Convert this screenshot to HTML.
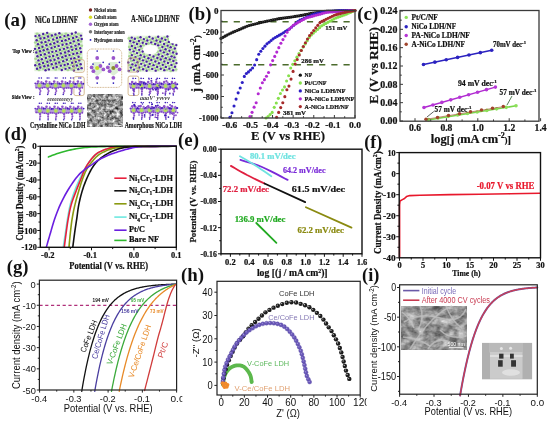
<!DOCTYPE html>
<html><head><meta charset="utf-8"><style>
html,body{margin:0;padding:0;background:#fff;}
svg{display:block;will-change:transform;}
</style></head><body>
<svg width="550" height="424" viewBox="0 0 550 424">
<defs>
<pattern id="crys" width="4.3" height="4.3" patternUnits="userSpaceOnUse" patternTransform="rotate(-20)">
  <rect width="4.3" height="4.3" fill="#d8eed0"/>
  <ellipse cx="2.15" cy="2.15" rx="1.9" ry="1.4" fill="#9ed286"/>
  <circle cx="0" cy="0" r="1.15" fill="#5024b8"/><circle cx="4.3" cy="0" r="1.15" fill="#5024b8"/>
  <circle cx="0" cy="4.3" r="1.15" fill="#5024b8"/><circle cx="4.3" cy="4.3" r="1.15" fill="#5024b8"/>
  <circle cx="2.15" cy="2.15" r="1.0" fill="#6a34c8"/>
</pattern>
<pattern id="crys2" width="4.3" height="4.3" patternUnits="userSpaceOnUse" patternTransform="rotate(35)">
  <rect width="4.3" height="4.3" fill="#e6f3e0"/>
  <ellipse cx="2.15" cy="2.15" rx="1.7" ry="1.2" fill="#a2d68c"/>
  <circle cx="0" cy="0" r="1.1" fill="#5024b8"/><circle cx="4.3" cy="0" r="1.1" fill="#5024b8"/>
  <circle cx="0" cy="4.3" r="1.1" fill="#5024b8"/><circle cx="4.3" cy="4.3" r="1.1" fill="#5024b8"/>
  <circle cx="2.15" cy="2.15" r="0.95" fill="#6a34c8"/>
</pattern>
<filter id="semf" x="0" y="0" width="1" height="1" color-interpolation-filters="sRGB">
  <feTurbulence type="fractalNoise" baseFrequency="0.3" numOctaves="3" seed="4" result="n"/>
  <feColorMatrix in="n" type="saturate" values="0" result="g"/>
  <feComponentTransfer in="g"><feFuncR type="linear" slope="1.7" intercept="-0.27"/><feFuncG type="linear" slope="1.7" intercept="-0.27"/><feFuncB type="linear" slope="1.7" intercept="-0.27"/><feFuncA type="linear" slope="0" intercept="1"/></feComponentTransfer>
</filter>
<filter id="semf2" x="0" y="0" width="1" height="1">
  <feTurbulence type="fractalNoise" baseFrequency="0.12" numOctaves="3" seed="9" result="n"/>
  <feColorMatrix in="n" type="saturate" values="0" result="g"/>
  <feComponentTransfer in="g"><feFuncR type="linear" slope="1.1" intercept="-0.02"/><feFuncG type="linear" slope="1.1" intercept="-0.02"/><feFuncB type="linear" slope="1.1" intercept="-0.02"/><feFuncA type="linear" slope="0" intercept="1"/></feComponentTransfer>
</filter>

<filter id="sem2f" x="0" y="0" width="1" height="1" color-interpolation-filters="sRGB">
  <feTurbulence type="fractalNoise" baseFrequency="0.12 0.16" numOctaves="3" seed="11" result="n"/>
  <feColorMatrix in="n" type="saturate" values="0" result="g"/>
  <feComponentTransfer in="g"><feFuncR type="linear" slope="1.0" intercept="0.08"/><feFuncG type="linear" slope="1.0" intercept="0.08"/><feFuncB type="linear" slope="1.0" intercept="0.08"/><feFuncA type="linear" slope="0" intercept="1"/></feComponentTransfer>
</filter>
</defs>
<rect width="550" height="424" fill="#fff"/>
<text x="4.20" y="25.90" font-family='"Liberation Serif", serif' font-weight="bold" font-size="19" fill="#111" textLength="22.00" lengthAdjust="spacingAndGlyphs">(a)</text>
<text x="34.90" y="23.10" font-family='"Liberation Serif", serif' font-weight="bold" font-size="10" fill="#111" stroke="#111" stroke-width="0.22" textLength="43.10" lengthAdjust="spacingAndGlyphs" >NiCo LDH/NF</text>
<text x="131.00" y="22.37" font-family='"Liberation Serif", serif' font-weight="bold" font-size="9.6" fill="#111" stroke="#111" stroke-width="0.22" textLength="48.50" lengthAdjust="spacingAndGlyphs" >A-NiCo LDH/NF</text>
<text x="12.40" y="52.68" font-family='"Liberation Serif", serif' font-weight="bold" font-size="6.6" fill="#111" stroke="#111" stroke-width="0.22" textLength="22.10" lengthAdjust="spacingAndGlyphs" >Top View :</text>
<text x="11.80" y="98.98" font-family='"Liberation Serif", serif' font-weight="bold" font-size="6.6" fill="#111" stroke="#111" stroke-width="0.22" textLength="22.70" lengthAdjust="spacingAndGlyphs" >Side View :</text>
<text x="30.00" y="127.84" font-family='"Liberation Serif", serif' font-weight="bold" font-size="8.6" fill="#111" stroke="#111" stroke-width="0.22" textLength="55.50" lengthAdjust="spacingAndGlyphs" >Crystalline NiCo LDH</text>
<text x="124.70" y="127.84" font-family='"Liberation Serif", serif' font-weight="bold" font-size="8.6" fill="#111" stroke="#111" stroke-width="0.22" textLength="57.40" lengthAdjust="spacingAndGlyphs" >Amorphous NiCo LDH</text>
<circle cx="90.5" cy="10" r="1.7" fill="#7a2222"/>
<text x="93.90" y="12.11" font-family='"Liberation Serif", serif' font-weight="bold" font-size="6.4" fill="#2a2a2a" stroke="#2a2a2a" stroke-width="0.22" textLength="22.60" lengthAdjust="spacingAndGlyphs" >Nickel atom</text>
<circle cx="90.5" cy="17.3" r="1.7" fill="#d8dc28"/>
<text x="93.90" y="19.41" font-family='"Liberation Serif", serif' font-weight="bold" font-size="6.4" fill="#2a2a2a" stroke="#2a2a2a" stroke-width="0.22" textLength="22.60" lengthAdjust="spacingAndGlyphs" >Cobalt atom</text>
<circle cx="90.5" cy="24.3" r="1.7" fill="#a466d4"/>
<text x="93.90" y="26.41" font-family='"Liberation Serif", serif' font-weight="bold" font-size="6.4" fill="#2a2a2a" stroke="#2a2a2a" stroke-width="0.22" textLength="24.60" lengthAdjust="spacingAndGlyphs" >Oxygen atom</text>
<circle cx="90.5" cy="31.7" r="1.7" fill="#767676"/>
<text x="93.90" y="33.81" font-family='"Liberation Serif", serif' font-weight="bold" font-size="6.4" fill="#2a2a2a" stroke="#2a2a2a" stroke-width="0.22" textLength="30.90" lengthAdjust="spacingAndGlyphs" >Interlayer anion</text>
<circle cx="90.5" cy="39.9" r="0.9" fill="#2a18b8"/>
<text x="93.90" y="42.01" font-family='"Liberation Serif", serif' font-weight="bold" font-size="6.4" fill="#2a2a2a" stroke="#2a2a2a" stroke-width="0.22" textLength="29.10" lengthAdjust="spacingAndGlyphs" >Hydrogen atom</text>
<rect x="34.4" y="32.4" width="48.30" height="38.80" fill="#dff0d8"/>
<ellipse cx="35.69" cy="58.78" rx="1.6" ry="1.3" fill="#acd898"/>
<ellipse cx="36.87" cy="62.61" rx="1.6" ry="1.3" fill="#acd898"/>
<ellipse cx="38.13" cy="66.09" rx="1.6" ry="1.3" fill="#acd898"/>
<ellipse cx="39.01" cy="69.99" rx="1.6" ry="1.3" fill="#acd898"/>
<ellipse cx="35.45" cy="42.44" rx="1.6" ry="1.3" fill="#acd898"/>
<ellipse cx="36.43" cy="46.04" rx="1.6" ry="1.3" fill="#acd898"/>
<ellipse cx="37.53" cy="50.27" rx="1.6" ry="1.3" fill="#acd898"/>
<ellipse cx="38.65" cy="53.59" rx="1.6" ry="1.3" fill="#acd898"/>
<ellipse cx="39.53" cy="57.37" rx="1.6" ry="1.3" fill="#acd898"/>
<ellipse cx="40.88" cy="61.68" rx="1.6" ry="1.3" fill="#acd898"/>
<ellipse cx="41.79" cy="65.43" rx="1.6" ry="1.3" fill="#acd898"/>
<ellipse cx="43.18" cy="68.81" rx="1.6" ry="1.3" fill="#acd898"/>
<ellipse cx="37.13" cy="33.71" rx="1.6" ry="1.3" fill="#acd898"/>
<ellipse cx="38.03" cy="37.43" rx="1.6" ry="1.3" fill="#acd898"/>
<ellipse cx="38.96" cy="41.40" rx="1.6" ry="1.3" fill="#acd898"/>
<ellipse cx="40.26" cy="45.41" rx="1.6" ry="1.3" fill="#acd898"/>
<ellipse cx="41.35" cy="48.75" rx="1.6" ry="1.3" fill="#acd898"/>
<ellipse cx="42.59" cy="52.79" rx="1.6" ry="1.3" fill="#acd898"/>
<ellipse cx="43.65" cy="56.59" rx="1.6" ry="1.3" fill="#acd898"/>
<ellipse cx="44.76" cy="60.64" rx="1.6" ry="1.3" fill="#acd898"/>
<ellipse cx="45.60" cy="63.94" rx="1.6" ry="1.3" fill="#acd898"/>
<ellipse cx="46.97" cy="67.68" rx="1.6" ry="1.3" fill="#acd898"/>
<ellipse cx="41.98" cy="36.74" rx="1.6" ry="1.3" fill="#acd898"/>
<ellipse cx="42.74" cy="40.00" rx="1.6" ry="1.3" fill="#acd898"/>
<ellipse cx="43.77" cy="43.99" rx="1.6" ry="1.3" fill="#acd898"/>
<ellipse cx="44.78" cy="48.07" rx="1.6" ry="1.3" fill="#acd898"/>
<ellipse cx="46.39" cy="51.58" rx="1.6" ry="1.3" fill="#acd898"/>
<ellipse cx="47.34" cy="55.51" rx="1.6" ry="1.3" fill="#acd898"/>
<ellipse cx="48.61" cy="59.25" rx="1.6" ry="1.3" fill="#acd898"/>
<ellipse cx="49.29" cy="62.93" rx="1.6" ry="1.3" fill="#acd898"/>
<ellipse cx="50.58" cy="66.56" rx="1.6" ry="1.3" fill="#acd898"/>
<ellipse cx="45.63" cy="35.09" rx="1.6" ry="1.3" fill="#acd898"/>
<ellipse cx="46.76" cy="39.06" rx="1.6" ry="1.3" fill="#acd898"/>
<ellipse cx="47.46" cy="42.69" rx="1.6" ry="1.3" fill="#acd898"/>
<ellipse cx="48.70" cy="46.72" rx="1.6" ry="1.3" fill="#acd898"/>
<ellipse cx="49.87" cy="50.44" rx="1.6" ry="1.3" fill="#acd898"/>
<ellipse cx="50.93" cy="54.28" rx="1.6" ry="1.3" fill="#acd898"/>
<ellipse cx="52.19" cy="58.29" rx="1.6" ry="1.3" fill="#acd898"/>
<ellipse cx="53.43" cy="61.79" rx="1.6" ry="1.3" fill="#acd898"/>
<ellipse cx="54.47" cy="65.51" rx="1.6" ry="1.3" fill="#acd898"/>
<ellipse cx="55.65" cy="69.51" rx="1.6" ry="1.3" fill="#acd898"/>
<ellipse cx="49.25" cy="34.34" rx="1.6" ry="1.3" fill="#acd898"/>
<ellipse cx="50.29" cy="37.82" rx="1.6" ry="1.3" fill="#acd898"/>
<ellipse cx="51.73" cy="42.05" rx="1.6" ry="1.3" fill="#acd898"/>
<ellipse cx="52.83" cy="45.74" rx="1.6" ry="1.3" fill="#acd898"/>
<ellipse cx="53.53" cy="49.33" rx="1.6" ry="1.3" fill="#acd898"/>
<ellipse cx="54.76" cy="53.20" rx="1.6" ry="1.3" fill="#acd898"/>
<ellipse cx="56.20" cy="56.84" rx="1.6" ry="1.3" fill="#acd898"/>
<ellipse cx="57.28" cy="61.14" rx="1.6" ry="1.3" fill="#acd898"/>
<ellipse cx="58.41" cy="64.48" rx="1.6" ry="1.3" fill="#acd898"/>
<ellipse cx="59.35" cy="68.46" rx="1.6" ry="1.3" fill="#acd898"/>
<ellipse cx="54.09" cy="36.69" rx="1.6" ry="1.3" fill="#acd898"/>
<ellipse cx="55.54" cy="40.48" rx="1.6" ry="1.3" fill="#acd898"/>
<ellipse cx="56.70" cy="44.79" rx="1.6" ry="1.3" fill="#acd898"/>
<ellipse cx="57.26" cy="48.50" rx="1.6" ry="1.3" fill="#acd898"/>
<ellipse cx="58.75" cy="52.16" rx="1.6" ry="1.3" fill="#acd898"/>
<ellipse cx="59.82" cy="55.85" rx="1.6" ry="1.3" fill="#acd898"/>
<ellipse cx="60.84" cy="59.92" rx="1.6" ry="1.3" fill="#acd898"/>
<ellipse cx="61.97" cy="63.74" rx="1.6" ry="1.3" fill="#acd898"/>
<ellipse cx="63.30" cy="67.53" rx="1.6" ry="1.3" fill="#acd898"/>
<ellipse cx="57.78" cy="35.71" rx="1.6" ry="1.3" fill="#acd898"/>
<ellipse cx="59.10" cy="39.63" rx="1.6" ry="1.3" fill="#acd898"/>
<ellipse cx="59.98" cy="43.23" rx="1.6" ry="1.3" fill="#acd898"/>
<ellipse cx="61.63" cy="47.46" rx="1.6" ry="1.3" fill="#acd898"/>
<ellipse cx="62.34" cy="50.94" rx="1.6" ry="1.3" fill="#acd898"/>
<ellipse cx="63.60" cy="54.77" rx="1.6" ry="1.3" fill="#acd898"/>
<ellipse cx="64.42" cy="58.68" rx="1.6" ry="1.3" fill="#acd898"/>
<ellipse cx="65.50" cy="62.26" rx="1.6" ry="1.3" fill="#acd898"/>
<ellipse cx="67.02" cy="66.18" rx="1.6" ry="1.3" fill="#acd898"/>
<ellipse cx="67.91" cy="69.97" rx="1.6" ry="1.3" fill="#acd898"/>
<ellipse cx="61.80" cy="34.87" rx="1.6" ry="1.3" fill="#acd898"/>
<ellipse cx="62.97" cy="38.67" rx="1.6" ry="1.3" fill="#acd898"/>
<ellipse cx="64.01" cy="42.58" rx="1.6" ry="1.3" fill="#acd898"/>
<ellipse cx="65.39" cy="46.32" rx="1.6" ry="1.3" fill="#acd898"/>
<ellipse cx="66.02" cy="50.14" rx="1.6" ry="1.3" fill="#acd898"/>
<ellipse cx="67.53" cy="53.85" rx="1.6" ry="1.3" fill="#acd898"/>
<ellipse cx="68.21" cy="57.60" rx="1.6" ry="1.3" fill="#acd898"/>
<ellipse cx="69.71" cy="61.08" rx="1.6" ry="1.3" fill="#acd898"/>
<ellipse cx="70.88" cy="64.96" rx="1.6" ry="1.3" fill="#acd898"/>
<ellipse cx="71.52" cy="69.16" rx="1.6" ry="1.3" fill="#acd898"/>
<ellipse cx="65.92" cy="33.70" rx="1.6" ry="1.3" fill="#acd898"/>
<ellipse cx="66.93" cy="37.17" rx="1.6" ry="1.3" fill="#acd898"/>
<ellipse cx="67.98" cy="41.01" rx="1.6" ry="1.3" fill="#acd898"/>
<ellipse cx="68.69" cy="44.94" rx="1.6" ry="1.3" fill="#acd898"/>
<ellipse cx="69.90" cy="48.66" rx="1.6" ry="1.3" fill="#acd898"/>
<ellipse cx="71.30" cy="52.59" rx="1.6" ry="1.3" fill="#acd898"/>
<ellipse cx="72.16" cy="56.40" rx="1.6" ry="1.3" fill="#acd898"/>
<ellipse cx="73.63" cy="60.20" rx="1.6" ry="1.3" fill="#acd898"/>
<ellipse cx="74.56" cy="64.20" rx="1.6" ry="1.3" fill="#acd898"/>
<ellipse cx="75.54" cy="67.94" rx="1.6" ry="1.3" fill="#acd898"/>
<ellipse cx="70.80" cy="36.36" rx="1.6" ry="1.3" fill="#acd898"/>
<ellipse cx="71.46" cy="40.01" rx="1.6" ry="1.3" fill="#acd898"/>
<ellipse cx="72.64" cy="43.79" rx="1.6" ry="1.3" fill="#acd898"/>
<ellipse cx="73.73" cy="47.87" rx="1.6" ry="1.3" fill="#acd898"/>
<ellipse cx="75.00" cy="51.41" rx="1.6" ry="1.3" fill="#acd898"/>
<ellipse cx="76.04" cy="55.28" rx="1.6" ry="1.3" fill="#acd898"/>
<ellipse cx="77.04" cy="59.31" rx="1.6" ry="1.3" fill="#acd898"/>
<ellipse cx="78.24" cy="63.01" rx="1.6" ry="1.3" fill="#acd898"/>
<ellipse cx="79.54" cy="66.78" rx="1.6" ry="1.3" fill="#acd898"/>
<ellipse cx="74.49" cy="35.53" rx="1.6" ry="1.3" fill="#acd898"/>
<ellipse cx="75.29" cy="39.18" rx="1.6" ry="1.3" fill="#acd898"/>
<ellipse cx="76.76" cy="42.70" rx="1.6" ry="1.3" fill="#acd898"/>
<ellipse cx="77.46" cy="46.77" rx="1.6" ry="1.3" fill="#acd898"/>
<ellipse cx="78.60" cy="50.67" rx="1.6" ry="1.3" fill="#acd898"/>
<ellipse cx="79.99" cy="54.00" rx="1.6" ry="1.3" fill="#acd898"/>
<ellipse cx="80.83" cy="57.96" rx="1.6" ry="1.3" fill="#acd898"/>
<ellipse cx="78.42" cy="34.08" rx="1.6" ry="1.3" fill="#acd898"/>
<ellipse cx="79.11" cy="38.05" rx="1.6" ry="1.3" fill="#acd898"/>
<ellipse cx="80.60" cy="41.51" rx="1.6" ry="1.3" fill="#acd898"/>
<ellipse cx="81.61" cy="45.70" rx="1.6" ry="1.3" fill="#acd898"/>
<circle cx="35.26" cy="65.24" r="1.2" fill="#4c22a0"/>
<circle cx="37.05" cy="68.78" r="1.2" fill="#4c22a0"/>
<circle cx="35.02" cy="48.87" r="1.2" fill="#4c22a0"/>
<circle cx="36.28" cy="52.56" r="1.2" fill="#4c22a0"/>
<circle cx="37.46" cy="56.28" r="1.2" fill="#4c22a0"/>
<circle cx="38.45" cy="60.39" r="1.2" fill="#4c22a0"/>
<circle cx="39.36" cy="64.20" r="1.2" fill="#4c22a0"/>
<circle cx="40.25" cy="67.50" r="1.2" fill="#4c22a0"/>
<circle cx="35.51" cy="36.12" r="1.2" fill="#4c22a0"/>
<circle cx="36.66" cy="40.28" r="1.2" fill="#4c22a0"/>
<circle cx="37.95" cy="44.14" r="1.2" fill="#4c22a0"/>
<circle cx="39.05" cy="47.93" r="1.2" fill="#4c22a0"/>
<circle cx="40.05" cy="51.20" r="1.2" fill="#4c22a0"/>
<circle cx="40.85" cy="54.89" r="1.2" fill="#4c22a0"/>
<circle cx="41.81" cy="59.21" r="1.2" fill="#4c22a0"/>
<circle cx="43.06" cy="62.99" r="1.2" fill="#4c22a0"/>
<circle cx="44.38" cy="66.28" r="1.2" fill="#4c22a0"/>
<circle cx="45.55" cy="70.28" r="1.2" fill="#4c22a0"/>
<circle cx="39.30" cy="35.45" r="1.2" fill="#4c22a0"/>
<circle cx="40.47" cy="38.57" r="1.2" fill="#4c22a0"/>
<circle cx="41.58" cy="42.46" r="1.2" fill="#4c22a0"/>
<circle cx="42.47" cy="46.82" r="1.2" fill="#4c22a0"/>
<circle cx="43.67" cy="50.31" r="1.2" fill="#4c22a0"/>
<circle cx="44.84" cy="54.18" r="1.2" fill="#4c22a0"/>
<circle cx="45.85" cy="58.05" r="1.2" fill="#4c22a0"/>
<circle cx="47.33" cy="61.71" r="1.2" fill="#4c22a0"/>
<circle cx="48.04" cy="65.56" r="1.2" fill="#4c22a0"/>
<circle cx="48.86" cy="69.38" r="1.2" fill="#4c22a0"/>
<circle cx="43.19" cy="33.98" r="1.2" fill="#4c22a0"/>
<circle cx="44.34" cy="37.97" r="1.2" fill="#4c22a0"/>
<circle cx="45.42" cy="41.92" r="1.2" fill="#4c22a0"/>
<circle cx="46.46" cy="45.27" r="1.2" fill="#4c22a0"/>
<circle cx="47.41" cy="49.27" r="1.2" fill="#4c22a0"/>
<circle cx="48.79" cy="52.67" r="1.2" fill="#4c22a0"/>
<circle cx="49.57" cy="56.61" r="1.2" fill="#4c22a0"/>
<circle cx="50.58" cy="60.55" r="1.2" fill="#4c22a0"/>
<circle cx="51.78" cy="64.28" r="1.2" fill="#4c22a0"/>
<circle cx="53.25" cy="67.97" r="1.2" fill="#4c22a0"/>
<circle cx="47.17" cy="32.87" r="1.2" fill="#4c22a0"/>
<circle cx="48.02" cy="36.48" r="1.2" fill="#4c22a0"/>
<circle cx="48.88" cy="40.35" r="1.2" fill="#4c22a0"/>
<circle cx="50.41" cy="44.19" r="1.2" fill="#4c22a0"/>
<circle cx="51.51" cy="47.94" r="1.2" fill="#4c22a0"/>
<circle cx="52.34" cy="51.84" r="1.2" fill="#4c22a0"/>
<circle cx="53.15" cy="56.01" r="1.2" fill="#4c22a0"/>
<circle cx="54.55" cy="59.82" r="1.2" fill="#4c22a0"/>
<circle cx="55.87" cy="63.54" r="1.2" fill="#4c22a0"/>
<circle cx="56.65" cy="66.99" r="1.2" fill="#4c22a0"/>
<circle cx="51.86" cy="35.45" r="1.2" fill="#4c22a0"/>
<circle cx="53.18" cy="39.54" r="1.2" fill="#4c22a0"/>
<circle cx="54.28" cy="43.25" r="1.2" fill="#4c22a0"/>
<circle cx="54.87" cy="46.86" r="1.2" fill="#4c22a0"/>
<circle cx="56.14" cy="51.11" r="1.2" fill="#4c22a0"/>
<circle cx="57.13" cy="54.85" r="1.2" fill="#4c22a0"/>
<circle cx="58.30" cy="58.19" r="1.2" fill="#4c22a0"/>
<circle cx="59.27" cy="62.40" r="1.2" fill="#4c22a0"/>
<circle cx="60.83" cy="65.66" r="1.2" fill="#4c22a0"/>
<circle cx="61.79" cy="70.05" r="1.2" fill="#4c22a0"/>
<circle cx="55.44" cy="34.52" r="1.2" fill="#4c22a0"/>
<circle cx="56.89" cy="37.95" r="1.2" fill="#4c22a0"/>
<circle cx="57.54" cy="41.80" r="1.2" fill="#4c22a0"/>
<circle cx="58.61" cy="45.90" r="1.2" fill="#4c22a0"/>
<circle cx="59.90" cy="49.80" r="1.2" fill="#4c22a0"/>
<circle cx="60.88" cy="53.38" r="1.2" fill="#4c22a0"/>
<circle cx="62.35" cy="57.22" r="1.2" fill="#4c22a0"/>
<circle cx="63.21" cy="61.17" r="1.2" fill="#4c22a0"/>
<circle cx="64.61" cy="64.99" r="1.2" fill="#4c22a0"/>
<circle cx="65.50" cy="68.84" r="1.2" fill="#4c22a0"/>
<circle cx="59.37" cy="33.22" r="1.2" fill="#4c22a0"/>
<circle cx="60.20" cy="37.15" r="1.2" fill="#4c22a0"/>
<circle cx="61.91" cy="40.91" r="1.2" fill="#4c22a0"/>
<circle cx="62.53" cy="44.77" r="1.2" fill="#4c22a0"/>
<circle cx="63.91" cy="48.87" r="1.2" fill="#4c22a0"/>
<circle cx="65.06" cy="52.44" r="1.2" fill="#4c22a0"/>
<circle cx="65.65" cy="55.95" r="1.2" fill="#4c22a0"/>
<circle cx="66.81" cy="59.72" r="1.2" fill="#4c22a0"/>
<circle cx="67.87" cy="64.04" r="1.2" fill="#4c22a0"/>
<circle cx="69.42" cy="67.84" r="1.2" fill="#4c22a0"/>
<circle cx="64.49" cy="36.11" r="1.2" fill="#4c22a0"/>
<circle cx="65.57" cy="40.20" r="1.2" fill="#4c22a0"/>
<circle cx="66.54" cy="43.93" r="1.2" fill="#4c22a0"/>
<circle cx="67.42" cy="47.58" r="1.2" fill="#4c22a0"/>
<circle cx="68.61" cy="51.23" r="1.2" fill="#4c22a0"/>
<circle cx="69.51" cy="55.10" r="1.2" fill="#4c22a0"/>
<circle cx="71.07" cy="58.66" r="1.2" fill="#4c22a0"/>
<circle cx="72.12" cy="62.71" r="1.2" fill="#4c22a0"/>
<circle cx="73.38" cy="66.25" r="1.2" fill="#4c22a0"/>
<circle cx="73.92" cy="70.47" r="1.2" fill="#4c22a0"/>
<circle cx="68.06" cy="35.15" r="1.2" fill="#4c22a0"/>
<circle cx="68.99" cy="38.86" r="1.2" fill="#4c22a0"/>
<circle cx="70.43" cy="42.92" r="1.2" fill="#4c22a0"/>
<circle cx="71.34" cy="46.65" r="1.2" fill="#4c22a0"/>
<circle cx="72.30" cy="49.87" r="1.2" fill="#4c22a0"/>
<circle cx="73.37" cy="53.90" r="1.2" fill="#4c22a0"/>
<circle cx="74.45" cy="58.14" r="1.2" fill="#4c22a0"/>
<circle cx="75.78" cy="61.83" r="1.2" fill="#4c22a0"/>
<circle cx="76.89" cy="65.55" r="1.2" fill="#4c22a0"/>
<circle cx="78.25" cy="69.13" r="1.2" fill="#4c22a0"/>
<circle cx="71.88" cy="33.71" r="1.2" fill="#4c22a0"/>
<circle cx="73.12" cy="38.02" r="1.2" fill="#4c22a0"/>
<circle cx="73.88" cy="41.33" r="1.2" fill="#4c22a0"/>
<circle cx="75.45" cy="45.58" r="1.2" fill="#4c22a0"/>
<circle cx="76.17" cy="49.05" r="1.2" fill="#4c22a0"/>
<circle cx="77.11" cy="53.13" r="1.2" fill="#4c22a0"/>
<circle cx="78.56" cy="56.82" r="1.2" fill="#4c22a0"/>
<circle cx="79.25" cy="60.38" r="1.2" fill="#4c22a0"/>
<circle cx="80.66" cy="64.29" r="1.2" fill="#4c22a0"/>
<circle cx="81.60" cy="68.16" r="1.2" fill="#4c22a0"/>
<circle cx="75.73" cy="32.53" r="1.2" fill="#4c22a0"/>
<circle cx="76.53" cy="36.87" r="1.2" fill="#4c22a0"/>
<circle cx="78.21" cy="40.31" r="1.2" fill="#4c22a0"/>
<circle cx="78.86" cy="44.32" r="1.2" fill="#4c22a0"/>
<circle cx="80.21" cy="48.21" r="1.2" fill="#4c22a0"/>
<circle cx="81.04" cy="51.98" r="1.2" fill="#4c22a0"/>
<circle cx="80.92" cy="35.62" r="1.2" fill="#4c22a0"/>
<circle cx="81.73" cy="39.03" r="1.2" fill="#4c22a0"/>
<rect x="128" y="35.6" width="49.20" height="36.50" fill="#e8f4e2"/>
<ellipse cx="129.02" cy="38.40" rx="1.6" ry="1.3" fill="#acd898"/>
<ellipse cx="132.73" cy="40.22" rx="1.6" ry="1.3" fill="#acd898"/>
<ellipse cx="130.57" cy="43.53" rx="1.6" ry="1.3" fill="#acd898"/>
<ellipse cx="129.39" cy="46.92" rx="1.6" ry="1.3" fill="#acd898"/>
<ellipse cx="137.83" cy="37.90" rx="1.6" ry="1.3" fill="#acd898"/>
<ellipse cx="136.18" cy="41.69" rx="1.6" ry="1.3" fill="#acd898"/>
<ellipse cx="134.32" cy="45.50" rx="1.6" ry="1.3" fill="#acd898"/>
<ellipse cx="132.93" cy="48.63" rx="1.6" ry="1.3" fill="#acd898"/>
<ellipse cx="130.75" cy="52.67" rx="1.6" ry="1.3" fill="#acd898"/>
<ellipse cx="129.64" cy="56.27" rx="1.6" ry="1.3" fill="#acd898"/>
<ellipse cx="141.32" cy="40.03" rx="1.6" ry="1.3" fill="#acd898"/>
<ellipse cx="139.57" cy="43.61" rx="1.6" ry="1.3" fill="#acd898"/>
<ellipse cx="138.29" cy="46.83" rx="1.6" ry="1.3" fill="#acd898"/>
<ellipse cx="136.14" cy="50.29" rx="1.6" ry="1.3" fill="#acd898"/>
<ellipse cx="134.35" cy="54.26" rx="1.6" ry="1.3" fill="#acd898"/>
<ellipse cx="133.14" cy="57.74" rx="1.6" ry="1.3" fill="#acd898"/>
<ellipse cx="131.37" cy="61.08" rx="1.6" ry="1.3" fill="#acd898"/>
<ellipse cx="129.70" cy="65.16" rx="1.6" ry="1.3" fill="#acd898"/>
<ellipse cx="146.67" cy="37.90" rx="1.6" ry="1.3" fill="#acd898"/>
<ellipse cx="144.76" cy="41.18" rx="1.6" ry="1.3" fill="#acd898"/>
<ellipse cx="143.17" cy="45.20" rx="1.6" ry="1.3" fill="#acd898"/>
<ellipse cx="141.56" cy="48.56" rx="1.6" ry="1.3" fill="#acd898"/>
<ellipse cx="139.71" cy="52.40" rx="1.6" ry="1.3" fill="#acd898"/>
<ellipse cx="137.97" cy="56.12" rx="1.6" ry="1.3" fill="#acd898"/>
<ellipse cx="136.62" cy="59.70" rx="1.6" ry="1.3" fill="#acd898"/>
<ellipse cx="134.88" cy="62.94" rx="1.6" ry="1.3" fill="#acd898"/>
<ellipse cx="132.90" cy="66.44" rx="1.6" ry="1.3" fill="#acd898"/>
<ellipse cx="131.25" cy="69.98" rx="1.6" ry="1.3" fill="#acd898"/>
<ellipse cx="150.41" cy="39.75" rx="1.6" ry="1.3" fill="#acd898"/>
<ellipse cx="148.38" cy="43.40" rx="1.6" ry="1.3" fill="#acd898"/>
<ellipse cx="143.69" cy="54.22" rx="1.6" ry="1.3" fill="#acd898"/>
<ellipse cx="141.61" cy="57.51" rx="1.6" ry="1.3" fill="#acd898"/>
<ellipse cx="140.03" cy="61.12" rx="1.6" ry="1.3" fill="#acd898"/>
<ellipse cx="138.74" cy="64.72" rx="1.6" ry="1.3" fill="#acd898"/>
<ellipse cx="136.74" cy="68.22" rx="1.6" ry="1.3" fill="#acd898"/>
<ellipse cx="155.93" cy="37.73" rx="1.6" ry="1.3" fill="#acd898"/>
<ellipse cx="153.95" cy="41.15" rx="1.6" ry="1.3" fill="#acd898"/>
<ellipse cx="152.42" cy="45.07" rx="1.6" ry="1.3" fill="#acd898"/>
<ellipse cx="147.31" cy="55.77" rx="1.6" ry="1.3" fill="#acd898"/>
<ellipse cx="145.55" cy="59.41" rx="1.6" ry="1.3" fill="#acd898"/>
<ellipse cx="143.62" cy="62.84" rx="1.6" ry="1.3" fill="#acd898"/>
<ellipse cx="141.93" cy="66.72" rx="1.6" ry="1.3" fill="#acd898"/>
<ellipse cx="140.06" cy="70.08" rx="1.6" ry="1.3" fill="#acd898"/>
<ellipse cx="159.34" cy="39.53" rx="1.6" ry="1.3" fill="#acd898"/>
<ellipse cx="157.69" cy="43.15" rx="1.6" ry="1.3" fill="#acd898"/>
<ellipse cx="151.04" cy="57.62" rx="1.6" ry="1.3" fill="#acd898"/>
<ellipse cx="148.85" cy="61.15" rx="1.6" ry="1.3" fill="#acd898"/>
<ellipse cx="147.46" cy="64.68" rx="1.6" ry="1.3" fill="#acd898"/>
<ellipse cx="145.82" cy="68.20" rx="1.6" ry="1.3" fill="#acd898"/>
<ellipse cx="164.63" cy="37.58" rx="1.6" ry="1.3" fill="#acd898"/>
<ellipse cx="162.57" cy="40.85" rx="1.6" ry="1.3" fill="#acd898"/>
<ellipse cx="160.98" cy="44.76" rx="1.6" ry="1.3" fill="#acd898"/>
<ellipse cx="159.43" cy="48.09" rx="1.6" ry="1.3" fill="#acd898"/>
<ellipse cx="157.64" cy="51.66" rx="1.6" ry="1.3" fill="#acd898"/>
<ellipse cx="155.87" cy="55.17" rx="1.6" ry="1.3" fill="#acd898"/>
<ellipse cx="154.33" cy="58.98" rx="1.6" ry="1.3" fill="#acd898"/>
<ellipse cx="152.49" cy="62.89" rx="1.6" ry="1.3" fill="#acd898"/>
<ellipse cx="150.82" cy="66.20" rx="1.6" ry="1.3" fill="#acd898"/>
<ellipse cx="149.17" cy="69.57" rx="1.6" ry="1.3" fill="#acd898"/>
<ellipse cx="168.20" cy="39.42" rx="1.6" ry="1.3" fill="#acd898"/>
<ellipse cx="166.64" cy="42.84" rx="1.6" ry="1.3" fill="#acd898"/>
<ellipse cx="164.81" cy="46.39" rx="1.6" ry="1.3" fill="#acd898"/>
<ellipse cx="163.12" cy="49.86" rx="1.6" ry="1.3" fill="#acd898"/>
<ellipse cx="161.11" cy="53.59" rx="1.6" ry="1.3" fill="#acd898"/>
<ellipse cx="159.73" cy="57.38" rx="1.6" ry="1.3" fill="#acd898"/>
<ellipse cx="157.79" cy="60.62" rx="1.6" ry="1.3" fill="#acd898"/>
<ellipse cx="156.53" cy="64.60" rx="1.6" ry="1.3" fill="#acd898"/>
<ellipse cx="154.84" cy="67.95" rx="1.6" ry="1.3" fill="#acd898"/>
<ellipse cx="169.92" cy="44.44" rx="1.6" ry="1.3" fill="#acd898"/>
<ellipse cx="168.32" cy="47.93" rx="1.6" ry="1.3" fill="#acd898"/>
<ellipse cx="166.36" cy="51.67" rx="1.6" ry="1.3" fill="#acd898"/>
<ellipse cx="165.12" cy="55.10" rx="1.6" ry="1.3" fill="#acd898"/>
<ellipse cx="163.54" cy="58.73" rx="1.6" ry="1.3" fill="#acd898"/>
<ellipse cx="161.64" cy="62.51" rx="1.6" ry="1.3" fill="#acd898"/>
<ellipse cx="160.01" cy="65.93" rx="1.6" ry="1.3" fill="#acd898"/>
<ellipse cx="158.03" cy="69.67" rx="1.6" ry="1.3" fill="#acd898"/>
<ellipse cx="173.37" cy="46.00" rx="1.6" ry="1.3" fill="#acd898"/>
<ellipse cx="172.18" cy="49.78" rx="1.6" ry="1.3" fill="#acd898"/>
<ellipse cx="170.21" cy="53.40" rx="1.6" ry="1.3" fill="#acd898"/>
<ellipse cx="168.54" cy="57.20" rx="1.6" ry="1.3" fill="#acd898"/>
<ellipse cx="167.06" cy="60.37" rx="1.6" ry="1.3" fill="#acd898"/>
<ellipse cx="164.89" cy="64.35" rx="1.6" ry="1.3" fill="#acd898"/>
<ellipse cx="163.32" cy="67.92" rx="1.6" ry="1.3" fill="#acd898"/>
<ellipse cx="175.34" cy="51.50" rx="1.6" ry="1.3" fill="#acd898"/>
<ellipse cx="173.69" cy="55.24" rx="1.6" ry="1.3" fill="#acd898"/>
<ellipse cx="171.87" cy="58.78" rx="1.6" ry="1.3" fill="#acd898"/>
<ellipse cx="170.57" cy="61.98" rx="1.6" ry="1.3" fill="#acd898"/>
<ellipse cx="168.84" cy="66.12" rx="1.6" ry="1.3" fill="#acd898"/>
<ellipse cx="166.93" cy="69.70" rx="1.6" ry="1.3" fill="#acd898"/>
<ellipse cx="175.51" cy="60.28" rx="1.6" ry="1.3" fill="#acd898"/>
<ellipse cx="174.10" cy="64.10" rx="1.6" ry="1.3" fill="#acd898"/>
<ellipse cx="172.31" cy="67.44" rx="1.6" ry="1.3" fill="#acd898"/>
<ellipse cx="170.91" cy="71.07" rx="1.6" ry="1.3" fill="#acd898"/>
<ellipse cx="175.95" cy="69.50" rx="1.6" ry="1.3" fill="#acd898"/>
<circle cx="131.77" cy="37.60" r="1.2" fill="#4c22a0"/>
<circle cx="130.21" cy="41.00" r="1.2" fill="#4c22a0"/>
<circle cx="134.86" cy="38.80" r="1.2" fill="#4c22a0"/>
<circle cx="133.69" cy="42.36" r="1.2" fill="#4c22a0"/>
<circle cx="131.88" cy="45.94" r="1.2" fill="#4c22a0"/>
<circle cx="129.90" cy="49.60" r="1.2" fill="#4c22a0"/>
<circle cx="140.53" cy="37.22" r="1.2" fill="#4c22a0"/>
<circle cx="138.93" cy="41.03" r="1.2" fill="#4c22a0"/>
<circle cx="137.00" cy="44.07" r="1.2" fill="#4c22a0"/>
<circle cx="135.26" cy="47.97" r="1.2" fill="#4c22a0"/>
<circle cx="133.59" cy="51.37" r="1.2" fill="#4c22a0"/>
<circle cx="131.87" cy="55.09" r="1.2" fill="#4c22a0"/>
<circle cx="130.63" cy="58.37" r="1.2" fill="#4c22a0"/>
<circle cx="128.26" cy="62.50" r="1.2" fill="#4c22a0"/>
<circle cx="143.88" cy="39.12" r="1.2" fill="#4c22a0"/>
<circle cx="142.70" cy="42.71" r="1.2" fill="#4c22a0"/>
<circle cx="140.72" cy="46.19" r="1.2" fill="#4c22a0"/>
<circle cx="139.21" cy="49.85" r="1.2" fill="#4c22a0"/>
<circle cx="137.01" cy="53.09" r="1.2" fill="#4c22a0"/>
<circle cx="135.49" cy="57.10" r="1.2" fill="#4c22a0"/>
<circle cx="133.77" cy="60.17" r="1.2" fill="#4c22a0"/>
<circle cx="132.33" cy="64.35" r="1.2" fill="#4c22a0"/>
<circle cx="130.84" cy="67.62" r="1.2" fill="#4c22a0"/>
<circle cx="128.73" cy="71.02" r="1.2" fill="#4c22a0"/>
<circle cx="149.37" cy="36.85" r="1.2" fill="#4c22a0"/>
<circle cx="147.37" cy="40.50" r="1.2" fill="#4c22a0"/>
<circle cx="146.24" cy="43.84" r="1.2" fill="#4c22a0"/>
<circle cx="142.69" cy="51.50" r="1.2" fill="#4c22a0"/>
<circle cx="140.65" cy="55.14" r="1.2" fill="#4c22a0"/>
<circle cx="139.55" cy="58.75" r="1.2" fill="#4c22a0"/>
<circle cx="137.49" cy="62.26" r="1.2" fill="#4c22a0"/>
<circle cx="135.73" cy="65.45" r="1.2" fill="#4c22a0"/>
<circle cx="134.01" cy="69.64" r="1.2" fill="#4c22a0"/>
<circle cx="152.71" cy="38.44" r="1.2" fill="#4c22a0"/>
<circle cx="151.20" cy="42.40" r="1.2" fill="#4c22a0"/>
<circle cx="144.40" cy="56.74" r="1.2" fill="#4c22a0"/>
<circle cx="142.99" cy="60.33" r="1.2" fill="#4c22a0"/>
<circle cx="141.20" cy="63.86" r="1.2" fill="#4c22a0"/>
<circle cx="139.23" cy="67.52" r="1.2" fill="#4c22a0"/>
<circle cx="137.67" cy="71.22" r="1.2" fill="#4c22a0"/>
<circle cx="158.19" cy="36.80" r="1.2" fill="#4c22a0"/>
<circle cx="156.50" cy="40.54" r="1.2" fill="#4c22a0"/>
<circle cx="155.16" cy="44.03" r="1.2" fill="#4c22a0"/>
<circle cx="149.81" cy="54.72" r="1.2" fill="#4c22a0"/>
<circle cx="148.41" cy="58.28" r="1.2" fill="#4c22a0"/>
<circle cx="146.56" cy="61.67" r="1.2" fill="#4c22a0"/>
<circle cx="144.82" cy="65.44" r="1.2" fill="#4c22a0"/>
<circle cx="143.09" cy="69.29" r="1.2" fill="#4c22a0"/>
<circle cx="161.86" cy="38.51" r="1.2" fill="#4c22a0"/>
<circle cx="160.29" cy="41.68" r="1.2" fill="#4c22a0"/>
<circle cx="158.19" cy="45.34" r="1.2" fill="#4c22a0"/>
<circle cx="153.48" cy="56.46" r="1.2" fill="#4c22a0"/>
<circle cx="151.35" cy="59.93" r="1.2" fill="#4c22a0"/>
<circle cx="149.73" cy="63.83" r="1.2" fill="#4c22a0"/>
<circle cx="148.38" cy="66.92" r="1.2" fill="#4c22a0"/>
<circle cx="146.63" cy="70.69" r="1.2" fill="#4c22a0"/>
<circle cx="167.42" cy="36.44" r="1.2" fill="#4c22a0"/>
<circle cx="165.41" cy="39.85" r="1.2" fill="#4c22a0"/>
<circle cx="164.12" cy="44.03" r="1.2" fill="#4c22a0"/>
<circle cx="162.38" cy="46.95" r="1.2" fill="#4c22a0"/>
<circle cx="160.48" cy="50.65" r="1.2" fill="#4c22a0"/>
<circle cx="158.61" cy="54.45" r="1.2" fill="#4c22a0"/>
<circle cx="157.33" cy="58.02" r="1.2" fill="#4c22a0"/>
<circle cx="155.37" cy="61.53" r="1.2" fill="#4c22a0"/>
<circle cx="153.54" cy="65.17" r="1.2" fill="#4c22a0"/>
<circle cx="152.24" cy="68.89" r="1.2" fill="#4c22a0"/>
<circle cx="168.84" cy="41.89" r="1.2" fill="#4c22a0"/>
<circle cx="167.60" cy="45.63" r="1.2" fill="#4c22a0"/>
<circle cx="165.54" cy="49.30" r="1.2" fill="#4c22a0"/>
<circle cx="163.84" cy="52.36" r="1.2" fill="#4c22a0"/>
<circle cx="162.38" cy="56.18" r="1.2" fill="#4c22a0"/>
<circle cx="160.77" cy="59.53" r="1.2" fill="#4c22a0"/>
<circle cx="158.92" cy="63.29" r="1.2" fill="#4c22a0"/>
<circle cx="157.18" cy="66.90" r="1.2" fill="#4c22a0"/>
<circle cx="155.67" cy="70.66" r="1.2" fill="#4c22a0"/>
<circle cx="172.67" cy="43.79" r="1.2" fill="#4c22a0"/>
<circle cx="170.66" cy="47.29" r="1.2" fill="#4c22a0"/>
<circle cx="169.45" cy="50.79" r="1.2" fill="#4c22a0"/>
<circle cx="167.52" cy="54.22" r="1.2" fill="#4c22a0"/>
<circle cx="165.76" cy="58.13" r="1.2" fill="#4c22a0"/>
<circle cx="164.34" cy="61.45" r="1.2" fill="#4c22a0"/>
<circle cx="162.79" cy="64.85" r="1.2" fill="#4c22a0"/>
<circle cx="160.78" cy="68.73" r="1.2" fill="#4c22a0"/>
<circle cx="176.30" cy="45.08" r="1.2" fill="#4c22a0"/>
<circle cx="174.82" cy="48.50" r="1.2" fill="#4c22a0"/>
<circle cx="173.10" cy="52.51" r="1.2" fill="#4c22a0"/>
<circle cx="171.54" cy="56.35" r="1.2" fill="#4c22a0"/>
<circle cx="169.74" cy="59.40" r="1.2" fill="#4c22a0"/>
<circle cx="167.95" cy="62.94" r="1.2" fill="#4c22a0"/>
<circle cx="165.85" cy="66.88" r="1.2" fill="#4c22a0"/>
<circle cx="164.34" cy="70.16" r="1.2" fill="#4c22a0"/>
<circle cx="176.59" cy="53.78" r="1.2" fill="#4c22a0"/>
<circle cx="174.50" cy="57.39" r="1.2" fill="#4c22a0"/>
<circle cx="173.36" cy="61.04" r="1.2" fill="#4c22a0"/>
<circle cx="171.47" cy="64.89" r="1.2" fill="#4c22a0"/>
<circle cx="169.39" cy="68.64" r="1.2" fill="#4c22a0"/>
<circle cx="176.46" cy="63.09" r="1.2" fill="#4c22a0"/>
<circle cx="175.04" cy="66.68" r="1.2" fill="#4c22a0"/>
<circle cx="173.13" cy="70.24" r="1.2" fill="#4c22a0"/>
<ellipse cx="150.5" cy="49.6" rx="7.3" ry="4.6" fill="#fff"/>
<ellipse cx="174" cy="39" rx="5" ry="4.5" fill="#fff"/>
<rect x="73.8" y="59.6" width="10.50" height="12.70" rx="2" fill="none" stroke="#c9a878" stroke-width="0.8"/>
<rect x="128" y="58" width="10.10" height="14.10" rx="2" fill="none" stroke="#c9a878" stroke-width="0.8"/>
<rect x="73.9" y="76.7" width="10.30" height="18.90" rx="2" fill="none" stroke="#c9a878" stroke-width="0.8"/>
<rect x="128.1" y="76.1" width="10.70" height="19.40" rx="2" fill="none" stroke="#c9a878" stroke-width="0.8"/>
<rect x="34.80" y="83.20" width="48.70" height="4.8" rx="2" fill="#b49ad8"/>
<circle cx="35.30" cy="83.34" r="0.95" fill="#6a34c4"/>
<circle cx="36.30" cy="87.64" r="0.95" fill="#8248c8"/>
<circle cx="37.30" cy="83.47" r="0.95" fill="#6a34c4"/>
<circle cx="38.30" cy="87.70" r="0.95" fill="#8248c8"/>
<circle cx="39.30" cy="83.73" r="0.95" fill="#6a34c4"/>
<circle cx="40.30" cy="87.17" r="0.95" fill="#8248c8"/>
<circle cx="41.30" cy="83.11" r="0.95" fill="#6a34c4"/>
<circle cx="42.30" cy="87.94" r="0.95" fill="#8248c8"/>
<circle cx="43.30" cy="83.36" r="0.95" fill="#6a34c4"/>
<circle cx="44.30" cy="87.33" r="0.95" fill="#8248c8"/>
<circle cx="45.30" cy="84.10" r="0.95" fill="#6a34c4"/>
<circle cx="46.30" cy="87.57" r="0.95" fill="#8248c8"/>
<circle cx="47.30" cy="83.94" r="0.95" fill="#6a34c4"/>
<circle cx="48.30" cy="87.58" r="0.95" fill="#8248c8"/>
<circle cx="49.30" cy="83.74" r="0.95" fill="#6a34c4"/>
<circle cx="50.30" cy="87.25" r="0.95" fill="#8248c8"/>
<circle cx="51.30" cy="83.73" r="0.95" fill="#6a34c4"/>
<circle cx="52.30" cy="87.97" r="0.95" fill="#8248c8"/>
<circle cx="53.30" cy="83.62" r="0.95" fill="#6a34c4"/>
<circle cx="54.30" cy="87.84" r="0.95" fill="#8248c8"/>
<circle cx="55.30" cy="83.77" r="0.95" fill="#6a34c4"/>
<circle cx="56.30" cy="87.16" r="0.95" fill="#8248c8"/>
<circle cx="57.30" cy="83.86" r="0.95" fill="#6a34c4"/>
<circle cx="58.30" cy="87.69" r="0.95" fill="#8248c8"/>
<circle cx="59.30" cy="83.40" r="0.95" fill="#6a34c4"/>
<circle cx="60.30" cy="87.13" r="0.95" fill="#8248c8"/>
<circle cx="61.30" cy="83.97" r="0.95" fill="#6a34c4"/>
<circle cx="62.30" cy="87.57" r="0.95" fill="#8248c8"/>
<circle cx="63.30" cy="83.82" r="0.95" fill="#6a34c4"/>
<circle cx="64.30" cy="87.98" r="0.95" fill="#8248c8"/>
<circle cx="65.30" cy="83.81" r="0.95" fill="#6a34c4"/>
<circle cx="66.30" cy="88.02" r="0.95" fill="#8248c8"/>
<circle cx="67.30" cy="83.49" r="0.95" fill="#6a34c4"/>
<circle cx="68.30" cy="87.90" r="0.95" fill="#8248c8"/>
<circle cx="69.30" cy="83.54" r="0.95" fill="#6a34c4"/>
<circle cx="70.30" cy="88.04" r="0.95" fill="#8248c8"/>
<circle cx="71.30" cy="83.98" r="0.95" fill="#6a34c4"/>
<circle cx="72.30" cy="87.20" r="0.95" fill="#8248c8"/>
<circle cx="73.30" cy="83.24" r="0.95" fill="#6a34c4"/>
<circle cx="74.30" cy="87.32" r="0.95" fill="#8248c8"/>
<circle cx="75.30" cy="84.07" r="0.95" fill="#6a34c4"/>
<circle cx="76.30" cy="87.54" r="0.95" fill="#8248c8"/>
<circle cx="77.30" cy="83.73" r="0.95" fill="#6a34c4"/>
<circle cx="78.30" cy="87.40" r="0.95" fill="#8248c8"/>
<circle cx="79.30" cy="83.61" r="0.95" fill="#6a34c4"/>
<circle cx="80.30" cy="87.49" r="0.95" fill="#8248c8"/>
<circle cx="81.30" cy="83.45" r="0.95" fill="#6a34c4"/>
<circle cx="82.30" cy="87.69" r="0.95" fill="#8248c8"/>
<circle cx="39.07" cy="78.00" r="0.8" fill="#3a1cb8"/>
<circle cx="41.42" cy="78.00" r="0.7" fill="#3a1cb8"/>
<circle cx="38.10" cy="81.60" r="1.3" fill="#8c52c8"/>
<circle cx="41.50" cy="82.20" r="1.1" fill="#9a60d0"/>
<ellipse cx="39.50" cy="85.60" rx="2.1" ry="2.3" fill="#a8d67a"/>
<circle cx="39.30" cy="85.80" r="1.0" fill="#c8e040"/>
<circle cx="43.50" cy="83.55" r="0.95" fill="#3a1cb8"/>
<circle cx="39.80" cy="88.80" r="1.2" fill="#8c52c8"/>
<circle cx="40.44" cy="91.00" r="1.05" fill="#8a50c6"/>
<circle cx="39.99" cy="92.90" r="0.9" fill="#7a44c0"/>
<circle cx="39.89" cy="94.50" r="0.8" fill="#3a1cb8"/>
<circle cx="47.24" cy="78.00" r="0.8" fill="#3a1cb8"/>
<circle cx="48.93" cy="78.00" r="0.7" fill="#3a1cb8"/>
<circle cx="46.20" cy="81.60" r="1.3" fill="#8c52c8"/>
<circle cx="49.60" cy="82.20" r="1.1" fill="#9a60d0"/>
<ellipse cx="47.60" cy="85.60" rx="2.1" ry="2.3" fill="#a8d67a"/>
<circle cx="47.40" cy="85.80" r="1.0" fill="#c8e040"/>
<circle cx="51.60" cy="83.69" r="0.95" fill="#3a1cb8"/>
<circle cx="47.90" cy="88.80" r="1.2" fill="#8c52c8"/>
<circle cx="48.57" cy="91.00" r="1.05" fill="#8a50c6"/>
<circle cx="48.12" cy="92.90" r="0.9" fill="#7a44c0"/>
<circle cx="47.66" cy="94.50" r="0.8" fill="#3a1cb8"/>
<circle cx="55.27" cy="78.00" r="0.8" fill="#3a1cb8"/>
<circle cx="56.97" cy="78.00" r="0.7" fill="#3a1cb8"/>
<circle cx="54.20" cy="81.60" r="1.3" fill="#8c52c8"/>
<circle cx="57.60" cy="82.20" r="1.1" fill="#9a60d0"/>
<ellipse cx="55.60" cy="85.60" rx="2.1" ry="2.3" fill="#a8d67a"/>
<circle cx="55.40" cy="85.80" r="1.0" fill="#c8e040"/>
<circle cx="59.60" cy="83.67" r="0.95" fill="#3a1cb8"/>
<circle cx="55.90" cy="88.80" r="1.2" fill="#8c52c8"/>
<circle cx="56.26" cy="91.00" r="1.05" fill="#8a50c6"/>
<circle cx="55.63" cy="92.90" r="0.9" fill="#7a44c0"/>
<circle cx="55.25" cy="94.50" r="0.8" fill="#3a1cb8"/>
<circle cx="63.28" cy="78.00" r="0.8" fill="#3a1cb8"/>
<circle cx="65.49" cy="78.00" r="0.7" fill="#3a1cb8"/>
<circle cx="62.10" cy="81.60" r="1.3" fill="#8c52c8"/>
<circle cx="65.50" cy="82.20" r="1.1" fill="#9a60d0"/>
<ellipse cx="63.50" cy="85.60" rx="2.1" ry="2.3" fill="#a8d67a"/>
<circle cx="63.30" cy="85.80" r="1.0" fill="#c8e040"/>
<circle cx="67.50" cy="83.07" r="0.95" fill="#3a1cb8"/>
<circle cx="63.80" cy="88.80" r="1.2" fill="#8c52c8"/>
<circle cx="64.34" cy="91.00" r="1.05" fill="#8a50c6"/>
<circle cx="63.63" cy="92.90" r="0.9" fill="#7a44c0"/>
<circle cx="63.22" cy="94.50" r="0.8" fill="#3a1cb8"/>
<circle cx="70.74" cy="78.00" r="0.8" fill="#3a1cb8"/>
<circle cx="73.22" cy="78.00" r="0.7" fill="#3a1cb8"/>
<circle cx="70.00" cy="81.60" r="1.3" fill="#8c52c8"/>
<circle cx="73.40" cy="82.20" r="1.1" fill="#9a60d0"/>
<ellipse cx="71.40" cy="85.60" rx="2.1" ry="2.3" fill="#a8d67a"/>
<circle cx="71.20" cy="85.80" r="1.0" fill="#c8e040"/>
<circle cx="75.40" cy="83.70" r="0.95" fill="#3a1cb8"/>
<circle cx="71.70" cy="88.80" r="1.2" fill="#8c52c8"/>
<circle cx="71.64" cy="91.00" r="1.05" fill="#8a50c6"/>
<circle cx="71.69" cy="92.90" r="0.9" fill="#7a44c0"/>
<circle cx="71.04" cy="94.50" r="0.8" fill="#3a1cb8"/>
<circle cx="78.97" cy="78.00" r="0.8" fill="#3a1cb8"/>
<circle cx="80.76" cy="78.00" r="0.7" fill="#3a1cb8"/>
<circle cx="77.90" cy="81.60" r="1.3" fill="#8c52c8"/>
<circle cx="81.30" cy="82.20" r="1.1" fill="#9a60d0"/>
<ellipse cx="79.30" cy="85.60" rx="2.1" ry="2.3" fill="#a8d67a"/>
<circle cx="79.10" cy="85.80" r="1.0" fill="#c8e040"/>
<circle cx="83.30" cy="83.70" r="0.95" fill="#3a1cb8"/>
<circle cx="79.60" cy="88.80" r="1.2" fill="#8c52c8"/>
<circle cx="80.28" cy="91.00" r="1.05" fill="#8a50c6"/>
<circle cx="79.50" cy="92.90" r="0.9" fill="#7a44c0"/>
<circle cx="79.70" cy="94.50" r="0.8" fill="#3a1cb8"/>
<rect x="34.80" y="108.40" width="48.70" height="4.8" rx="2" fill="#b49ad8"/>
<circle cx="35.30" cy="108.61" r="0.95" fill="#6a34c4"/>
<circle cx="36.30" cy="112.38" r="0.95" fill="#8248c8"/>
<circle cx="37.30" cy="108.90" r="0.95" fill="#6a34c4"/>
<circle cx="38.30" cy="112.33" r="0.95" fill="#8248c8"/>
<circle cx="39.30" cy="108.50" r="0.95" fill="#6a34c4"/>
<circle cx="40.30" cy="112.71" r="0.95" fill="#8248c8"/>
<circle cx="41.30" cy="108.91" r="0.95" fill="#6a34c4"/>
<circle cx="42.30" cy="112.46" r="0.95" fill="#8248c8"/>
<circle cx="43.30" cy="108.34" r="0.95" fill="#6a34c4"/>
<circle cx="44.30" cy="113.17" r="0.95" fill="#8248c8"/>
<circle cx="45.30" cy="108.61" r="0.95" fill="#6a34c4"/>
<circle cx="46.30" cy="113.26" r="0.95" fill="#8248c8"/>
<circle cx="47.30" cy="109.20" r="0.95" fill="#6a34c4"/>
<circle cx="48.30" cy="112.68" r="0.95" fill="#8248c8"/>
<circle cx="49.30" cy="108.76" r="0.95" fill="#6a34c4"/>
<circle cx="50.30" cy="112.82" r="0.95" fill="#8248c8"/>
<circle cx="51.30" cy="108.94" r="0.95" fill="#6a34c4"/>
<circle cx="52.30" cy="112.90" r="0.95" fill="#8248c8"/>
<circle cx="53.30" cy="108.86" r="0.95" fill="#6a34c4"/>
<circle cx="54.30" cy="112.92" r="0.95" fill="#8248c8"/>
<circle cx="55.30" cy="109.24" r="0.95" fill="#6a34c4"/>
<circle cx="56.30" cy="112.81" r="0.95" fill="#8248c8"/>
<circle cx="57.30" cy="108.73" r="0.95" fill="#6a34c4"/>
<circle cx="58.30" cy="113.02" r="0.95" fill="#8248c8"/>
<circle cx="59.30" cy="108.54" r="0.95" fill="#6a34c4"/>
<circle cx="60.30" cy="112.60" r="0.95" fill="#8248c8"/>
<circle cx="61.30" cy="109.28" r="0.95" fill="#6a34c4"/>
<circle cx="62.30" cy="112.82" r="0.95" fill="#8248c8"/>
<circle cx="63.30" cy="108.85" r="0.95" fill="#6a34c4"/>
<circle cx="64.30" cy="112.31" r="0.95" fill="#8248c8"/>
<circle cx="65.30" cy="108.72" r="0.95" fill="#6a34c4"/>
<circle cx="66.30" cy="112.88" r="0.95" fill="#8248c8"/>
<circle cx="67.30" cy="108.32" r="0.95" fill="#6a34c4"/>
<circle cx="68.30" cy="112.92" r="0.95" fill="#8248c8"/>
<circle cx="69.30" cy="108.93" r="0.95" fill="#6a34c4"/>
<circle cx="70.30" cy="112.36" r="0.95" fill="#8248c8"/>
<circle cx="71.30" cy="108.93" r="0.95" fill="#6a34c4"/>
<circle cx="72.30" cy="112.77" r="0.95" fill="#8248c8"/>
<circle cx="73.30" cy="108.98" r="0.95" fill="#6a34c4"/>
<circle cx="74.30" cy="112.65" r="0.95" fill="#8248c8"/>
<circle cx="75.30" cy="109.01" r="0.95" fill="#6a34c4"/>
<circle cx="76.30" cy="113.04" r="0.95" fill="#8248c8"/>
<circle cx="77.30" cy="108.32" r="0.95" fill="#6a34c4"/>
<circle cx="78.30" cy="112.36" r="0.95" fill="#8248c8"/>
<circle cx="79.30" cy="108.98" r="0.95" fill="#6a34c4"/>
<circle cx="80.30" cy="113.26" r="0.95" fill="#8248c8"/>
<circle cx="81.30" cy="108.55" r="0.95" fill="#6a34c4"/>
<circle cx="82.30" cy="112.76" r="0.95" fill="#8248c8"/>
<circle cx="39.37" cy="103.20" r="0.8" fill="#3a1cb8"/>
<circle cx="41.26" cy="103.20" r="0.7" fill="#3a1cb8"/>
<circle cx="38.40" cy="106.80" r="1.3" fill="#8c52c8"/>
<circle cx="41.80" cy="107.40" r="1.1" fill="#9a60d0"/>
<ellipse cx="39.80" cy="110.80" rx="2.1" ry="2.3" fill="#a8d67a"/>
<circle cx="39.60" cy="111.00" r="1.0" fill="#c8e040"/>
<circle cx="43.80" cy="108.49" r="0.95" fill="#3a1cb8"/>
<circle cx="40.10" cy="114.00" r="1.2" fill="#8c52c8"/>
<circle cx="40.25" cy="116.20" r="1.05" fill="#8a50c6"/>
<circle cx="39.90" cy="118.10" r="0.9" fill="#7a44c0"/>
<circle cx="39.88" cy="119.70" r="0.8" fill="#3a1cb8"/>
<circle cx="47.24" cy="103.20" r="0.8" fill="#3a1cb8"/>
<circle cx="49.40" cy="103.20" r="0.7" fill="#3a1cb8"/>
<circle cx="46.50" cy="106.80" r="1.3" fill="#8c52c8"/>
<circle cx="49.90" cy="107.40" r="1.1" fill="#9a60d0"/>
<ellipse cx="47.90" cy="110.80" rx="2.1" ry="2.3" fill="#a8d67a"/>
<circle cx="47.70" cy="111.00" r="1.0" fill="#c8e040"/>
<circle cx="51.90" cy="108.82" r="0.95" fill="#3a1cb8"/>
<circle cx="48.20" cy="114.00" r="1.2" fill="#8c52c8"/>
<circle cx="48.12" cy="116.20" r="1.05" fill="#8a50c6"/>
<circle cx="48.16" cy="118.10" r="0.9" fill="#7a44c0"/>
<circle cx="48.09" cy="119.70" r="0.8" fill="#3a1cb8"/>
<circle cx="55.25" cy="103.20" r="0.8" fill="#3a1cb8"/>
<circle cx="57.28" cy="103.20" r="0.7" fill="#3a1cb8"/>
<circle cx="54.50" cy="106.80" r="1.3" fill="#8c52c8"/>
<circle cx="57.90" cy="107.40" r="1.1" fill="#9a60d0"/>
<ellipse cx="55.90" cy="110.80" rx="2.1" ry="2.3" fill="#a8d67a"/>
<circle cx="55.70" cy="111.00" r="1.0" fill="#c8e040"/>
<circle cx="59.90" cy="108.84" r="0.95" fill="#3a1cb8"/>
<circle cx="56.20" cy="114.00" r="1.2" fill="#8c52c8"/>
<circle cx="56.29" cy="116.20" r="1.05" fill="#8a50c6"/>
<circle cx="55.85" cy="118.10" r="0.9" fill="#7a44c0"/>
<circle cx="55.85" cy="119.70" r="0.8" fill="#3a1cb8"/>
<circle cx="63.46" cy="103.20" r="0.8" fill="#3a1cb8"/>
<circle cx="65.08" cy="103.20" r="0.7" fill="#3a1cb8"/>
<circle cx="62.40" cy="106.80" r="1.3" fill="#8c52c8"/>
<circle cx="65.80" cy="107.40" r="1.1" fill="#9a60d0"/>
<ellipse cx="63.80" cy="110.80" rx="2.1" ry="2.3" fill="#a8d67a"/>
<circle cx="63.60" cy="111.00" r="1.0" fill="#c8e040"/>
<circle cx="67.80" cy="108.46" r="0.95" fill="#3a1cb8"/>
<circle cx="64.10" cy="114.00" r="1.2" fill="#8c52c8"/>
<circle cx="64.27" cy="116.20" r="1.05" fill="#8a50c6"/>
<circle cx="64.27" cy="118.10" r="0.9" fill="#7a44c0"/>
<circle cx="63.75" cy="119.70" r="0.8" fill="#3a1cb8"/>
<circle cx="71.48" cy="103.20" r="0.8" fill="#3a1cb8"/>
<circle cx="73.04" cy="103.20" r="0.7" fill="#3a1cb8"/>
<circle cx="70.30" cy="106.80" r="1.3" fill="#8c52c8"/>
<circle cx="73.70" cy="107.40" r="1.1" fill="#9a60d0"/>
<ellipse cx="71.70" cy="110.80" rx="2.1" ry="2.3" fill="#a8d67a"/>
<circle cx="71.50" cy="111.00" r="1.0" fill="#c8e040"/>
<circle cx="75.70" cy="108.47" r="0.95" fill="#3a1cb8"/>
<circle cx="72.00" cy="114.00" r="1.2" fill="#8c52c8"/>
<circle cx="72.42" cy="116.20" r="1.05" fill="#8a50c6"/>
<circle cx="72.21" cy="118.10" r="0.9" fill="#7a44c0"/>
<circle cx="71.66" cy="119.70" r="0.8" fill="#3a1cb8"/>
<circle cx="78.88" cy="103.20" r="0.8" fill="#3a1cb8"/>
<circle cx="80.90" cy="103.20" r="0.7" fill="#3a1cb8"/>
<circle cx="78.20" cy="106.80" r="1.3" fill="#8c52c8"/>
<circle cx="81.60" cy="107.40" r="1.1" fill="#9a60d0"/>
<ellipse cx="79.60" cy="110.80" rx="2.1" ry="2.3" fill="#a8d67a"/>
<circle cx="79.40" cy="111.00" r="1.0" fill="#c8e040"/>
<circle cx="83.60" cy="108.62" r="0.95" fill="#3a1cb8"/>
<circle cx="79.90" cy="114.00" r="1.2" fill="#8c52c8"/>
<circle cx="79.95" cy="116.20" r="1.05" fill="#8a50c6"/>
<circle cx="80.05" cy="118.10" r="0.9" fill="#7a44c0"/>
<circle cx="79.87" cy="119.70" r="0.8" fill="#3a1cb8"/>
<rect x="129.30" y="83.60" width="47.60" height="4.8" rx="2" fill="#b49ad8"/>
<circle cx="129.80" cy="83.68" r="0.95" fill="#6a34c4"/>
<circle cx="130.80" cy="87.78" r="0.95" fill="#8248c8"/>
<circle cx="131.80" cy="84.31" r="0.95" fill="#6a34c4"/>
<circle cx="132.80" cy="88.14" r="0.95" fill="#8248c8"/>
<circle cx="133.80" cy="84.31" r="0.95" fill="#6a34c4"/>
<circle cx="134.80" cy="87.85" r="0.95" fill="#8248c8"/>
<circle cx="135.80" cy="83.63" r="0.95" fill="#6a34c4"/>
<circle cx="136.80" cy="87.79" r="0.95" fill="#8248c8"/>
<circle cx="137.80" cy="84.29" r="0.95" fill="#6a34c4"/>
<circle cx="138.80" cy="87.77" r="0.95" fill="#8248c8"/>
<circle cx="139.80" cy="83.85" r="0.95" fill="#6a34c4"/>
<circle cx="140.80" cy="87.92" r="0.95" fill="#8248c8"/>
<circle cx="141.80" cy="83.92" r="0.95" fill="#6a34c4"/>
<circle cx="142.80" cy="87.91" r="0.95" fill="#8248c8"/>
<circle cx="143.80" cy="84.42" r="0.95" fill="#6a34c4"/>
<circle cx="144.80" cy="87.66" r="0.95" fill="#8248c8"/>
<circle cx="145.80" cy="83.50" r="0.95" fill="#6a34c4"/>
<circle cx="146.80" cy="88.44" r="0.95" fill="#8248c8"/>
<circle cx="147.80" cy="84.38" r="0.95" fill="#6a34c4"/>
<circle cx="148.80" cy="88.49" r="0.95" fill="#8248c8"/>
<circle cx="149.80" cy="83.93" r="0.95" fill="#6a34c4"/>
<circle cx="150.80" cy="88.45" r="0.95" fill="#8248c8"/>
<circle cx="151.80" cy="84.43" r="0.95" fill="#6a34c4"/>
<circle cx="152.80" cy="87.72" r="0.95" fill="#8248c8"/>
<circle cx="153.80" cy="84.25" r="0.95" fill="#6a34c4"/>
<circle cx="154.80" cy="88.34" r="0.95" fill="#8248c8"/>
<circle cx="155.80" cy="84.16" r="0.95" fill="#6a34c4"/>
<circle cx="156.80" cy="88.02" r="0.95" fill="#8248c8"/>
<circle cx="157.80" cy="83.79" r="0.95" fill="#6a34c4"/>
<circle cx="158.80" cy="87.84" r="0.95" fill="#8248c8"/>
<circle cx="159.80" cy="83.73" r="0.95" fill="#6a34c4"/>
<circle cx="160.80" cy="87.57" r="0.95" fill="#8248c8"/>
<circle cx="161.80" cy="84.09" r="0.95" fill="#6a34c4"/>
<circle cx="162.80" cy="87.79" r="0.95" fill="#8248c8"/>
<circle cx="163.80" cy="84.31" r="0.95" fill="#6a34c4"/>
<circle cx="164.80" cy="87.55" r="0.95" fill="#8248c8"/>
<circle cx="165.80" cy="84.40" r="0.95" fill="#6a34c4"/>
<circle cx="166.80" cy="88.19" r="0.95" fill="#8248c8"/>
<circle cx="167.80" cy="84.42" r="0.95" fill="#6a34c4"/>
<circle cx="168.80" cy="88.40" r="0.95" fill="#8248c8"/>
<circle cx="169.80" cy="84.40" r="0.95" fill="#6a34c4"/>
<circle cx="170.80" cy="88.08" r="0.95" fill="#8248c8"/>
<circle cx="171.80" cy="83.51" r="0.95" fill="#6a34c4"/>
<circle cx="172.80" cy="88.25" r="0.95" fill="#8248c8"/>
<circle cx="173.80" cy="83.67" r="0.95" fill="#6a34c4"/>
<circle cx="174.80" cy="87.80" r="0.95" fill="#8248c8"/>
<circle cx="175.80" cy="84.16" r="0.95" fill="#6a34c4"/>
<circle cx="176.80" cy="88.02" r="0.95" fill="#8248c8"/>
<circle cx="133.03" cy="78.40" r="0.8" fill="#3a1cb8"/>
<circle cx="135.55" cy="78.40" r="0.7" fill="#3a1cb8"/>
<circle cx="132.20" cy="82.00" r="1.3" fill="#8c52c8"/>
<circle cx="135.60" cy="82.60" r="1.1" fill="#9a60d0"/>
<ellipse cx="133.60" cy="86.00" rx="2.1" ry="2.3" fill="#a8d67a"/>
<circle cx="133.40" cy="86.20" r="1.0" fill="#c8e040"/>
<circle cx="137.60" cy="83.89" r="0.95" fill="#3a1cb8"/>
<circle cx="133.90" cy="89.20" r="1.2" fill="#8c52c8"/>
<circle cx="134.07" cy="91.40" r="1.05" fill="#8a50c6"/>
<circle cx="133.60" cy="93.30" r="0.9" fill="#7a44c0"/>
<circle cx="133.89" cy="94.90" r="0.8" fill="#3a1cb8"/>
<circle cx="141.08" cy="78.40" r="0.8" fill="#3a1cb8"/>
<circle cx="143.43" cy="78.40" r="0.7" fill="#3a1cb8"/>
<circle cx="140.20" cy="82.00" r="1.3" fill="#8c52c8"/>
<circle cx="143.60" cy="82.60" r="1.1" fill="#9a60d0"/>
<ellipse cx="141.60" cy="86.00" rx="2.1" ry="2.3" fill="#a8d67a"/>
<circle cx="141.40" cy="86.20" r="1.0" fill="#c8e040"/>
<circle cx="145.60" cy="83.68" r="0.95" fill="#3a1cb8"/>
<circle cx="141.90" cy="89.20" r="1.2" fill="#8c52c8"/>
<circle cx="141.96" cy="91.40" r="1.05" fill="#8a50c6"/>
<circle cx="141.83" cy="93.30" r="0.9" fill="#7a44c0"/>
<circle cx="141.85" cy="94.90" r="0.8" fill="#3a1cb8"/>
<circle cx="148.84" cy="78.40" r="0.8" fill="#3a1cb8"/>
<circle cx="151.43" cy="78.40" r="0.7" fill="#3a1cb8"/>
<circle cx="148.20" cy="82.00" r="1.3" fill="#8c52c8"/>
<circle cx="151.60" cy="82.60" r="1.1" fill="#9a60d0"/>
<ellipse cx="149.60" cy="86.00" rx="2.1" ry="2.3" fill="#a8d67a"/>
<circle cx="149.40" cy="86.20" r="1.0" fill="#c8e040"/>
<circle cx="153.60" cy="84.14" r="0.95" fill="#3a1cb8"/>
<circle cx="149.90" cy="89.20" r="1.2" fill="#8c52c8"/>
<circle cx="150.44" cy="91.40" r="1.05" fill="#8a50c6"/>
<circle cx="150.06" cy="93.30" r="0.9" fill="#7a44c0"/>
<circle cx="149.21" cy="94.90" r="0.8" fill="#3a1cb8"/>
<circle cx="157.20" cy="78.40" r="0.8" fill="#3a1cb8"/>
<circle cx="159.49" cy="78.40" r="0.7" fill="#3a1cb8"/>
<circle cx="156.20" cy="82.00" r="1.3" fill="#8c52c8"/>
<circle cx="159.60" cy="82.60" r="1.1" fill="#9a60d0"/>
<ellipse cx="157.60" cy="86.00" rx="2.1" ry="2.3" fill="#a8d67a"/>
<circle cx="157.40" cy="86.20" r="1.0" fill="#c8e040"/>
<circle cx="161.60" cy="83.44" r="0.95" fill="#3a1cb8"/>
<circle cx="157.90" cy="89.20" r="1.2" fill="#8c52c8"/>
<circle cx="158.02" cy="91.40" r="1.05" fill="#8a50c6"/>
<circle cx="157.61" cy="93.30" r="0.9" fill="#7a44c0"/>
<circle cx="157.62" cy="94.90" r="0.8" fill="#3a1cb8"/>
<circle cx="165.04" cy="78.40" r="0.8" fill="#3a1cb8"/>
<circle cx="167.18" cy="78.40" r="0.7" fill="#3a1cb8"/>
<circle cx="164.20" cy="82.00" r="1.3" fill="#8c52c8"/>
<circle cx="167.60" cy="82.60" r="1.1" fill="#9a60d0"/>
<ellipse cx="165.60" cy="86.00" rx="2.1" ry="2.3" fill="#a8d67a"/>
<circle cx="165.40" cy="86.20" r="1.0" fill="#c8e040"/>
<circle cx="169.60" cy="84.02" r="0.95" fill="#3a1cb8"/>
<circle cx="165.90" cy="89.20" r="1.2" fill="#8c52c8"/>
<circle cx="165.80" cy="91.40" r="1.05" fill="#8a50c6"/>
<circle cx="165.44" cy="93.30" r="0.9" fill="#7a44c0"/>
<circle cx="165.30" cy="94.90" r="0.8" fill="#3a1cb8"/>
<circle cx="172.50" cy="78.40" r="0.8" fill="#3a1cb8"/>
<circle cx="174.55" cy="78.40" r="0.7" fill="#3a1cb8"/>
<circle cx="171.90" cy="82.00" r="1.3" fill="#8c52c8"/>
<circle cx="175.30" cy="82.60" r="1.1" fill="#9a60d0"/>
<ellipse cx="173.30" cy="86.00" rx="2.1" ry="2.3" fill="#a8d67a"/>
<circle cx="173.10" cy="86.20" r="1.0" fill="#c8e040"/>
<circle cx="177.30" cy="84.18" r="0.95" fill="#3a1cb8"/>
<circle cx="173.60" cy="89.20" r="1.2" fill="#8c52c8"/>
<circle cx="174.18" cy="91.40" r="1.05" fill="#8a50c6"/>
<circle cx="173.17" cy="93.30" r="0.9" fill="#7a44c0"/>
<circle cx="173.30" cy="94.90" r="0.8" fill="#3a1cb8"/>
<circle cx="144.15" cy="83.72" r="0.9" fill="#8c52c8"/>
<circle cx="160.24" cy="87.80" r="0.9" fill="#8c52c8"/>
<circle cx="138.09" cy="83.93" r="0.7" fill="#3a1cb8"/>
<circle cx="155.80" cy="89.74" r="0.9" fill="#3a1cb8"/>
<circle cx="156.34" cy="79.64" r="0.9" fill="#6a3cc0"/>
<circle cx="160.40" cy="87.12" r="1.1" fill="#3a1cb8"/>
<circle cx="159.07" cy="85.47" r="0.9" fill="#6a3cc0"/>
<circle cx="152.91" cy="89.54" r="0.9" fill="#6a3cc0"/>
<circle cx="149.13" cy="79.27" r="0.7" fill="#6a3cc0"/>
<circle cx="141.93" cy="87.85" r="0.9" fill="#3a1cb8"/>
<circle cx="149.50" cy="92.20" r="0.9" fill="#8c52c8"/>
<circle cx="175.88" cy="87.39" r="0.9" fill="#3a1cb8"/>
<circle cx="151.36" cy="80.85" r="1.1" fill="#6a3cc0"/>
<circle cx="170.10" cy="86.95" r="0.9" fill="#6a3cc0"/>
<circle cx="134.08" cy="83.78" r="1.1" fill="#3a1cb8"/>
<circle cx="168.24" cy="89.75" r="0.9" fill="#3a1cb8"/>
<circle cx="140.27" cy="84.83" r="1.1" fill="#3a1cb8"/>
<circle cx="156.23" cy="88.89" r="0.9" fill="#3a1cb8"/>
<circle cx="168.63" cy="84.12" r="0.7" fill="#3a1cb8"/>
<circle cx="169.82" cy="89.10" r="1.1" fill="#8c52c8"/>
<circle cx="156.94" cy="90.98" r="0.7" fill="#6a3cc0"/>
<circle cx="153.65" cy="89.73" r="0.7" fill="#6a3cc0"/>
<circle cx="165.20" cy="93.02" r="0.7" fill="#6a3cc0"/>
<circle cx="144.56" cy="87.46" r="0.7" fill="#3a1cb8"/>
<circle cx="177.32" cy="88.69" r="0.9" fill="#6a3cc0"/>
<circle cx="162.83" cy="93.14" r="0.9" fill="#8c52c8"/>
<circle cx="157.93" cy="93.08" r="1.1" fill="#8c52c8"/>
<circle cx="175.76" cy="84.63" r="0.7" fill="#8c52c8"/>
<circle cx="169.80" cy="93.51" r="0.9" fill="#6a3cc0"/>
<circle cx="156.42" cy="87.70" r="1.1" fill="#6a3cc0"/>
<circle cx="152.31" cy="88.64" r="0.7" fill="#3a1cb8"/>
<circle cx="133.46" cy="90.22" r="1.1" fill="#6a3cc0"/>
<circle cx="175.00" cy="87.80" r="0.7" fill="#3a1cb8"/>
<circle cx="141.79" cy="81.99" r="1.1" fill="#6a3cc0"/>
<circle cx="144.10" cy="82.48" r="1.1" fill="#6a3cc0"/>
<circle cx="175.14" cy="83.44" r="1.1" fill="#8c52c8"/>
<circle cx="157.73" cy="87.77" r="0.9" fill="#3a1cb8"/>
<circle cx="143.73" cy="83.02" r="0.9" fill="#3a1cb8"/>
<circle cx="137.17" cy="84.41" r="0.9" fill="#8c52c8"/>
<circle cx="166.43" cy="81.15" r="1.1" fill="#8c52c8"/>
<rect x="130.00" y="107.80" width="46.90" height="4.8" rx="2" fill="#b49ad8"/>
<circle cx="130.50" cy="108.40" r="0.95" fill="#6a34c4"/>
<circle cx="131.50" cy="111.91" r="0.95" fill="#8248c8"/>
<circle cx="132.50" cy="108.28" r="0.95" fill="#6a34c4"/>
<circle cx="133.50" cy="112.60" r="0.95" fill="#8248c8"/>
<circle cx="134.50" cy="108.35" r="0.95" fill="#6a34c4"/>
<circle cx="135.50" cy="111.73" r="0.95" fill="#8248c8"/>
<circle cx="136.50" cy="108.69" r="0.95" fill="#6a34c4"/>
<circle cx="137.50" cy="111.77" r="0.95" fill="#8248c8"/>
<circle cx="138.50" cy="108.65" r="0.95" fill="#6a34c4"/>
<circle cx="139.50" cy="112.48" r="0.95" fill="#8248c8"/>
<circle cx="140.50" cy="108.58" r="0.95" fill="#6a34c4"/>
<circle cx="141.50" cy="111.75" r="0.95" fill="#8248c8"/>
<circle cx="142.50" cy="108.61" r="0.95" fill="#6a34c4"/>
<circle cx="143.50" cy="112.59" r="0.95" fill="#8248c8"/>
<circle cx="144.50" cy="108.35" r="0.95" fill="#6a34c4"/>
<circle cx="145.50" cy="112.48" r="0.95" fill="#8248c8"/>
<circle cx="146.50" cy="107.77" r="0.95" fill="#6a34c4"/>
<circle cx="147.50" cy="111.92" r="0.95" fill="#8248c8"/>
<circle cx="148.50" cy="107.95" r="0.95" fill="#6a34c4"/>
<circle cx="149.50" cy="112.59" r="0.95" fill="#8248c8"/>
<circle cx="150.50" cy="108.48" r="0.95" fill="#6a34c4"/>
<circle cx="151.50" cy="111.84" r="0.95" fill="#8248c8"/>
<circle cx="152.50" cy="108.32" r="0.95" fill="#6a34c4"/>
<circle cx="153.50" cy="112.38" r="0.95" fill="#8248c8"/>
<circle cx="154.50" cy="107.74" r="0.95" fill="#6a34c4"/>
<circle cx="155.50" cy="112.63" r="0.95" fill="#8248c8"/>
<circle cx="156.50" cy="107.87" r="0.95" fill="#6a34c4"/>
<circle cx="157.50" cy="111.75" r="0.95" fill="#8248c8"/>
<circle cx="158.50" cy="107.88" r="0.95" fill="#6a34c4"/>
<circle cx="159.50" cy="111.79" r="0.95" fill="#8248c8"/>
<circle cx="160.50" cy="108.50" r="0.95" fill="#6a34c4"/>
<circle cx="161.50" cy="111.82" r="0.95" fill="#8248c8"/>
<circle cx="162.50" cy="107.96" r="0.95" fill="#6a34c4"/>
<circle cx="163.50" cy="112.61" r="0.95" fill="#8248c8"/>
<circle cx="164.50" cy="107.74" r="0.95" fill="#6a34c4"/>
<circle cx="165.50" cy="112.15" r="0.95" fill="#8248c8"/>
<circle cx="166.50" cy="108.43" r="0.95" fill="#6a34c4"/>
<circle cx="167.50" cy="112.04" r="0.95" fill="#8248c8"/>
<circle cx="168.50" cy="107.73" r="0.95" fill="#6a34c4"/>
<circle cx="169.50" cy="112.03" r="0.95" fill="#8248c8"/>
<circle cx="170.50" cy="108.08" r="0.95" fill="#6a34c4"/>
<circle cx="171.50" cy="111.78" r="0.95" fill="#8248c8"/>
<circle cx="172.50" cy="108.34" r="0.95" fill="#6a34c4"/>
<circle cx="173.50" cy="112.44" r="0.95" fill="#8248c8"/>
<circle cx="174.50" cy="108.19" r="0.95" fill="#6a34c4"/>
<circle cx="175.50" cy="111.83" r="0.95" fill="#8248c8"/>
<circle cx="176.50" cy="108.02" r="0.95" fill="#6a34c4"/>
<circle cx="177.50" cy="112.58" r="0.95" fill="#8248c8"/>
<circle cx="132.76" cy="102.60" r="0.8" fill="#3a1cb8"/>
<circle cx="135.15" cy="102.60" r="0.7" fill="#3a1cb8"/>
<circle cx="132.20" cy="106.20" r="1.3" fill="#8c52c8"/>
<circle cx="135.60" cy="106.80" r="1.1" fill="#9a60d0"/>
<ellipse cx="133.60" cy="110.20" rx="2.1" ry="2.3" fill="#a8d67a"/>
<circle cx="133.40" cy="110.40" r="1.0" fill="#c8e040"/>
<circle cx="137.60" cy="107.95" r="0.95" fill="#3a1cb8"/>
<circle cx="133.90" cy="113.40" r="1.2" fill="#8c52c8"/>
<circle cx="134.22" cy="115.60" r="1.05" fill="#8a50c6"/>
<circle cx="133.60" cy="117.50" r="0.9" fill="#7a44c0"/>
<circle cx="133.62" cy="119.10" r="0.8" fill="#3a1cb8"/>
<circle cx="141.26" cy="102.60" r="0.8" fill="#3a1cb8"/>
<circle cx="143.34" cy="102.60" r="0.7" fill="#3a1cb8"/>
<circle cx="140.20" cy="106.20" r="1.3" fill="#8c52c8"/>
<circle cx="143.60" cy="106.80" r="1.1" fill="#9a60d0"/>
<ellipse cx="141.60" cy="110.20" rx="2.1" ry="2.3" fill="#a8d67a"/>
<circle cx="141.40" cy="110.40" r="1.0" fill="#c8e040"/>
<circle cx="145.60" cy="107.89" r="0.95" fill="#3a1cb8"/>
<circle cx="141.90" cy="113.40" r="1.2" fill="#8c52c8"/>
<circle cx="142.16" cy="115.60" r="1.05" fill="#8a50c6"/>
<circle cx="141.93" cy="117.50" r="0.9" fill="#7a44c0"/>
<circle cx="141.74" cy="119.10" r="0.8" fill="#3a1cb8"/>
<circle cx="149.46" cy="102.60" r="0.8" fill="#3a1cb8"/>
<circle cx="151.45" cy="102.60" r="0.7" fill="#3a1cb8"/>
<circle cx="148.20" cy="106.20" r="1.3" fill="#8c52c8"/>
<circle cx="151.60" cy="106.80" r="1.1" fill="#9a60d0"/>
<ellipse cx="149.60" cy="110.20" rx="2.1" ry="2.3" fill="#a8d67a"/>
<circle cx="149.40" cy="110.40" r="1.0" fill="#c8e040"/>
<circle cx="153.60" cy="107.69" r="0.95" fill="#3a1cb8"/>
<circle cx="149.90" cy="113.40" r="1.2" fill="#8c52c8"/>
<circle cx="150.56" cy="115.60" r="1.05" fill="#8a50c6"/>
<circle cx="149.67" cy="117.50" r="0.9" fill="#7a44c0"/>
<circle cx="149.65" cy="119.10" r="0.8" fill="#3a1cb8"/>
<circle cx="157.12" cy="102.60" r="0.8" fill="#3a1cb8"/>
<circle cx="159.33" cy="102.60" r="0.7" fill="#3a1cb8"/>
<circle cx="156.20" cy="106.20" r="1.3" fill="#8c52c8"/>
<circle cx="159.60" cy="106.80" r="1.1" fill="#9a60d0"/>
<ellipse cx="157.60" cy="110.20" rx="2.1" ry="2.3" fill="#a8d67a"/>
<circle cx="157.40" cy="110.40" r="1.0" fill="#c8e040"/>
<circle cx="161.60" cy="108.01" r="0.95" fill="#3a1cb8"/>
<circle cx="157.90" cy="113.40" r="1.2" fill="#8c52c8"/>
<circle cx="157.85" cy="115.60" r="1.05" fill="#8a50c6"/>
<circle cx="157.64" cy="117.50" r="0.9" fill="#7a44c0"/>
<circle cx="157.78" cy="119.10" r="0.8" fill="#3a1cb8"/>
<circle cx="165.29" cy="102.60" r="0.8" fill="#3a1cb8"/>
<circle cx="167.32" cy="102.60" r="0.7" fill="#3a1cb8"/>
<circle cx="164.20" cy="106.20" r="1.3" fill="#8c52c8"/>
<circle cx="167.60" cy="106.80" r="1.1" fill="#9a60d0"/>
<ellipse cx="165.60" cy="110.20" rx="2.1" ry="2.3" fill="#a8d67a"/>
<circle cx="165.40" cy="110.40" r="1.0" fill="#c8e040"/>
<circle cx="169.60" cy="108.18" r="0.95" fill="#3a1cb8"/>
<circle cx="165.90" cy="113.40" r="1.2" fill="#8c52c8"/>
<circle cx="165.92" cy="115.60" r="1.05" fill="#8a50c6"/>
<circle cx="165.70" cy="117.50" r="0.9" fill="#7a44c0"/>
<circle cx="165.94" cy="119.10" r="0.8" fill="#3a1cb8"/>
<circle cx="172.76" cy="102.60" r="0.8" fill="#3a1cb8"/>
<circle cx="174.59" cy="102.60" r="0.7" fill="#3a1cb8"/>
<circle cx="171.90" cy="106.20" r="1.3" fill="#8c52c8"/>
<circle cx="175.30" cy="106.80" r="1.1" fill="#9a60d0"/>
<ellipse cx="173.30" cy="110.20" rx="2.1" ry="2.3" fill="#a8d67a"/>
<circle cx="173.10" cy="110.40" r="1.0" fill="#c8e040"/>
<circle cx="177.30" cy="108.05" r="0.95" fill="#3a1cb8"/>
<circle cx="173.60" cy="113.40" r="1.2" fill="#8c52c8"/>
<circle cx="174.24" cy="115.60" r="1.05" fill="#8a50c6"/>
<circle cx="173.62" cy="117.50" r="0.9" fill="#7a44c0"/>
<circle cx="173.42" cy="119.10" r="0.8" fill="#3a1cb8"/>
<circle cx="149.62" cy="107.71" r="0.7" fill="#8c52c8"/>
<circle cx="152.61" cy="114.93" r="1.1" fill="#3a1cb8"/>
<circle cx="134.65" cy="105.92" r="1.1" fill="#6a3cc0"/>
<circle cx="157.08" cy="109.08" r="0.7" fill="#8c52c8"/>
<circle cx="142.47" cy="104.00" r="0.7" fill="#3a1cb8"/>
<circle cx="152.43" cy="107.27" r="1.1" fill="#6a3cc0"/>
<circle cx="146.46" cy="108.19" r="0.9" fill="#8c52c8"/>
<circle cx="155.44" cy="114.78" r="0.9" fill="#8c52c8"/>
<circle cx="170.07" cy="104.88" r="0.9" fill="#6a3cc0"/>
<circle cx="134.27" cy="104.89" r="1.1" fill="#3a1cb8"/>
<circle cx="138.35" cy="106.04" r="0.9" fill="#6a3cc0"/>
<circle cx="165.10" cy="115.44" r="1.1" fill="#3a1cb8"/>
<circle cx="157.85" cy="105.40" r="0.9" fill="#3a1cb8"/>
<circle cx="155.59" cy="105.75" r="0.7" fill="#3a1cb8"/>
<circle cx="171.10" cy="108.74" r="0.9" fill="#3a1cb8"/>
<circle cx="169.85" cy="109.87" r="0.9" fill="#8c52c8"/>
<circle cx="144.63" cy="116.79" r="0.9" fill="#6a3cc0"/>
<circle cx="153.35" cy="111.14" r="1.1" fill="#8c52c8"/>
<circle cx="172.40" cy="113.21" r="0.7" fill="#6a3cc0"/>
<circle cx="138.62" cy="112.71" r="0.7" fill="#6a3cc0"/>
<circle cx="140.70" cy="105.80" r="1.1" fill="#8c52c8"/>
<circle cx="139.03" cy="114.93" r="0.7" fill="#3a1cb8"/>
<circle cx="168.43" cy="117.09" r="0.9" fill="#3a1cb8"/>
<circle cx="156.61" cy="117.59" r="0.7" fill="#3a1cb8"/>
<circle cx="151.88" cy="104.53" r="0.7" fill="#3a1cb8"/>
<circle cx="146.74" cy="106.70" r="0.7" fill="#8c52c8"/>
<circle cx="155.31" cy="117.15" r="0.9" fill="#8c52c8"/>
<circle cx="171.20" cy="113.62" r="0.7" fill="#3a1cb8"/>
<circle cx="170.61" cy="112.22" r="0.7" fill="#6a3cc0"/>
<circle cx="133.33" cy="118.11" r="0.7" fill="#3a1cb8"/>
<circle cx="170.76" cy="109.76" r="0.7" fill="#8c52c8"/>
<circle cx="144.63" cy="115.00" r="0.9" fill="#3a1cb8"/>
<circle cx="169.99" cy="113.79" r="0.9" fill="#8c52c8"/>
<circle cx="152.17" cy="104.22" r="0.9" fill="#3a1cb8"/>
<circle cx="160.60" cy="107.77" r="0.9" fill="#8c52c8"/>
<circle cx="165.77" cy="109.22" r="0.7" fill="#8c52c8"/>
<circle cx="172.58" cy="114.00" r="0.9" fill="#8c52c8"/>
<circle cx="150.95" cy="108.62" r="0.9" fill="#3a1cb8"/>
<circle cx="175.95" cy="115.26" r="0.9" fill="#8c52c8"/>
<circle cx="136.37" cy="110.10" r="0.7" fill="#3a1cb8"/>
<text x="47.2" y="100.8" font-family='"Liberation Serif", serif' font-style="italic" font-weight="bold" font-size="5.6" fill="#3a3a3a" textLength="25.8" lengthAdjust="spacingAndGlyphs">eeeeeeeeeyy</text>
<text x="140" y="100.2" font-family='"Liberation Serif", serif' font-style="italic" font-weight="bold" font-size="5.6" fill="#3a3a3a" textLength="30" lengthAdjust="spacingAndGlyphs">aaaV' yvvvv</text>
<rect x="87.3" y="49" width="34.4" height="38.4" rx="4.5" fill="#fff" stroke="#c9a878" stroke-width="0.8" stroke-dasharray="1,0.6"/>
<path d="M93.2,62 L101.2,62 L102.2,72 L97.2,76 L92.2,72 Z" fill="#dcefd6"/>
<circle cx="97.2" cy="68" r="2.1" fill="#c4dc2c"/>
<circle cx="91.60" cy="67.40" r="1.9" fill="#9a56cc"/>
<circle cx="93.40" cy="71.20" r="1.9" fill="#9a56cc"/>
<circle cx="103.40" cy="69.40" r="1.9" fill="#9a56cc"/>
<circle cx="100.40" cy="66.00" r="1.9" fill="#9a56cc"/>
<circle cx="97.20" cy="77.80" r="1.9" fill="#9a56cc"/>
<circle cx="97.20" cy="58.00" r="1.9" fill="#9a56cc"/>
<circle cx="97.20" cy="83.10" r="0.85" fill="#2a18b8"/>
<circle cx="97.20" cy="51.00" r="0.85" fill="#2a18b8"/>
<circle cx="93.00" cy="64.10" r="0.85" fill="#2a18b8"/>
<circle cx="103.20" cy="62.30" r="0.85" fill="#2a18b8"/>
<path d="M109.4,62 L117.4,62 L118.4,72 L113.4,76 L108.4,72 Z" fill="#dcefd6"/>
<circle cx="113.4" cy="68" r="2.1" fill="#8a8a30"/>
<circle cx="107.80" cy="67.40" r="1.9" fill="#9a56cc"/>
<circle cx="109.60" cy="71.20" r="1.9" fill="#9a56cc"/>
<circle cx="119.60" cy="69.40" r="1.9" fill="#9a56cc"/>
<circle cx="116.60" cy="66.00" r="1.9" fill="#9a56cc"/>
<circle cx="113.40" cy="77.80" r="1.9" fill="#9a56cc"/>
<circle cx="113.40" cy="58.00" r="1.9" fill="#9a56cc"/>
<circle cx="113.40" cy="83.10" r="0.85" fill="#2a18b8"/>
<circle cx="113.40" cy="51.00" r="0.85" fill="#2a18b8"/>
<circle cx="109.20" cy="64.10" r="0.85" fill="#2a18b8"/>
<circle cx="119.40" cy="62.30" r="0.85" fill="#2a18b8"/>
<rect x="87" y="94" width="36" height="33" fill="#888" filter="url(#semf)"/>
<line x1="115.00" y1="125.50" x2="121.50" y2="125.50" stroke="#fff" stroke-width="0.8" />
<line x1="221.50" y1="21.85" x2="355.00" y2="21.85" stroke="#4b6b2c" stroke-width="1.5" stroke-dasharray="6.2,6"/>
<line x1="221.50" y1="64.85" x2="355.00" y2="64.85" stroke="#4b6b2c" stroke-width="1.5" stroke-dasharray="6.2,6"/>
<circle cx="221.00" cy="38.40" r="1.6" fill="#151515"/>
<circle cx="223.00" cy="37.30" r="1.6" fill="#151515"/>
<circle cx="225.00" cy="36.20" r="1.6" fill="#151515"/>
<circle cx="227.00" cy="35.10" r="1.6" fill="#151515"/>
<circle cx="229.00" cy="34.00" r="1.6" fill="#151515"/>
<circle cx="231.00" cy="33.03" r="1.6" fill="#151515"/>
<circle cx="233.00" cy="32.19" r="1.6" fill="#151515"/>
<circle cx="235.00" cy="31.34" r="1.6" fill="#151515"/>
<circle cx="237.00" cy="30.49" r="1.6" fill="#151515"/>
<circle cx="239.00" cy="29.64" r="1.6" fill="#151515"/>
<circle cx="241.00" cy="28.79" r="1.6" fill="#151515"/>
<circle cx="243.00" cy="27.95" r="1.6" fill="#151515"/>
<circle cx="245.00" cy="27.10" r="1.6" fill="#151515"/>
<circle cx="247.00" cy="26.25" r="1.6" fill="#151515"/>
<circle cx="249.00" cy="25.52" r="1.6" fill="#151515"/>
<circle cx="251.00" cy="25.01" r="1.6" fill="#151515"/>
<circle cx="253.00" cy="24.50" r="1.6" fill="#151515"/>
<circle cx="255.00" cy="23.99" r="1.6" fill="#151515"/>
<circle cx="257.00" cy="23.48" r="1.6" fill="#151515"/>
<circle cx="259.00" cy="22.97" r="1.6" fill="#151515"/>
<circle cx="261.00" cy="22.46" r="1.6" fill="#151515"/>
<circle cx="263.00" cy="21.98" r="1.6" fill="#151515"/>
<circle cx="265.00" cy="21.56" r="1.6" fill="#151515"/>
<circle cx="267.00" cy="21.15" r="1.6" fill="#151515"/>
<circle cx="269.00" cy="20.74" r="1.6" fill="#151515"/>
<circle cx="271.00" cy="20.33" r="1.6" fill="#151515"/>
<circle cx="273.00" cy="19.92" r="1.6" fill="#151515"/>
<circle cx="275.00" cy="19.51" r="1.6" fill="#151515"/>
<circle cx="277.00" cy="19.09" r="1.6" fill="#151515"/>
<circle cx="279.00" cy="18.68" r="1.6" fill="#151515"/>
<circle cx="281.00" cy="18.39" r="1.6" fill="#151515"/>
<circle cx="283.00" cy="18.12" r="1.6" fill="#151515"/>
<circle cx="285.00" cy="17.86" r="1.6" fill="#151515"/>
<circle cx="287.00" cy="17.60" r="1.6" fill="#151515"/>
<circle cx="289.00" cy="17.33" r="1.6" fill="#151515"/>
<circle cx="291.00" cy="17.05" r="1.6" fill="#151515"/>
<circle cx="293.00" cy="16.74" r="1.6" fill="#151515"/>
<circle cx="295.00" cy="16.43" r="1.6" fill="#151515"/>
<circle cx="297.00" cy="16.12" r="1.6" fill="#151515"/>
<circle cx="299.00" cy="15.82" r="1.6" fill="#151515"/>
<circle cx="301.00" cy="15.43" r="1.6" fill="#151515"/>
<circle cx="303.00" cy="15.03" r="1.6" fill="#151515"/>
<circle cx="305.00" cy="14.64" r="1.6" fill="#151515"/>
<circle cx="307.00" cy="14.24" r="1.6" fill="#151515"/>
<circle cx="309.00" cy="13.85" r="1.6" fill="#151515"/>
<circle cx="311.00" cy="13.45" r="1.6" fill="#151515"/>
<circle cx="313.00" cy="13.06" r="1.6" fill="#151515"/>
<circle cx="315.00" cy="12.77" r="1.6" fill="#151515"/>
<circle cx="317.00" cy="12.50" r="1.6" fill="#151515"/>
<circle cx="319.00" cy="12.23" r="1.6" fill="#151515"/>
<circle cx="321.00" cy="11.96" r="1.6" fill="#151515"/>
<circle cx="323.00" cy="11.69" r="1.6" fill="#151515"/>
<circle cx="325.00" cy="11.42" r="1.6" fill="#151515"/>
<circle cx="327.00" cy="11.15" r="1.6" fill="#151515"/>
<circle cx="329.00" cy="11.07" r="1.6" fill="#151515"/>
<circle cx="331.00" cy="11.02" r="1.6" fill="#151515"/>
<circle cx="333.00" cy="10.98" r="1.6" fill="#151515"/>
<circle cx="335.00" cy="10.93" r="1.6" fill="#151515"/>
<circle cx="337.00" cy="10.89" r="1.6" fill="#151515"/>
<circle cx="339.00" cy="10.85" r="1.6" fill="#151515"/>
<circle cx="341.00" cy="10.80" r="1.6" fill="#151515"/>
<circle cx="343.00" cy="10.76" r="1.6" fill="#151515"/>
<circle cx="345.00" cy="10.72" r="1.6" fill="#151515"/>
<circle cx="347.00" cy="10.67" r="1.6" fill="#151515"/>
<circle cx="349.00" cy="10.63" r="1.6" fill="#151515"/>
<circle cx="351.00" cy="10.59" r="1.6" fill="#151515"/>
<circle cx="353.00" cy="10.54" r="1.6" fill="#151515"/>
<circle cx="355.00" cy="10.50" r="1.6" fill="#151515"/>
<circle cx="220.80" cy="38.20" r="0.35" fill="#9a9a9a"/>
<circle cx="222.80" cy="37.10" r="0.35" fill="#9a9a9a"/>
<circle cx="224.80" cy="36.00" r="0.35" fill="#9a9a9a"/>
<circle cx="226.80" cy="34.90" r="0.35" fill="#9a9a9a"/>
<circle cx="228.80" cy="33.80" r="0.35" fill="#9a9a9a"/>
<circle cx="230.80" cy="32.83" r="0.35" fill="#9a9a9a"/>
<circle cx="232.80" cy="31.99" r="0.35" fill="#9a9a9a"/>
<circle cx="234.80" cy="31.14" r="0.35" fill="#9a9a9a"/>
<circle cx="236.80" cy="30.29" r="0.35" fill="#9a9a9a"/>
<circle cx="238.80" cy="29.44" r="0.35" fill="#9a9a9a"/>
<circle cx="240.80" cy="28.59" r="0.35" fill="#9a9a9a"/>
<circle cx="242.80" cy="27.75" r="0.35" fill="#9a9a9a"/>
<circle cx="244.80" cy="26.90" r="0.35" fill="#9a9a9a"/>
<circle cx="246.80" cy="26.05" r="0.35" fill="#9a9a9a"/>
<circle cx="248.80" cy="25.32" r="0.35" fill="#9a9a9a"/>
<circle cx="250.80" cy="24.81" r="0.35" fill="#9a9a9a"/>
<circle cx="252.80" cy="24.30" r="0.35" fill="#9a9a9a"/>
<circle cx="254.80" cy="23.79" r="0.35" fill="#9a9a9a"/>
<circle cx="256.80" cy="23.28" r="0.35" fill="#9a9a9a"/>
<circle cx="258.80" cy="22.77" r="0.35" fill="#9a9a9a"/>
<circle cx="260.80" cy="22.26" r="0.35" fill="#9a9a9a"/>
<circle cx="262.80" cy="21.78" r="0.35" fill="#9a9a9a"/>
<circle cx="264.80" cy="21.36" r="0.35" fill="#9a9a9a"/>
<circle cx="266.80" cy="20.95" r="0.35" fill="#9a9a9a"/>
<circle cx="268.80" cy="20.54" r="0.35" fill="#9a9a9a"/>
<circle cx="270.80" cy="20.13" r="0.35" fill="#9a9a9a"/>
<circle cx="272.80" cy="19.72" r="0.35" fill="#9a9a9a"/>
<circle cx="274.80" cy="19.31" r="0.35" fill="#9a9a9a"/>
<circle cx="276.80" cy="18.89" r="0.35" fill="#9a9a9a"/>
<circle cx="278.80" cy="18.48" r="0.35" fill="#9a9a9a"/>
<circle cx="280.80" cy="18.19" r="0.35" fill="#9a9a9a"/>
<circle cx="282.80" cy="17.92" r="0.35" fill="#9a9a9a"/>
<circle cx="284.80" cy="17.66" r="0.35" fill="#9a9a9a"/>
<circle cx="286.80" cy="17.40" r="0.35" fill="#9a9a9a"/>
<circle cx="288.80" cy="17.13" r="0.35" fill="#9a9a9a"/>
<circle cx="290.80" cy="16.85" r="0.35" fill="#9a9a9a"/>
<circle cx="292.80" cy="16.54" r="0.35" fill="#9a9a9a"/>
<circle cx="294.80" cy="16.23" r="0.35" fill="#9a9a9a"/>
<circle cx="296.80" cy="15.92" r="0.35" fill="#9a9a9a"/>
<circle cx="298.80" cy="15.62" r="0.35" fill="#9a9a9a"/>
<circle cx="300.80" cy="15.23" r="0.35" fill="#9a9a9a"/>
<circle cx="302.80" cy="14.83" r="0.35" fill="#9a9a9a"/>
<circle cx="304.80" cy="14.44" r="0.35" fill="#9a9a9a"/>
<circle cx="306.80" cy="14.04" r="0.35" fill="#9a9a9a"/>
<circle cx="308.80" cy="13.65" r="0.35" fill="#9a9a9a"/>
<circle cx="310.80" cy="13.25" r="0.35" fill="#9a9a9a"/>
<circle cx="312.80" cy="12.86" r="0.35" fill="#9a9a9a"/>
<circle cx="314.80" cy="12.57" r="0.35" fill="#9a9a9a"/>
<circle cx="316.80" cy="12.30" r="0.35" fill="#9a9a9a"/>
<circle cx="318.80" cy="12.03" r="0.35" fill="#9a9a9a"/>
<circle cx="320.80" cy="11.76" r="0.35" fill="#9a9a9a"/>
<circle cx="322.80" cy="11.49" r="0.35" fill="#9a9a9a"/>
<circle cx="324.80" cy="11.22" r="0.35" fill="#9a9a9a"/>
<circle cx="326.80" cy="10.95" r="0.35" fill="#9a9a9a"/>
<circle cx="328.80" cy="10.87" r="0.35" fill="#9a9a9a"/>
<circle cx="330.80" cy="10.82" r="0.35" fill="#9a9a9a"/>
<circle cx="332.80" cy="10.78" r="0.35" fill="#9a9a9a"/>
<circle cx="334.80" cy="10.73" r="0.35" fill="#9a9a9a"/>
<circle cx="336.80" cy="10.69" r="0.35" fill="#9a9a9a"/>
<circle cx="338.80" cy="10.65" r="0.35" fill="#9a9a9a"/>
<circle cx="340.80" cy="10.60" r="0.35" fill="#9a9a9a"/>
<circle cx="342.80" cy="10.56" r="0.35" fill="#9a9a9a"/>
<circle cx="344.80" cy="10.52" r="0.35" fill="#9a9a9a"/>
<circle cx="346.80" cy="10.47" r="0.35" fill="#9a9a9a"/>
<circle cx="348.80" cy="10.43" r="0.35" fill="#9a9a9a"/>
<circle cx="350.80" cy="10.39" r="0.35" fill="#9a9a9a"/>
<circle cx="352.80" cy="10.34" r="0.35" fill="#9a9a9a"/>
<circle cx="354.80" cy="10.30" r="0.35" fill="#9a9a9a"/>
<circle cx="229.90" cy="117.30" r="1.55" fill="#2c1fc4"/>
<circle cx="231.96" cy="112.76" r="1.55" fill="#2c1fc4"/>
<circle cx="234.02" cy="105.99" r="1.55" fill="#2c1fc4"/>
<circle cx="236.08" cy="99.09" r="1.55" fill="#2c1fc4"/>
<circle cx="238.14" cy="92.85" r="1.55" fill="#2c1fc4"/>
<circle cx="240.20" cy="87.97" r="1.55" fill="#2c1fc4"/>
<circle cx="242.26" cy="82.50" r="1.55" fill="#2c1fc4"/>
<circle cx="244.32" cy="76.41" r="1.55" fill="#2c1fc4"/>
<circle cx="246.38" cy="73.47" r="1.55" fill="#2c1fc4"/>
<circle cx="248.44" cy="71.88" r="1.55" fill="#2c1fc4"/>
<circle cx="250.50" cy="70.00" r="1.55" fill="#2c1fc4"/>
<circle cx="252.56" cy="67.94" r="1.55" fill="#2c1fc4"/>
<circle cx="254.62" cy="65.02" r="1.55" fill="#2c1fc4"/>
<circle cx="256.68" cy="59.64" r="1.55" fill="#2c1fc4"/>
<circle cx="258.74" cy="54.31" r="1.55" fill="#2c1fc4"/>
<circle cx="260.80" cy="51.27" r="1.55" fill="#2c1fc4"/>
<circle cx="262.86" cy="48.51" r="1.55" fill="#2c1fc4"/>
<circle cx="264.92" cy="46.15" r="1.55" fill="#2c1fc4"/>
<circle cx="266.98" cy="43.87" r="1.55" fill="#2c1fc4"/>
<circle cx="269.04" cy="42.19" r="1.55" fill="#2c1fc4"/>
<circle cx="271.10" cy="40.52" r="1.55" fill="#2c1fc4"/>
<circle cx="273.16" cy="38.84" r="1.55" fill="#2c1fc4"/>
<circle cx="275.22" cy="37.52" r="1.55" fill="#2c1fc4"/>
<circle cx="277.28" cy="36.34" r="1.55" fill="#2c1fc4"/>
<circle cx="279.34" cy="35.15" r="1.55" fill="#2c1fc4"/>
<circle cx="281.40" cy="33.96" r="1.55" fill="#2c1fc4"/>
<circle cx="283.46" cy="32.69" r="1.55" fill="#2c1fc4"/>
<circle cx="285.52" cy="31.37" r="1.55" fill="#2c1fc4"/>
<circle cx="287.58" cy="30.05" r="1.55" fill="#2c1fc4"/>
<circle cx="289.64" cy="28.73" r="1.55" fill="#2c1fc4"/>
<circle cx="291.70" cy="27.01" r="1.55" fill="#2c1fc4"/>
<circle cx="293.76" cy="25.19" r="1.55" fill="#2c1fc4"/>
<circle cx="295.82" cy="23.38" r="1.55" fill="#2c1fc4"/>
<circle cx="297.88" cy="21.57" r="1.55" fill="#2c1fc4"/>
<circle cx="299.94" cy="20.14" r="1.55" fill="#2c1fc4"/>
<circle cx="302.00" cy="19.25" r="1.55" fill="#2c1fc4"/>
<circle cx="304.06" cy="18.37" r="1.55" fill="#2c1fc4"/>
<circle cx="306.12" cy="17.48" r="1.55" fill="#2c1fc4"/>
<circle cx="308.18" cy="16.60" r="1.55" fill="#2c1fc4"/>
<circle cx="310.24" cy="15.71" r="1.55" fill="#2c1fc4"/>
<circle cx="312.30" cy="14.83" r="1.55" fill="#2c1fc4"/>
<circle cx="314.36" cy="14.12" r="1.55" fill="#2c1fc4"/>
<circle cx="316.42" cy="13.58" r="1.55" fill="#2c1fc4"/>
<circle cx="318.48" cy="13.04" r="1.55" fill="#2c1fc4"/>
<circle cx="320.54" cy="12.50" r="1.55" fill="#2c1fc4"/>
<circle cx="322.60" cy="11.96" r="1.55" fill="#2c1fc4"/>
<circle cx="324.66" cy="11.70" r="1.55" fill="#2c1fc4"/>
<circle cx="326.72" cy="11.55" r="1.55" fill="#2c1fc4"/>
<circle cx="328.78" cy="11.40" r="1.55" fill="#2c1fc4"/>
<circle cx="330.84" cy="11.25" r="1.55" fill="#2c1fc4"/>
<circle cx="332.90" cy="11.11" r="1.55" fill="#2c1fc4"/>
<circle cx="334.96" cy="10.96" r="1.55" fill="#2c1fc4"/>
<circle cx="337.02" cy="10.81" r="1.55" fill="#2c1fc4"/>
<circle cx="339.08" cy="10.67" r="1.55" fill="#2c1fc4"/>
<circle cx="341.14" cy="10.59" r="1.55" fill="#2c1fc4"/>
<circle cx="343.20" cy="10.58" r="1.55" fill="#2c1fc4"/>
<circle cx="345.26" cy="10.56" r="1.55" fill="#2c1fc4"/>
<circle cx="347.32" cy="10.55" r="1.55" fill="#2c1fc4"/>
<circle cx="349.38" cy="10.54" r="1.55" fill="#2c1fc4"/>
<circle cx="351.44" cy="10.52" r="1.55" fill="#2c1fc4"/>
<circle cx="353.50" cy="10.51" r="1.55" fill="#2c1fc4"/>
<circle cx="250.00" cy="116.60" r="1.55" fill="#b42ad2"/>
<circle cx="252.06" cy="112.34" r="1.55" fill="#b42ad2"/>
<circle cx="254.12" cy="107.15" r="1.55" fill="#b42ad2"/>
<circle cx="256.18" cy="102.73" r="1.55" fill="#b42ad2"/>
<circle cx="258.24" cy="93.75" r="1.55" fill="#b42ad2"/>
<circle cx="260.30" cy="88.00" r="1.55" fill="#b42ad2"/>
<circle cx="262.36" cy="82.70" r="1.55" fill="#b42ad2"/>
<circle cx="264.42" cy="79.67" r="1.55" fill="#b42ad2"/>
<circle cx="266.48" cy="76.21" r="1.55" fill="#b42ad2"/>
<circle cx="268.54" cy="72.47" r="1.55" fill="#b42ad2"/>
<circle cx="270.60" cy="64.87" r="1.55" fill="#b42ad2"/>
<circle cx="272.66" cy="60.58" r="1.55" fill="#b42ad2"/>
<circle cx="274.72" cy="56.40" r="1.55" fill="#b42ad2"/>
<circle cx="276.78" cy="52.10" r="1.55" fill="#b42ad2"/>
<circle cx="278.84" cy="47.64" r="1.55" fill="#b42ad2"/>
<circle cx="280.90" cy="43.22" r="1.55" fill="#b42ad2"/>
<circle cx="282.96" cy="39.59" r="1.55" fill="#b42ad2"/>
<circle cx="285.02" cy="35.96" r="1.55" fill="#b42ad2"/>
<circle cx="287.08" cy="32.19" r="1.55" fill="#b42ad2"/>
<circle cx="289.14" cy="29.36" r="1.55" fill="#b42ad2"/>
<circle cx="291.20" cy="27.30" r="1.55" fill="#b42ad2"/>
<circle cx="293.26" cy="25.24" r="1.55" fill="#b42ad2"/>
<circle cx="295.32" cy="23.98" r="1.55" fill="#b42ad2"/>
<circle cx="297.38" cy="22.83" r="1.55" fill="#b42ad2"/>
<circle cx="299.44" cy="21.68" r="1.55" fill="#b42ad2"/>
<circle cx="301.50" cy="20.53" r="1.55" fill="#b42ad2"/>
<circle cx="303.56" cy="19.38" r="1.55" fill="#b42ad2"/>
<circle cx="305.62" cy="18.22" r="1.55" fill="#b42ad2"/>
<circle cx="307.68" cy="17.50" r="1.55" fill="#b42ad2"/>
<circle cx="309.74" cy="16.95" r="1.55" fill="#b42ad2"/>
<circle cx="311.80" cy="16.39" r="1.55" fill="#b42ad2"/>
<circle cx="313.86" cy="15.84" r="1.55" fill="#b42ad2"/>
<circle cx="315.92" cy="15.29" r="1.55" fill="#b42ad2"/>
<circle cx="317.98" cy="14.73" r="1.55" fill="#b42ad2"/>
<circle cx="320.04" cy="14.18" r="1.55" fill="#b42ad2"/>
<circle cx="322.10" cy="13.62" r="1.55" fill="#b42ad2"/>
<circle cx="324.16" cy="13.07" r="1.55" fill="#b42ad2"/>
<circle cx="326.22" cy="12.52" r="1.55" fill="#b42ad2"/>
<circle cx="328.28" cy="12.15" r="1.55" fill="#b42ad2"/>
<circle cx="330.34" cy="12.02" r="1.55" fill="#b42ad2"/>
<circle cx="332.40" cy="11.89" r="1.55" fill="#b42ad2"/>
<circle cx="334.46" cy="11.77" r="1.55" fill="#b42ad2"/>
<circle cx="336.52" cy="11.64" r="1.55" fill="#b42ad2"/>
<circle cx="338.58" cy="11.51" r="1.55" fill="#b42ad2"/>
<circle cx="340.64" cy="11.38" r="1.55" fill="#b42ad2"/>
<circle cx="342.70" cy="11.26" r="1.55" fill="#b42ad2"/>
<circle cx="344.76" cy="11.13" r="1.55" fill="#b42ad2"/>
<circle cx="346.82" cy="11.00" r="1.55" fill="#b42ad2"/>
<circle cx="348.88" cy="10.88" r="1.55" fill="#b42ad2"/>
<circle cx="350.94" cy="10.75" r="1.55" fill="#b42ad2"/>
<circle cx="353.00" cy="10.62" r="1.55" fill="#b42ad2"/>
<circle cx="266.00" cy="118.00" r="1.55" fill="#86e04c"/>
<circle cx="268.06" cy="116.46" r="1.55" fill="#86e04c"/>
<circle cx="270.12" cy="114.54" r="1.55" fill="#86e04c"/>
<circle cx="272.18" cy="112.42" r="1.55" fill="#86e04c"/>
<circle cx="274.24" cy="107.36" r="1.55" fill="#86e04c"/>
<circle cx="276.30" cy="103.04" r="1.55" fill="#86e04c"/>
<circle cx="278.36" cy="98.35" r="1.55" fill="#86e04c"/>
<circle cx="280.42" cy="93.45" r="1.55" fill="#86e04c"/>
<circle cx="282.48" cy="89.98" r="1.55" fill="#86e04c"/>
<circle cx="284.54" cy="86.89" r="1.55" fill="#86e04c"/>
<circle cx="286.60" cy="80.95" r="1.55" fill="#86e04c"/>
<circle cx="288.66" cy="75.77" r="1.55" fill="#86e04c"/>
<circle cx="290.72" cy="67.96" r="1.55" fill="#86e04c"/>
<circle cx="292.78" cy="64.36" r="1.55" fill="#86e04c"/>
<circle cx="294.84" cy="60.75" r="1.55" fill="#86e04c"/>
<circle cx="296.90" cy="57.15" r="1.55" fill="#86e04c"/>
<circle cx="298.96" cy="53.54" r="1.55" fill="#86e04c"/>
<circle cx="301.02" cy="50.32" r="1.55" fill="#86e04c"/>
<circle cx="303.08" cy="47.12" r="1.55" fill="#86e04c"/>
<circle cx="305.14" cy="43.92" r="1.55" fill="#86e04c"/>
<circle cx="307.20" cy="40.72" r="1.55" fill="#86e04c"/>
<circle cx="309.26" cy="37.53" r="1.55" fill="#86e04c"/>
<circle cx="311.32" cy="34.88" r="1.55" fill="#86e04c"/>
<circle cx="313.38" cy="33.08" r="1.55" fill="#86e04c"/>
<circle cx="315.44" cy="31.27" r="1.55" fill="#86e04c"/>
<circle cx="317.50" cy="29.47" r="1.55" fill="#86e04c"/>
<circle cx="319.56" cy="27.66" r="1.55" fill="#86e04c"/>
<circle cx="321.62" cy="25.86" r="1.55" fill="#86e04c"/>
<circle cx="323.68" cy="24.65" r="1.55" fill="#86e04c"/>
<circle cx="325.74" cy="23.50" r="1.55" fill="#86e04c"/>
<circle cx="327.80" cy="22.35" r="1.55" fill="#86e04c"/>
<circle cx="329.86" cy="21.19" r="1.55" fill="#86e04c"/>
<circle cx="331.92" cy="20.04" r="1.55" fill="#86e04c"/>
<circle cx="333.98" cy="18.89" r="1.55" fill="#86e04c"/>
<circle cx="336.04" cy="18.03" r="1.55" fill="#86e04c"/>
<circle cx="338.10" cy="17.26" r="1.55" fill="#86e04c"/>
<circle cx="340.16" cy="16.50" r="1.55" fill="#86e04c"/>
<circle cx="342.22" cy="15.73" r="1.55" fill="#86e04c"/>
<circle cx="344.28" cy="14.96" r="1.55" fill="#86e04c"/>
<circle cx="346.34" cy="14.17" r="1.55" fill="#86e04c"/>
<circle cx="348.40" cy="13.30" r="1.55" fill="#86e04c"/>
<circle cx="350.46" cy="12.42" r="1.55" fill="#86e04c"/>
<circle cx="352.52" cy="11.55" r="1.55" fill="#86e04c"/>
<circle cx="354.58" cy="10.68" r="1.55" fill="#86e04c"/>
<circle cx="276.60" cy="117.30" r="1.55" fill="#a52a2a"/>
<circle cx="278.66" cy="112.40" r="1.55" fill="#a52a2a"/>
<circle cx="280.72" cy="107.59" r="1.55" fill="#a52a2a"/>
<circle cx="282.78" cy="102.69" r="1.55" fill="#a52a2a"/>
<circle cx="284.84" cy="96.65" r="1.55" fill="#a52a2a"/>
<circle cx="286.90" cy="89.70" r="1.55" fill="#a52a2a"/>
<circle cx="288.96" cy="86.09" r="1.55" fill="#a52a2a"/>
<circle cx="291.02" cy="79.08" r="1.55" fill="#a52a2a"/>
<circle cx="293.08" cy="71.39" r="1.55" fill="#a52a2a"/>
<circle cx="295.14" cy="64.07" r="1.55" fill="#a52a2a"/>
<circle cx="297.20" cy="59.55" r="1.55" fill="#a52a2a"/>
<circle cx="299.26" cy="55.02" r="1.55" fill="#a52a2a"/>
<circle cx="301.32" cy="50.49" r="1.55" fill="#a52a2a"/>
<circle cx="303.38" cy="46.50" r="1.55" fill="#a52a2a"/>
<circle cx="305.44" cy="42.76" r="1.55" fill="#a52a2a"/>
<circle cx="307.50" cy="39.02" r="1.55" fill="#a52a2a"/>
<circle cx="309.56" cy="35.60" r="1.55" fill="#a52a2a"/>
<circle cx="311.62" cy="33.04" r="1.55" fill="#a52a2a"/>
<circle cx="313.68" cy="30.47" r="1.55" fill="#a52a2a"/>
<circle cx="315.74" cy="27.90" r="1.55" fill="#a52a2a"/>
<circle cx="317.80" cy="25.34" r="1.55" fill="#a52a2a"/>
<circle cx="319.86" cy="22.77" r="1.55" fill="#a52a2a"/>
<circle cx="321.92" cy="21.35" r="1.55" fill="#a52a2a"/>
<circle cx="323.98" cy="20.32" r="1.55" fill="#a52a2a"/>
<circle cx="326.04" cy="19.30" r="1.55" fill="#a52a2a"/>
<circle cx="328.10" cy="18.28" r="1.55" fill="#a52a2a"/>
<circle cx="330.16" cy="17.25" r="1.55" fill="#a52a2a"/>
<circle cx="332.22" cy="16.23" r="1.55" fill="#a52a2a"/>
<circle cx="334.28" cy="15.21" r="1.55" fill="#a52a2a"/>
<circle cx="336.34" cy="14.63" r="1.55" fill="#a52a2a"/>
<circle cx="338.40" cy="14.10" r="1.55" fill="#a52a2a"/>
<circle cx="340.46" cy="13.58" r="1.55" fill="#a52a2a"/>
<circle cx="342.52" cy="13.05" r="1.55" fill="#a52a2a"/>
<circle cx="344.58" cy="12.53" r="1.55" fill="#a52a2a"/>
<circle cx="346.64" cy="12.00" r="1.55" fill="#a52a2a"/>
<circle cx="348.70" cy="11.48" r="1.55" fill="#a52a2a"/>
<circle cx="350.76" cy="11.16" r="1.55" fill="#a52a2a"/>
<circle cx="352.82" cy="10.84" r="1.55" fill="#a52a2a"/>
<circle cx="354.88" cy="10.52" r="1.55" fill="#a52a2a"/>
<rect x="221" y="10.5" width="134.00" height="107.50" fill="none" stroke="#3a3a3a" stroke-width="1.3"/>
<line x1="221.00" y1="10.50" x2="224.00" y2="10.50" stroke="#3a3a3a" stroke-width="1" />
<line x1="221.00" y1="21.25" x2="222.80" y2="21.25" stroke="#3a3a3a" stroke-width="1" />
<line x1="221.00" y1="32.00" x2="224.00" y2="32.00" stroke="#3a3a3a" stroke-width="1" />
<line x1="221.00" y1="42.75" x2="222.80" y2="42.75" stroke="#3a3a3a" stroke-width="1" />
<line x1="221.00" y1="53.50" x2="224.00" y2="53.50" stroke="#3a3a3a" stroke-width="1" />
<line x1="221.00" y1="64.25" x2="222.80" y2="64.25" stroke="#3a3a3a" stroke-width="1" />
<line x1="221.00" y1="75.00" x2="224.00" y2="75.00" stroke="#3a3a3a" stroke-width="1" />
<line x1="221.00" y1="85.75" x2="222.80" y2="85.75" stroke="#3a3a3a" stroke-width="1" />
<line x1="221.00" y1="96.50" x2="224.00" y2="96.50" stroke="#3a3a3a" stroke-width="1" />
<line x1="221.00" y1="107.25" x2="222.80" y2="107.25" stroke="#3a3a3a" stroke-width="1" />
<line x1="221.00" y1="118.00" x2="224.00" y2="118.00" stroke="#3a3a3a" stroke-width="1" />
<line x1="221.00" y1="118.00" x2="221.00" y2="116.20" stroke="#3a3a3a" stroke-width="1" />
<line x1="231.31" y1="118.00" x2="231.31" y2="115.00" stroke="#3a3a3a" stroke-width="1" />
<line x1="241.62" y1="118.00" x2="241.62" y2="116.20" stroke="#3a3a3a" stroke-width="1" />
<line x1="251.92" y1="118.00" x2="251.92" y2="115.00" stroke="#3a3a3a" stroke-width="1" />
<line x1="262.23" y1="118.00" x2="262.23" y2="116.20" stroke="#3a3a3a" stroke-width="1" />
<line x1="272.54" y1="118.00" x2="272.54" y2="115.00" stroke="#3a3a3a" stroke-width="1" />
<line x1="282.85" y1="118.00" x2="282.85" y2="116.20" stroke="#3a3a3a" stroke-width="1" />
<line x1="293.15" y1="118.00" x2="293.15" y2="115.00" stroke="#3a3a3a" stroke-width="1" />
<line x1="303.46" y1="118.00" x2="303.46" y2="116.20" stroke="#3a3a3a" stroke-width="1" />
<line x1="313.77" y1="118.00" x2="313.77" y2="115.00" stroke="#3a3a3a" stroke-width="1" />
<line x1="324.08" y1="118.00" x2="324.08" y2="116.20" stroke="#3a3a3a" stroke-width="1" />
<line x1="334.38" y1="118.00" x2="334.38" y2="115.00" stroke="#3a3a3a" stroke-width="1" />
<line x1="344.69" y1="118.00" x2="344.69" y2="116.20" stroke="#3a3a3a" stroke-width="1" />
<line x1="355.00" y1="118.00" x2="355.00" y2="115.00" stroke="#3a3a3a" stroke-width="1" />
<text x="214.00" y="13.84" font-family='"Liberation Serif", serif' font-weight="bold" font-size="9.2" fill="#111" stroke="#111" stroke-width="0.22" textLength="4.50" lengthAdjust="spacingAndGlyphs" >0</text>
<text x="202.90" y="35.34" font-family='"Liberation Serif", serif' font-weight="bold" font-size="9.2" fill="#111" stroke="#111" stroke-width="0.22" textLength="15.60" lengthAdjust="spacingAndGlyphs" >-200</text>
<text x="202.90" y="56.84" font-family='"Liberation Serif", serif' font-weight="bold" font-size="9.2" fill="#111" stroke="#111" stroke-width="0.22" textLength="15.60" lengthAdjust="spacingAndGlyphs" >-400</text>
<text x="202.90" y="78.34" font-family='"Liberation Serif", serif' font-weight="bold" font-size="9.2" fill="#111" stroke="#111" stroke-width="0.22" textLength="15.60" lengthAdjust="spacingAndGlyphs" >-600</text>
<text x="202.90" y="99.84" font-family='"Liberation Serif", serif' font-weight="bold" font-size="9.2" fill="#111" stroke="#111" stroke-width="0.22" textLength="15.60" lengthAdjust="spacingAndGlyphs" >-800</text>
<text x="199.00" y="121.34" font-family='"Liberation Serif", serif' font-weight="bold" font-size="9.2" fill="#111" stroke="#111" stroke-width="0.22" textLength="19.50" lengthAdjust="spacingAndGlyphs" >-1000</text>
<text x="222.31" y="128.24" font-family='"Liberation Serif", serif' font-weight="bold" font-size="9.2" fill="#111" stroke="#111" stroke-width="0.22" textLength="15.00" lengthAdjust="spacingAndGlyphs" >-0.6</text>
<text x="242.92" y="128.24" font-family='"Liberation Serif", serif' font-weight="bold" font-size="9.2" fill="#111" stroke="#111" stroke-width="0.22" textLength="15.00" lengthAdjust="spacingAndGlyphs" >-0.5</text>
<text x="263.54" y="128.24" font-family='"Liberation Serif", serif' font-weight="bold" font-size="9.2" fill="#111" stroke="#111" stroke-width="0.22" textLength="15.00" lengthAdjust="spacingAndGlyphs" >-0.4</text>
<text x="284.15" y="128.24" font-family='"Liberation Serif", serif' font-weight="bold" font-size="9.2" fill="#111" stroke="#111" stroke-width="0.22" textLength="15.00" lengthAdjust="spacingAndGlyphs" >-0.3</text>
<text x="304.77" y="128.24" font-family='"Liberation Serif", serif' font-weight="bold" font-size="9.2" fill="#111" stroke="#111" stroke-width="0.22" textLength="15.00" lengthAdjust="spacingAndGlyphs" >-0.2</text>
<text x="325.38" y="128.24" font-family='"Liberation Serif", serif' font-weight="bold" font-size="9.2" fill="#111" stroke="#111" stroke-width="0.22" textLength="15.00" lengthAdjust="spacingAndGlyphs" >-0.1</text>
<text x="349.00" y="128.24" font-family='"Liberation Serif", serif' font-weight="bold" font-size="9.2" fill="#111" stroke="#111" stroke-width="0.22" textLength="12.00" lengthAdjust="spacingAndGlyphs" >0.0</text>
<text x="251.00" y="139.79" font-family='"Liberation Serif", serif' font-weight="bold" font-size="13" fill="#111" stroke="#111" stroke-width="0.22" textLength="74.00" lengthAdjust="spacingAndGlyphs" >E  (V vs RHE)</text>
<text transform="translate(200.32,92.20) rotate(-90)" x="0" y="0" font-family='"Liberation Serif", serif' font-weight="bold" font-size="12.5" fill="#111" stroke="#111" stroke-width="0.22" textLength="56.80" lengthAdjust="spacingAndGlyphs">j <tspan font-size="9">(</tspan>mA cm<tspan font-size="8" dy="-4.5">-2</tspan><tspan dy="4.5" font-size="9">)</tspan></text>
<text x="325.30" y="30.11" font-family='"Liberation Serif", serif' font-weight="bold" font-size="7" fill="#111" stroke="#111" stroke-width="0.22" textLength="21.90" lengthAdjust="spacingAndGlyphs" >151 mV</text>
<text x="301.30" y="62.91" font-family='"Liberation Serif", serif' font-weight="bold" font-size="7" fill="#111" stroke="#111" stroke-width="0.22" textLength="22.60" lengthAdjust="spacingAndGlyphs" >286 mV</text>
<text x="283.10" y="115.31" font-family='"Liberation Serif", serif' font-weight="bold" font-size="7" fill="#111" stroke="#111" stroke-width="0.22" textLength="22.90" lengthAdjust="spacingAndGlyphs" >381 mV</text>
<circle cx="300.30" cy="75.20" r="1.65" fill="#151515"/>
<text x="304.60" y="77.31" font-family='"Liberation Serif", serif' font-weight="bold" font-size="6.4" fill="#111" stroke="#111" stroke-width="0.22" textLength="7.50" lengthAdjust="spacingAndGlyphs" >NF</text>
<circle cx="300.30" cy="83.00" r="1.65" fill="#86e04c"/>
<text x="304.60" y="85.11" font-family='"Liberation Serif", serif' font-weight="bold" font-size="6.4" fill="#111" stroke="#111" stroke-width="0.22" textLength="22.00" lengthAdjust="spacingAndGlyphs" >Pt/C/NF</text>
<circle cx="300.30" cy="90.90" r="1.65" fill="#2c1fc4"/>
<text x="304.60" y="93.01" font-family='"Liberation Serif", serif' font-weight="bold" font-size="6.4" fill="#111" stroke="#111" stroke-width="0.22" textLength="41.00" lengthAdjust="spacingAndGlyphs" >NiCo LDH/NF</text>
<circle cx="300.30" cy="98.80" r="1.65" fill="#b42ad2"/>
<text x="304.60" y="100.91" font-family='"Liberation Serif", serif' font-weight="bold" font-size="6.4" fill="#111" stroke="#111" stroke-width="0.22" textLength="49.80" lengthAdjust="spacingAndGlyphs" >PA-NiCo LDH/NF</text>
<circle cx="300.30" cy="106.60" r="1.65" fill="#a52a2a"/>
<text x="304.60" y="108.71" font-family='"Liberation Serif", serif' font-weight="bold" font-size="6.4" fill="#111" stroke="#111" stroke-width="0.22" textLength="44.00" lengthAdjust="spacingAndGlyphs" >A-NiCo LDH/NF</text>
<text x="188.50" y="20.10" font-family='"Liberation Serif", serif' font-weight="bold" font-size="19" fill="#111" textLength="22.90" lengthAdjust="spacingAndGlyphs">(b)</text>
<line x1="426.50" y1="120.20" x2="516.00" y2="105.80" stroke="#7ad64a" stroke-width="1.6" />
<circle cx="428.50" cy="119.60" r="1.8" fill="#8de05a"/>
<circle cx="438.22" cy="118.07" r="1.8" fill="#8de05a"/>
<circle cx="447.94" cy="116.53" r="1.8" fill="#8de05a"/>
<circle cx="457.67" cy="115.00" r="1.8" fill="#8de05a"/>
<circle cx="467.39" cy="113.47" r="1.8" fill="#8de05a"/>
<circle cx="477.11" cy="111.93" r="1.8" fill="#8de05a"/>
<circle cx="486.83" cy="110.40" r="1.8" fill="#8de05a"/>
<circle cx="496.56" cy="108.87" r="1.8" fill="#8de05a"/>
<circle cx="506.28" cy="107.33" r="1.8" fill="#8de05a"/>
<circle cx="516.00" cy="105.80" r="1.8" fill="#8de05a"/>
<circle cx="426.00" cy="119.30" r="1.75" fill="#a0442c"/>
<circle cx="437.50" cy="117.40" r="1.75" fill="#a0442c"/>
<circle cx="448.50" cy="115.50" r="1.75" fill="#a0442c"/>
<circle cx="459.50" cy="113.70" r="1.75" fill="#a0442c"/>
<circle cx="470.50" cy="111.80" r="1.75" fill="#a0442c"/>
<circle cx="481.50" cy="110.00" r="1.75" fill="#a0442c"/>
<circle cx="492.50" cy="108.20" r="1.75" fill="#a0442c"/>
<circle cx="503.30" cy="106.60" r="1.75" fill="#a0442c"/>
<line x1="426.00" y1="119.30" x2="503.30" y2="106.60" stroke="#a0442c" stroke-width="0.6" />
<line x1="424.00" y1="107.50" x2="495.40" y2="87.10" stroke="#b02ad0" stroke-width="1.5" />
<circle cx="424.00" cy="107.50" r="1.8" fill="#b535d5"/>
<circle cx="432.93" cy="104.95" r="1.8" fill="#b535d5"/>
<circle cx="441.85" cy="102.40" r="1.8" fill="#b535d5"/>
<circle cx="450.77" cy="99.85" r="1.8" fill="#b535d5"/>
<circle cx="459.70" cy="97.30" r="1.8" fill="#b535d5"/>
<circle cx="468.62" cy="94.75" r="1.8" fill="#b535d5"/>
<circle cx="477.55" cy="92.20" r="1.8" fill="#b535d5"/>
<circle cx="486.47" cy="89.65" r="1.8" fill="#b535d5"/>
<circle cx="495.40" cy="87.10" r="1.8" fill="#b535d5"/>
<line x1="423.50" y1="64.50" x2="491.70" y2="50.30" stroke="#2b22c0" stroke-width="1.5" />
<circle cx="423.50" cy="64.50" r="1.8" fill="#2b22c0"/>
<circle cx="434.87" cy="62.13" r="1.8" fill="#2b22c0"/>
<circle cx="446.23" cy="59.77" r="1.8" fill="#2b22c0"/>
<circle cx="457.60" cy="57.40" r="1.8" fill="#2b22c0"/>
<circle cx="468.97" cy="55.03" r="1.8" fill="#2b22c0"/>
<circle cx="480.33" cy="52.67" r="1.8" fill="#2b22c0"/>
<circle cx="491.70" cy="50.30" r="1.8" fill="#2b22c0"/>
<line x1="427.00" y1="117.00" x2="433.80" y2="111.50" stroke="#333" stroke-width="0.8" />
<line x1="507.00" y1="105.00" x2="512.00" y2="96.00" stroke="#2a5a2a" stroke-width="0.8" />
<rect x="400" y="10.5" width="139.00" height="110.70" fill="none" stroke="#3a3a3a" stroke-width="1.3"/>
<line x1="400.00" y1="121.00" x2="403.00" y2="121.00" stroke="#3a3a3a" stroke-width="1" />
<line x1="400.00" y1="111.83" x2="401.80" y2="111.83" stroke="#3a3a3a" stroke-width="1" />
<line x1="400.00" y1="102.67" x2="403.00" y2="102.67" stroke="#3a3a3a" stroke-width="1" />
<line x1="400.00" y1="93.50" x2="401.80" y2="93.50" stroke="#3a3a3a" stroke-width="1" />
<line x1="400.00" y1="84.33" x2="403.00" y2="84.33" stroke="#3a3a3a" stroke-width="1" />
<line x1="400.00" y1="75.17" x2="401.80" y2="75.17" stroke="#3a3a3a" stroke-width="1" />
<line x1="400.00" y1="66.00" x2="403.00" y2="66.00" stroke="#3a3a3a" stroke-width="1" />
<line x1="400.00" y1="56.83" x2="401.80" y2="56.83" stroke="#3a3a3a" stroke-width="1" />
<line x1="400.00" y1="47.67" x2="403.00" y2="47.67" stroke="#3a3a3a" stroke-width="1" />
<line x1="400.00" y1="38.50" x2="401.80" y2="38.50" stroke="#3a3a3a" stroke-width="1" />
<line x1="400.00" y1="29.33" x2="403.00" y2="29.33" stroke="#3a3a3a" stroke-width="1" />
<line x1="400.00" y1="20.17" x2="401.80" y2="20.17" stroke="#3a3a3a" stroke-width="1" />
<line x1="400.00" y1="11.00" x2="403.00" y2="11.00" stroke="#3a3a3a" stroke-width="1" />
<line x1="415.00" y1="121.20" x2="415.00" y2="118.20" stroke="#3a3a3a" stroke-width="1" />
<line x1="430.70" y1="121.20" x2="430.70" y2="119.40" stroke="#3a3a3a" stroke-width="1" />
<line x1="446.40" y1="121.20" x2="446.40" y2="118.20" stroke="#3a3a3a" stroke-width="1" />
<line x1="462.10" y1="121.20" x2="462.10" y2="119.40" stroke="#3a3a3a" stroke-width="1" />
<line x1="477.80" y1="121.20" x2="477.80" y2="118.20" stroke="#3a3a3a" stroke-width="1" />
<line x1="493.50" y1="121.20" x2="493.50" y2="119.40" stroke="#3a3a3a" stroke-width="1" />
<line x1="509.20" y1="121.20" x2="509.20" y2="118.20" stroke="#3a3a3a" stroke-width="1" />
<line x1="524.90" y1="121.20" x2="524.90" y2="119.40" stroke="#3a3a3a" stroke-width="1" />
<line x1="540.60" y1="121.20" x2="540.60" y2="118.20" stroke="#3a3a3a" stroke-width="1" />
<text x="380.20" y="124.34" font-family='"Liberation Serif", serif' font-weight="bold" font-size="9.5" fill="#111" stroke="#111" stroke-width="0.22" textLength="17.30" lengthAdjust="spacingAndGlyphs" >0.00</text>
<text x="380.20" y="106.00" font-family='"Liberation Serif", serif' font-weight="bold" font-size="9.5" fill="#111" stroke="#111" stroke-width="0.22" textLength="17.30" lengthAdjust="spacingAndGlyphs" >0.04</text>
<text x="380.20" y="87.67" font-family='"Liberation Serif", serif' font-weight="bold" font-size="9.5" fill="#111" stroke="#111" stroke-width="0.22" textLength="17.30" lengthAdjust="spacingAndGlyphs" >0.08</text>
<text x="380.20" y="69.34" font-family='"Liberation Serif", serif' font-weight="bold" font-size="9.5" fill="#111" stroke="#111" stroke-width="0.22" textLength="17.30" lengthAdjust="spacingAndGlyphs" >0.12</text>
<text x="380.20" y="51.00" font-family='"Liberation Serif", serif' font-weight="bold" font-size="9.5" fill="#111" stroke="#111" stroke-width="0.22" textLength="17.30" lengthAdjust="spacingAndGlyphs" >0.16</text>
<text x="380.20" y="32.67" font-family='"Liberation Serif", serif' font-weight="bold" font-size="9.5" fill="#111" stroke="#111" stroke-width="0.22" textLength="17.30" lengthAdjust="spacingAndGlyphs" >0.20</text>
<text x="380.20" y="14.33" font-family='"Liberation Serif", serif' font-weight="bold" font-size="9.5" fill="#111" stroke="#111" stroke-width="0.22" textLength="17.30" lengthAdjust="spacingAndGlyphs" >0.24</text>
<text x="409.00" y="131.33" font-family='"Liberation Serif", serif' font-weight="bold" font-size="9.5" fill="#111" stroke="#111" stroke-width="0.22" textLength="12.00" lengthAdjust="spacingAndGlyphs" >0.6</text>
<text x="440.40" y="131.33" font-family='"Liberation Serif", serif' font-weight="bold" font-size="9.5" fill="#111" stroke="#111" stroke-width="0.22" textLength="12.00" lengthAdjust="spacingAndGlyphs" >0.8</text>
<text x="471.80" y="131.33" font-family='"Liberation Serif", serif' font-weight="bold" font-size="9.5" fill="#111" stroke="#111" stroke-width="0.22" textLength="12.00" lengthAdjust="spacingAndGlyphs" >1.0</text>
<text x="503.20" y="131.33" font-family='"Liberation Serif", serif' font-weight="bold" font-size="9.5" fill="#111" stroke="#111" stroke-width="0.22" textLength="12.00" lengthAdjust="spacingAndGlyphs" >1.2</text>
<text x="534.60" y="131.33" font-family='"Liberation Serif", serif' font-weight="bold" font-size="9.5" fill="#111" stroke="#111" stroke-width="0.22" textLength="12.00" lengthAdjust="spacingAndGlyphs" >1.4</text>
<text transform="translate(377.65,103.70) rotate(-90)" x="0" y="0" font-family='"Liberation Serif", serif' font-weight="bold" font-size="13.5" fill="#111" stroke="#111" stroke-width="0.22" textLength="76.70" lengthAdjust="spacingAndGlyphs">E  (V vs RHE)</text>
<text x="430.80" y="142.62" font-family='"Liberation Serif", serif' font-weight="bold" font-size="12.5" fill="#111" stroke="#111" stroke-width="0.22" textLength="80.00" lengthAdjust="spacingAndGlyphs" >log<tspan font-size="10">[</tspan>j <tspan font-size="8">(</tspan>mA cm<tspan font-size="8" dy="-5">-2</tspan><tspan dy="5" font-size="8">)</tspan><tspan font-size="10">]</tspan></text>
<circle cx="406.20" cy="17.40" r="1.7" fill="#8de05a"/>
<text x="411.60" y="19.97" font-family='"Liberation Serif", serif' font-weight="bold" font-size="7.8" fill="#111" stroke="#111" stroke-width="0.22" textLength="26.20" lengthAdjust="spacingAndGlyphs" >Pt/C/NF</text>
<circle cx="406.20" cy="26.80" r="1.7" fill="#2b22c0"/>
<text x="411.60" y="29.37" font-family='"Liberation Serif", serif' font-weight="bold" font-size="7.8" fill="#111" stroke="#111" stroke-width="0.22" textLength="44.50" lengthAdjust="spacingAndGlyphs" >NiCo LDH/NF</text>
<circle cx="406.20" cy="35.50" r="1.7" fill="#b535d5"/>
<text x="411.60" y="38.07" font-family='"Liberation Serif", serif' font-weight="bold" font-size="7.8" fill="#111" stroke="#111" stroke-width="0.22" textLength="58.20" lengthAdjust="spacingAndGlyphs" >PA-NiCo LDH/NF</text>
<circle cx="406.20" cy="44.30" r="1.7" fill="#a0442c"/>
<text x="411.60" y="46.87" font-family='"Liberation Serif", serif' font-weight="bold" font-size="7.8" fill="#111" stroke="#111" stroke-width="0.22" textLength="53.50" lengthAdjust="spacingAndGlyphs" >A-NiCo LDH/NF</text>
<text x="493.00" y="47.44" font-family='"Liberation Serif", serif' font-weight="bold" font-size="7.4" fill="#111" stroke="#111" stroke-width="0.22" textLength="33.00" lengthAdjust="spacingAndGlyphs" >70mV dec<tspan font-size="5" dy="-3">-1</tspan></text>
<text x="458.00" y="85.94" font-family='"Liberation Serif", serif' font-weight="bold" font-size="7.4" fill="#111" stroke="#111" stroke-width="0.22" textLength="39.00" lengthAdjust="spacingAndGlyphs" >94 mV dec<tspan font-size="5" dy="-3">-1</tspan></text>
<text x="499.60" y="95.04" font-family='"Liberation Serif", serif' font-weight="bold" font-size="7.4" fill="#111" stroke="#111" stroke-width="0.22" textLength="36.80" lengthAdjust="spacingAndGlyphs" >57 mV dec<tspan font-size="5" dy="-3">-1</tspan></text>
<text x="434.50" y="111.74" font-family='"Liberation Serif", serif' font-weight="bold" font-size="7.4" fill="#111" stroke="#111" stroke-width="0.22" textLength="36.90" lengthAdjust="spacingAndGlyphs" >57 mV dec<tspan font-size="5" dy="-3">-1</tspan></text>
<text x="357.20" y="20.10" font-family='"Liberation Serif", serif' font-weight="bold" font-size="19" fill="#111" textLength="21.00" lengthAdjust="spacingAndGlyphs">(c)</text>
<polyline points="48.40,156.90 49.28,156.57 50.42,156.13 51.77,155.61 53.29,155.03 54.93,154.42 56.62,153.81 58.33,153.23 60.00,152.70 61.67,152.21 63.42,151.72 65.22,151.23 67.06,150.76 68.93,150.30 70.80,149.87 72.66,149.46 74.50,149.10 76.28,148.77 78.00,148.48 79.69,148.21 81.40,147.97 83.16,147.75 85.00,147.55 86.97,147.37 89.10,147.20 91.35,147.05 93.67,146.93 96.08,146.83 98.59,146.74 101.22,146.67 103.99,146.61 106.91,146.56 110.00,146.50 113.27,146.45 116.72,146.41 120.32,146.38 124.06,146.36 127.91,146.34 131.86,146.32 135.90,146.31 140.00,146.30 144.46,146.29 149.42,146.29 154.64,146.29 159.88,146.29 164.87,146.29 169.39,146.30 173.18,146.30 176.00,146.30" fill="none" stroke="#2eb82e" stroke-width="1.6" stroke-linejoin="round" stroke-linecap="round" />
<polyline points="63.30,247.00 63.47,245.87 63.70,244.36 63.97,242.57 64.27,240.58 64.59,238.48 64.91,236.36 65.21,234.30 65.50,232.40 65.76,230.61 66.02,228.84 66.26,227.08 66.51,225.33 66.77,223.57 67.03,221.82 67.30,220.06 67.60,218.30 67.90,216.53 68.21,214.75 68.52,212.98 68.84,211.20 69.19,209.42 69.56,207.65 69.96,205.87 70.40,204.10 70.89,202.32 71.41,200.51 71.98,198.70 72.56,196.89 73.17,195.11 73.78,193.35 74.39,191.65 75.00,190.00 75.61,188.40 76.23,186.84 76.87,185.31 77.51,183.82 78.14,182.37 78.78,180.96 79.40,179.61 80.00,178.30 80.58,177.06 81.15,175.88 81.70,174.75 82.25,173.67 82.80,172.61 83.35,171.58 83.92,170.54 84.50,169.50 85.09,168.45 85.69,167.41 86.30,166.38 86.91,165.36 87.54,164.36 88.17,163.38 88.83,162.43 89.50,161.50 90.19,160.59 90.91,159.68 91.64,158.80 92.38,157.93 93.13,157.10 93.89,156.31 94.65,155.58 95.40,154.90 96.13,154.30 96.82,153.76 97.50,153.29 98.19,152.85 98.92,152.44 99.70,152.04 100.55,151.63 101.50,151.20 102.56,150.74 103.71,150.27 104.94,149.80 106.22,149.33 107.54,148.89 108.87,148.47 110.20,148.11 111.50,147.80 112.78,147.56 114.05,147.37 115.33,147.22 116.62,147.11 117.93,147.03 119.26,146.95 120.61,146.88 122.00,146.80 123.22,146.72 124.19,146.65 125.07,146.59 126.03,146.54 127.24,146.50 128.86,146.46 131.05,146.43 134.00,146.40 138.10,146.37 143.38,146.35 149.40,146.34 155.75,146.33 162.01,146.32 167.75,146.31 172.55,146.31 176.00,146.30" fill="none" stroke="#6ee8e0" stroke-width="1.6" stroke-linejoin="round" stroke-linecap="round" />
<polyline points="64.30,247.00 64.45,245.87 64.64,244.36 64.86,242.57 65.12,240.58 65.39,238.48 65.67,236.36 65.94,234.30 66.20,232.40 66.45,230.61 66.69,228.84 66.93,227.08 67.17,225.33 67.43,223.57 67.70,221.82 67.99,220.06 68.30,218.30 68.63,216.53 68.96,214.75 69.30,212.98 69.66,211.20 70.05,209.42 70.46,207.65 70.91,205.87 71.40,204.10 71.94,202.32 72.54,200.51 73.18,198.70 73.85,196.89 74.53,195.11 75.21,193.35 75.87,191.65 76.50,190.00 77.11,188.41 77.72,186.85 78.33,185.34 78.93,183.86 79.52,182.41 80.10,181.01 80.66,179.64 81.20,178.30 81.71,177.00 82.19,175.75 82.65,174.53 83.10,173.34 83.55,172.19 84.01,171.07 84.49,169.97 85.00,168.90 85.54,167.86 86.09,166.85 86.65,165.87 87.23,164.93 87.82,164.00 88.43,163.09 89.06,162.19 89.70,161.30 90.37,160.41 91.06,159.51 91.77,158.62 92.49,157.74 93.23,156.90 93.96,156.11 94.69,155.37 95.40,154.70 96.08,154.11 96.71,153.60 97.32,153.16 97.94,152.75 98.59,152.37 99.30,152.00 100.09,151.61 101.00,151.20 102.02,150.75 103.14,150.29 104.34,149.81 105.61,149.34 106.91,148.89 108.24,148.48 109.58,148.11 110.90,147.80 112.22,147.56 113.57,147.37 114.94,147.22 116.32,147.11 117.72,147.03 119.13,146.95 120.56,146.88 122.00,146.80 123.25,146.72 124.23,146.65 125.12,146.59 126.07,146.54 127.26,146.50 128.87,146.46 131.06,146.43 134.00,146.40 138.10,146.37 143.38,146.35 149.40,146.34 155.75,146.33 162.01,146.32 167.75,146.31 172.55,146.31 176.00,146.30" fill="none" stroke="#e8203c" stroke-width="1.6" stroke-linejoin="round" stroke-linecap="round" />
<polyline points="69.00,247.00 69.11,245.87 69.24,244.36 69.40,242.57 69.59,240.58 69.78,238.48 69.99,236.36 70.20,234.30 70.40,232.40 70.60,230.61 70.80,228.84 71.00,227.08 71.21,225.33 71.43,223.57 71.66,221.82 71.92,220.06 72.20,218.30 72.50,216.53 72.82,214.75 73.16,212.98 73.52,211.20 73.89,209.42 74.28,207.65 74.68,205.87 75.10,204.10 75.54,202.32 76.00,200.53 76.48,198.74 76.98,196.95 77.48,195.17 77.99,193.42 78.50,191.69 79.00,190.00 79.50,188.33 80.02,186.65 80.54,184.98 81.06,183.35 81.58,181.76 82.09,180.23 82.60,178.77 83.10,177.40 83.58,176.13 84.05,174.94 84.51,173.83 84.96,172.78 85.42,171.77 85.89,170.80 86.38,169.84 86.90,168.90 87.44,167.98 87.99,167.11 88.56,166.27 89.14,165.46 89.73,164.66 90.34,163.88 90.96,163.09 91.60,162.30 92.25,161.49 92.91,160.68 93.59,159.86 94.28,159.05 94.99,158.26 95.71,157.50 96.45,156.78 97.20,156.10 97.95,155.48 98.70,154.90 99.44,154.36 100.21,153.84 101.02,153.35 101.87,152.87 102.80,152.39 103.80,151.90 104.90,151.40 106.08,150.88 107.33,150.37 108.62,149.87 109.96,149.39 111.31,148.94 112.66,148.54 114.00,148.20 115.34,147.92 116.69,147.69 118.07,147.50 119.45,147.35 120.84,147.22 122.23,147.11 123.62,147.01 125.00,146.90 126.18,146.80 127.07,146.71 127.85,146.64 128.69,146.58 129.75,146.52 131.21,146.48 133.24,146.44 136.00,146.40 139.89,146.37 144.90,146.34 150.63,146.33 156.69,146.32 162.66,146.31 168.13,146.31 172.72,146.30 176.00,146.30" fill="none" stroke="#8a9a10" stroke-width="1.6" stroke-linejoin="round" stroke-linecap="round" />
<polyline points="72.80,247.00 72.95,245.87 73.14,244.36 73.36,242.57 73.62,240.58 73.89,238.48 74.17,236.36 74.44,234.30 74.70,232.40 74.95,230.61 75.21,228.84 75.47,227.08 75.74,225.33 76.00,223.57 76.27,221.82 76.54,220.06 76.80,218.30 77.05,216.53 77.29,214.75 77.52,212.98 77.76,211.20 78.00,209.42 78.27,207.65 78.57,205.87 78.90,204.10 79.27,202.32 79.68,200.51 80.10,198.70 80.56,196.89 81.03,195.11 81.51,193.35 82.00,191.65 82.50,190.00 83.01,188.41 83.54,186.85 84.08,185.34 84.63,183.86 85.19,182.41 85.76,181.01 86.33,179.64 86.90,178.30 87.47,177.00 88.05,175.72 88.64,174.48 89.23,173.28 89.82,172.12 90.42,171.00 91.01,169.93 91.60,168.90 92.19,167.93 92.77,167.00 93.36,166.12 93.95,165.28 94.54,164.48 95.12,163.72 95.71,163.00 96.30,162.30 96.87,161.65 97.43,161.07 97.98,160.52 98.53,160.01 99.10,159.52 99.69,159.03 100.32,158.53 101.00,158.00 101.73,157.45 102.51,156.88 103.32,156.31 104.16,155.74 105.02,155.17 105.88,154.62 106.75,154.10 107.60,153.60 108.44,153.13 109.28,152.67 110.12,152.24 110.96,151.82 111.82,151.42 112.69,151.03 113.58,150.66 114.50,150.30 115.42,149.96 116.32,149.63 117.22,149.32 118.15,149.03 119.12,148.75 120.16,148.49 121.28,148.24 122.50,148.00 123.65,147.77 124.64,147.56 125.61,147.36 126.69,147.18 128.03,147.00 129.77,146.85 132.04,146.72 135.00,146.60 139.04,146.51 144.21,146.44 150.09,146.39 156.28,146.36 162.38,146.34 167.96,146.33 172.64,146.32 176.00,146.30" fill="none" stroke="#111" stroke-width="1.6" stroke-linejoin="round" stroke-linecap="round" />
<polyline points="46.40,247.00 46.72,245.87 47.15,244.36 47.66,242.57 48.23,240.58 48.83,238.48 49.44,236.36 50.04,234.30 50.60,232.40 51.12,230.61 51.64,228.84 52.15,227.08 52.66,225.33 53.19,223.57 53.73,221.82 54.30,220.06 54.90,218.30 55.52,216.53 56.16,214.75 56.82,212.98 57.50,211.20 58.20,209.42 58.94,207.65 59.70,205.87 60.50,204.10 61.33,202.33 62.20,200.56 63.09,198.78 64.01,197.01 64.96,195.25 65.95,193.49 66.96,191.74 68.00,190.00 69.10,188.23 70.26,186.41 71.46,184.58 72.69,182.76 73.92,181.00 75.13,179.33 76.30,177.79 77.40,176.40 78.44,175.19 79.43,174.12 80.39,173.17 81.32,172.32 82.24,171.53 83.15,170.78 84.07,170.05 85.00,169.30 85.95,168.56 86.90,167.87 87.86,167.22 88.81,166.59 89.76,165.99 90.69,165.39 91.61,164.80 92.50,164.20 93.36,163.60 94.17,163.00 94.96,162.42 95.74,161.84 96.53,161.27 97.34,160.70 98.19,160.15 99.10,159.60 100.08,159.05 101.12,158.51 102.20,157.96 103.30,157.43 104.41,156.91 105.51,156.41 106.58,155.94 107.60,155.50 108.56,155.10 109.45,154.74 110.32,154.41 111.17,154.09 112.05,153.79 112.96,153.48 113.93,153.15 115.00,152.80 116.16,152.42 117.38,152.02 118.66,151.61 119.99,151.19 121.35,150.78 122.73,150.37 124.11,149.97 125.50,149.60 126.89,149.23 128.29,148.86 129.71,148.49 131.15,148.14 132.61,147.80 134.08,147.50 135.58,147.23 137.10,147.00 138.56,146.83 139.93,146.70 141.27,146.61 142.65,146.54 144.15,146.50 145.82,146.47 147.75,146.44 150.00,146.40 152.80,146.36 156.19,146.34 159.93,146.32 163.81,146.31 167.58,146.31 171.02,146.31 173.90,146.30 176.00,146.30" fill="none" stroke="#6a1ee0" stroke-width="1.6" stroke-linejoin="round" stroke-linecap="round" />
<rect x="40.3" y="146.3" width="136.00" height="101.00" fill="none" stroke="#111" stroke-width="1.4"/>
<line x1="40.30" y1="146.30" x2="37.30" y2="146.30" stroke="#111" stroke-width="1" />
<line x1="40.30" y1="154.72" x2="38.50" y2="154.72" stroke="#111" stroke-width="1" />
<line x1="40.30" y1="163.13" x2="37.30" y2="163.13" stroke="#111" stroke-width="1" />
<line x1="40.30" y1="171.55" x2="38.50" y2="171.55" stroke="#111" stroke-width="1" />
<line x1="40.30" y1="179.97" x2="37.30" y2="179.97" stroke="#111" stroke-width="1" />
<line x1="40.30" y1="188.38" x2="38.50" y2="188.38" stroke="#111" stroke-width="1" />
<line x1="40.30" y1="196.80" x2="37.30" y2="196.80" stroke="#111" stroke-width="1" />
<line x1="40.30" y1="205.22" x2="38.50" y2="205.22" stroke="#111" stroke-width="1" />
<line x1="40.30" y1="213.63" x2="37.30" y2="213.63" stroke="#111" stroke-width="1" />
<line x1="40.30" y1="222.05" x2="38.50" y2="222.05" stroke="#111" stroke-width="1" />
<line x1="40.30" y1="230.47" x2="37.30" y2="230.47" stroke="#111" stroke-width="1" />
<line x1="40.30" y1="238.88" x2="38.50" y2="238.88" stroke="#111" stroke-width="1" />
<line x1="40.30" y1="247.30" x2="37.30" y2="247.30" stroke="#111" stroke-width="1" />
<line x1="49.10" y1="247.30" x2="49.10" y2="250.30" stroke="#111" stroke-width="1" />
<line x1="70.30" y1="247.30" x2="70.30" y2="249.10" stroke="#111" stroke-width="1" />
<line x1="91.50" y1="247.30" x2="91.50" y2="250.30" stroke="#111" stroke-width="1" />
<line x1="112.70" y1="247.30" x2="112.70" y2="249.10" stroke="#111" stroke-width="1" />
<line x1="133.90" y1="247.30" x2="133.90" y2="250.30" stroke="#111" stroke-width="1" />
<line x1="155.10" y1="247.30" x2="155.10" y2="249.10" stroke="#111" stroke-width="1" />
<line x1="176.30" y1="247.30" x2="176.30" y2="250.30" stroke="#111" stroke-width="1" />
<text x="32.30" y="149.44" font-family='"Liberation Serif", serif' font-weight="bold" font-size="8.6" fill="#111" stroke="#111" stroke-width="0.22" textLength="4.50" lengthAdjust="spacingAndGlyphs" >0</text>
<text x="26.00" y="166.27" font-family='"Liberation Serif", serif' font-weight="bold" font-size="8.6" fill="#111" stroke="#111" stroke-width="0.22" textLength="10.80" lengthAdjust="spacingAndGlyphs" >-20</text>
<text x="26.00" y="183.10" font-family='"Liberation Serif", serif' font-weight="bold" font-size="8.6" fill="#111" stroke="#111" stroke-width="0.22" textLength="10.80" lengthAdjust="spacingAndGlyphs" >-40</text>
<text x="26.00" y="199.94" font-family='"Liberation Serif", serif' font-weight="bold" font-size="8.6" fill="#111" stroke="#111" stroke-width="0.22" textLength="10.80" lengthAdjust="spacingAndGlyphs" >-60</text>
<text x="26.00" y="216.77" font-family='"Liberation Serif", serif' font-weight="bold" font-size="8.6" fill="#111" stroke="#111" stroke-width="0.22" textLength="10.80" lengthAdjust="spacingAndGlyphs" >-80</text>
<text x="21.60" y="233.60" font-family='"Liberation Serif", serif' font-weight="bold" font-size="8.6" fill="#111" stroke="#111" stroke-width="0.22" textLength="15.20" lengthAdjust="spacingAndGlyphs" >-100</text>
<text x="21.60" y="250.44" font-family='"Liberation Serif", serif' font-weight="bold" font-size="8.6" fill="#111" stroke="#111" stroke-width="0.22" textLength="15.20" lengthAdjust="spacingAndGlyphs" >-120</text>
<text x="41.05" y="257.84" font-family='"Liberation Serif", serif' font-weight="bold" font-size="8.6" fill="#111" stroke="#111" stroke-width="0.22" textLength="13.50" lengthAdjust="spacingAndGlyphs" >-0.2</text>
<text x="83.45" y="257.84" font-family='"Liberation Serif", serif' font-weight="bold" font-size="8.6" fill="#111" stroke="#111" stroke-width="0.22" textLength="13.50" lengthAdjust="spacingAndGlyphs" >-0.1</text>
<text x="128.65" y="257.84" font-family='"Liberation Serif", serif' font-weight="bold" font-size="8.6" fill="#111" stroke="#111" stroke-width="0.22" textLength="10.50" lengthAdjust="spacingAndGlyphs" >0.0</text>
<text x="171.05" y="257.84" font-family='"Liberation Serif", serif' font-weight="bold" font-size="8.6" fill="#111" stroke="#111" stroke-width="0.22" textLength="10.50" lengthAdjust="spacingAndGlyphs" >0.1</text>
<text x="69.30" y="269.13" font-family='"Liberation Serif", serif' font-weight="bold" font-size="9.5" fill="#111" stroke="#111" stroke-width="0.22" textLength="78.80" lengthAdjust="spacingAndGlyphs" >Potential (V vs. RHE)</text>
<text transform="translate(22.74,240.50) rotate(-90)" x="0" y="0" font-family='"Liberation Serif", serif' font-weight="bold" font-size="9.5" fill="#111" stroke="#111" stroke-width="0.22" textLength="94.80" lengthAdjust="spacingAndGlyphs">Current Density (mA/cm<tspan font-size="6" dy="-3.5">2</tspan><tspan dy="3.5">)</tspan></text>
<line x1="114.30" y1="178.20" x2="126.60" y2="178.20" stroke="#e8203c" stroke-width="1.6" />
<text x="129.00" y="180.57" font-family='"Liberation Serif", serif' font-weight="bold" font-size="8.4" fill="#111" stroke="#111" stroke-width="0.22" textLength="44.00" lengthAdjust="spacingAndGlyphs" >Ni<tspan font-size="5.6" dy="2.4">1</tspan><tspan dy="-2.4">Cr</tspan><tspan font-size="5.6" dy="2.4">1</tspan><tspan dy="-2.4">-LDH</tspan></text>
<line x1="114.30" y1="190.80" x2="126.60" y2="190.80" stroke="#111" stroke-width="1.6" />
<text x="129.00" y="193.07" font-family='"Liberation Serif", serif' font-weight="bold" font-size="8.4" fill="#111" stroke="#111" stroke-width="0.22" textLength="44.00" lengthAdjust="spacingAndGlyphs" >Ni<tspan font-size="5.6" dy="2.4">2</tspan><tspan dy="-2.4">Cr</tspan><tspan font-size="5.6" dy="2.4">1</tspan><tspan dy="-2.4">-LDH</tspan></text>
<line x1="114.30" y1="203.80" x2="126.60" y2="203.80" stroke="#8a9a10" stroke-width="1.6" />
<text x="129.00" y="206.37" font-family='"Liberation Serif", serif' font-weight="bold" font-size="8.4" fill="#111" stroke="#111" stroke-width="0.22" textLength="44.20" lengthAdjust="spacingAndGlyphs" >Ni<tspan font-size="5.6" dy="2.4">3</tspan><tspan dy="-2.4">Cr</tspan><tspan font-size="5.6" dy="2.4">1</tspan><tspan dy="-2.4">-LDH</tspan></text>
<line x1="114.30" y1="217.10" x2="126.60" y2="217.10" stroke="#6ee8e0" stroke-width="1.6" />
<text x="129.00" y="219.27" font-family='"Liberation Serif", serif' font-weight="bold" font-size="8.4" fill="#111" stroke="#111" stroke-width="0.22" textLength="44.20" lengthAdjust="spacingAndGlyphs" >Ni<tspan font-size="5.6" dy="2.4">4</tspan><tspan dy="-2.4">Cr</tspan><tspan font-size="5.6" dy="2.4">1</tspan><tspan dy="-2.4">-LDH</tspan></text>
<line x1="114.30" y1="230.20" x2="126.60" y2="230.20" stroke="#6a1ee0" stroke-width="1.6" />
<text x="129.00" y="231.77" font-family='"Liberation Serif", serif' font-weight="bold" font-size="8.4" fill="#111" stroke="#111" stroke-width="0.22" textLength="16.00" lengthAdjust="spacingAndGlyphs" >Pt/C</text>
<line x1="114.30" y1="240.40" x2="126.60" y2="240.40" stroke="#2eb82e" stroke-width="1.6" />
<text x="129.00" y="242.27" font-family='"Liberation Serif", serif' font-weight="bold" font-size="8.4" fill="#111" stroke="#111" stroke-width="0.22" textLength="30.00" lengthAdjust="spacingAndGlyphs" >Bare NF</text>
<text x="4.60" y="140.30" font-family='"Liberation Serif", serif' font-weight="bold" font-size="19" fill="#111" textLength="22.30" lengthAdjust="spacingAndGlyphs">(d)</text>
<polyline points="240.40,159.90 242.70,160.61 245.85,161.53 249.60,162.64 253.70,163.94 257.92,165.40 262.00,167.00 266.33,168.96 271.19,171.35 276.15,173.89 280.81,176.34 284.77,178.43 287.60,179.90" fill="none" stroke="#7a2ad8" stroke-width="1.8" stroke-linejoin="round" stroke-linecap="round" />
<polyline points="240.00,156.30 241.62,157.24 243.84,158.53 246.48,160.06 249.35,161.74 252.25,163.49 255.00,165.20 257.83,167.05 260.94,169.15 264.09,171.31 267.03,173.34 269.51,175.07 271.30,176.30" fill="none" stroke="#6fe3e0" stroke-width="1.8" stroke-linejoin="round" stroke-linecap="round" />
<polyline points="230.90,165.90 232.64,166.90 235.02,168.28 237.86,169.92 240.93,171.67 244.05,173.41 247.00,175.00 250.04,176.55 253.38,178.19 256.76,179.82 259.91,181.32 262.58,182.58 264.50,183.50" fill="none" stroke="#e02040" stroke-width="1.8" stroke-linejoin="round" stroke-linecap="round" />
<polyline points="264.50,183.50 305.20,202.10" fill="none" stroke="#111" stroke-width="1.8" stroke-linejoin="round" stroke-linecap="round" />
<polyline points="305.90,207.20 351.50,227.60" fill="none" stroke="#8a8a10" stroke-width="1.8" stroke-linejoin="round" stroke-linecap="round" />
<polyline points="256.30,223.00 276.40,242.80" fill="none" stroke="#22aa22" stroke-width="1.8" stroke-linejoin="round" stroke-linecap="round" />
<rect x="221" y="149.2" width="141.00" height="104.60" fill="none" stroke="#111" stroke-width="1.4"/>
<line x1="221.00" y1="149.20" x2="218.00" y2="149.20" stroke="#111" stroke-width="1" />
<line x1="221.00" y1="162.27" x2="219.20" y2="162.27" stroke="#111" stroke-width="1" />
<line x1="221.00" y1="175.35" x2="218.00" y2="175.35" stroke="#111" stroke-width="1" />
<line x1="221.00" y1="188.42" x2="219.20" y2="188.42" stroke="#111" stroke-width="1" />
<line x1="221.00" y1="201.50" x2="218.00" y2="201.50" stroke="#111" stroke-width="1" />
<line x1="221.00" y1="214.57" x2="219.20" y2="214.57" stroke="#111" stroke-width="1" />
<line x1="221.00" y1="227.65" x2="218.00" y2="227.65" stroke="#111" stroke-width="1" />
<line x1="221.00" y1="240.73" x2="219.20" y2="240.73" stroke="#111" stroke-width="1" />
<line x1="221.00" y1="253.80" x2="218.00" y2="253.80" stroke="#111" stroke-width="1" />
<line x1="221.00" y1="253.80" x2="221.00" y2="255.60" stroke="#111" stroke-width="1" />
<line x1="230.40" y1="253.80" x2="230.40" y2="256.80" stroke="#111" stroke-width="1" />
<line x1="239.80" y1="253.80" x2="239.80" y2="255.60" stroke="#111" stroke-width="1" />
<line x1="249.20" y1="253.80" x2="249.20" y2="256.80" stroke="#111" stroke-width="1" />
<line x1="258.60" y1="253.80" x2="258.60" y2="255.60" stroke="#111" stroke-width="1" />
<line x1="268.00" y1="253.80" x2="268.00" y2="256.80" stroke="#111" stroke-width="1" />
<line x1="277.40" y1="253.80" x2="277.40" y2="255.60" stroke="#111" stroke-width="1" />
<line x1="286.80" y1="253.80" x2="286.80" y2="256.80" stroke="#111" stroke-width="1" />
<line x1="296.20" y1="253.80" x2="296.20" y2="255.60" stroke="#111" stroke-width="1" />
<line x1="305.60" y1="253.80" x2="305.60" y2="256.80" stroke="#111" stroke-width="1" />
<line x1="315.00" y1="253.80" x2="315.00" y2="255.60" stroke="#111" stroke-width="1" />
<line x1="324.40" y1="253.80" x2="324.40" y2="256.80" stroke="#111" stroke-width="1" />
<line x1="333.80" y1="253.80" x2="333.80" y2="255.60" stroke="#111" stroke-width="1" />
<line x1="343.20" y1="253.80" x2="343.20" y2="256.80" stroke="#111" stroke-width="1" />
<line x1="352.60" y1="253.80" x2="352.60" y2="255.60" stroke="#111" stroke-width="1" />
<line x1="362.00" y1="253.80" x2="362.00" y2="256.80" stroke="#111" stroke-width="1" />
<text x="202.80" y="152.17" font-family='"Liberation Serif", serif' font-weight="bold" font-size="8.4" fill="#111" stroke="#111" stroke-width="0.22" textLength="14.00" lengthAdjust="spacingAndGlyphs" >0.00</text>
<text x="200.60" y="178.32" font-family='"Liberation Serif", serif' font-weight="bold" font-size="8.4" fill="#111" stroke="#111" stroke-width="0.22" textLength="16.20" lengthAdjust="spacingAndGlyphs" >-0.04</text>
<text x="200.60" y="204.47" font-family='"Liberation Serif", serif' font-weight="bold" font-size="8.4" fill="#111" stroke="#111" stroke-width="0.22" textLength="16.20" lengthAdjust="spacingAndGlyphs" >-0.08</text>
<text x="200.60" y="230.62" font-family='"Liberation Serif", serif' font-weight="bold" font-size="8.4" fill="#111" stroke="#111" stroke-width="0.22" textLength="16.20" lengthAdjust="spacingAndGlyphs" >-0.12</text>
<text x="200.60" y="256.77" font-family='"Liberation Serif", serif' font-weight="bold" font-size="8.4" fill="#111" stroke="#111" stroke-width="0.22" textLength="16.20" lengthAdjust="spacingAndGlyphs" >-0.16</text>
<text x="225.10" y="264.77" font-family='"Liberation Serif", serif' font-weight="bold" font-size="8.4" fill="#111" stroke="#111" stroke-width="0.22" textLength="10.60" lengthAdjust="spacingAndGlyphs" >0.2</text>
<text x="243.90" y="264.77" font-family='"Liberation Serif", serif' font-weight="bold" font-size="8.4" fill="#111" stroke="#111" stroke-width="0.22" textLength="10.60" lengthAdjust="spacingAndGlyphs" >0.4</text>
<text x="262.70" y="264.77" font-family='"Liberation Serif", serif' font-weight="bold" font-size="8.4" fill="#111" stroke="#111" stroke-width="0.22" textLength="10.60" lengthAdjust="spacingAndGlyphs" >0.6</text>
<text x="281.50" y="264.77" font-family='"Liberation Serif", serif' font-weight="bold" font-size="8.4" fill="#111" stroke="#111" stroke-width="0.22" textLength="10.60" lengthAdjust="spacingAndGlyphs" >0.8</text>
<text x="300.30" y="264.77" font-family='"Liberation Serif", serif' font-weight="bold" font-size="8.4" fill="#111" stroke="#111" stroke-width="0.22" textLength="10.60" lengthAdjust="spacingAndGlyphs" >1.0</text>
<text x="319.10" y="264.77" font-family='"Liberation Serif", serif' font-weight="bold" font-size="8.4" fill="#111" stroke="#111" stroke-width="0.22" textLength="10.60" lengthAdjust="spacingAndGlyphs" >1.2</text>
<text x="337.90" y="264.77" font-family='"Liberation Serif", serif' font-weight="bold" font-size="8.4" fill="#111" stroke="#111" stroke-width="0.22" textLength="10.60" lengthAdjust="spacingAndGlyphs" >1.4</text>
<text x="356.70" y="264.77" font-family='"Liberation Serif", serif' font-weight="bold" font-size="8.4" fill="#111" stroke="#111" stroke-width="0.22" textLength="10.60" lengthAdjust="spacingAndGlyphs" >1.6</text>
<text x="256.90" y="276.10" font-family='"Liberation Serif", serif' font-weight="bold" font-size="10" fill="#111" stroke="#111" stroke-width="0.22" textLength="70.70" lengthAdjust="spacingAndGlyphs" >log [(j / mA cm<tspan font-size="6" dy="-3.5">2</tspan><tspan dy="3.5">)]</tspan></text>
<text transform="translate(196.44,242.60) rotate(-90)" x="0" y="0" font-family='"Liberation Serif", serif' font-weight="bold" font-size="8.6" fill="#111" stroke="#111" stroke-width="0.22" textLength="82.00" lengthAdjust="spacingAndGlyphs">Potential (V vs. RHE)</text>
<text x="250.00" y="158.74" font-family='"Liberation Serif", serif' font-weight="bold" font-size="8.6" fill="#6fe3e0" stroke="#6fe3e0" stroke-width="0.22" textLength="45.50" lengthAdjust="spacingAndGlyphs" >80.1 mV/dec</text>
<text x="283.00" y="173.14" font-family='"Liberation Serif", serif' font-weight="bold" font-size="8.6" fill="#7a2ad8" stroke="#7a2ad8" stroke-width="0.22" textLength="42.50" lengthAdjust="spacingAndGlyphs" >64.2 mV/dec</text>
<text x="222.70" y="191.84" font-family='"Liberation Serif", serif' font-weight="bold" font-size="8.6" fill="#e02040" stroke="#e02040" stroke-width="0.22" textLength="46.30" lengthAdjust="spacingAndGlyphs" >72.2 mV/dec</text>
<text x="291.80" y="192.04" font-family='"Liberation Serif", serif' font-weight="bold" font-size="8.6" fill="#111" stroke="#111" stroke-width="0.22" textLength="53.20" lengthAdjust="spacingAndGlyphs" >61.5 mV/dec</text>
<text x="234.70" y="222.04" font-family='"Liberation Serif", serif' font-weight="bold" font-size="8.6" fill="#22aa22" stroke="#22aa22" stroke-width="0.22" textLength="50.60" lengthAdjust="spacingAndGlyphs" >136.9 mV/dec</text>
<text x="297.50" y="233.44" font-family='"Liberation Serif", serif' font-weight="bold" font-size="8.6" fill="#8a8a10" stroke="#8a8a10" stroke-width="0.22" textLength="46.30" lengthAdjust="spacingAndGlyphs" >62.2 mV/dec</text>
<text x="178.10" y="145.50" font-family='"Liberation Serif", serif' font-weight="bold" font-size="19" fill="#111" textLength="20.90" lengthAdjust="spacingAndGlyphs">(e)</text>
<polyline points="399.60,257.50 399.60,205.00 400.00,201.00 402.40,199.60 404.50,198.50 406.50,196.60 409.80,195.60 420.00,195.20 450.00,194.60 480.00,194.20 510.00,193.80 540.00,193.30" fill="none" stroke="#e8182c" stroke-width="1.6" stroke-linejoin="round" stroke-linecap="round" />
<rect x="399.2" y="152.6" width="141.30" height="105.20" fill="none" stroke="#111" stroke-width="1.4"/>
<line x1="399.20" y1="152.60" x2="396.20" y2="152.60" stroke="#111" stroke-width="1" />
<line x1="399.20" y1="163.12" x2="397.40" y2="163.12" stroke="#111" stroke-width="1" />
<line x1="399.20" y1="173.64" x2="396.20" y2="173.64" stroke="#111" stroke-width="1" />
<line x1="399.20" y1="184.16" x2="397.40" y2="184.16" stroke="#111" stroke-width="1" />
<line x1="399.20" y1="194.68" x2="396.20" y2="194.68" stroke="#111" stroke-width="1" />
<line x1="399.20" y1="205.20" x2="397.40" y2="205.20" stroke="#111" stroke-width="1" />
<line x1="399.20" y1="215.72" x2="396.20" y2="215.72" stroke="#111" stroke-width="1" />
<line x1="399.20" y1="226.24" x2="397.40" y2="226.24" stroke="#111" stroke-width="1" />
<line x1="399.20" y1="236.76" x2="396.20" y2="236.76" stroke="#111" stroke-width="1" />
<line x1="399.20" y1="247.28" x2="397.40" y2="247.28" stroke="#111" stroke-width="1" />
<line x1="399.20" y1="257.80" x2="396.20" y2="257.80" stroke="#111" stroke-width="1" />
<line x1="399.50" y1="257.80" x2="399.50" y2="260.80" stroke="#111" stroke-width="1" />
<line x1="411.25" y1="257.80" x2="411.25" y2="259.60" stroke="#111" stroke-width="1" />
<line x1="423.00" y1="257.80" x2="423.00" y2="260.80" stroke="#111" stroke-width="1" />
<line x1="434.75" y1="257.80" x2="434.75" y2="259.60" stroke="#111" stroke-width="1" />
<line x1="446.50" y1="257.80" x2="446.50" y2="260.80" stroke="#111" stroke-width="1" />
<line x1="458.25" y1="257.80" x2="458.25" y2="259.60" stroke="#111" stroke-width="1" />
<line x1="470.00" y1="257.80" x2="470.00" y2="260.80" stroke="#111" stroke-width="1" />
<line x1="481.75" y1="257.80" x2="481.75" y2="259.60" stroke="#111" stroke-width="1" />
<line x1="493.50" y1="257.80" x2="493.50" y2="260.80" stroke="#111" stroke-width="1" />
<line x1="505.25" y1="257.80" x2="505.25" y2="259.60" stroke="#111" stroke-width="1" />
<line x1="517.00" y1="257.80" x2="517.00" y2="260.80" stroke="#111" stroke-width="1" />
<line x1="528.75" y1="257.80" x2="528.75" y2="259.60" stroke="#111" stroke-width="1" />
<line x1="540.50" y1="257.80" x2="540.50" y2="260.80" stroke="#111" stroke-width="1" />
<text x="387.40" y="155.64" font-family='"Liberation Serif", serif' font-weight="bold" font-size="8.6" fill="#111" stroke="#111" stroke-width="0.22" textLength="8.20" lengthAdjust="spacingAndGlyphs" >10</text>
<text x="391.40" y="176.68" font-family='"Liberation Serif", serif' font-weight="bold" font-size="8.6" fill="#111" stroke="#111" stroke-width="0.22" textLength="4.20" lengthAdjust="spacingAndGlyphs" >0</text>
<text x="383.10" y="197.72" font-family='"Liberation Serif", serif' font-weight="bold" font-size="8.6" fill="#111" stroke="#111" stroke-width="0.22" textLength="12.50" lengthAdjust="spacingAndGlyphs" >-10</text>
<text x="383.10" y="218.76" font-family='"Liberation Serif", serif' font-weight="bold" font-size="8.6" fill="#111" stroke="#111" stroke-width="0.22" textLength="12.50" lengthAdjust="spacingAndGlyphs" >-20</text>
<text x="383.10" y="239.80" font-family='"Liberation Serif", serif' font-weight="bold" font-size="8.6" fill="#111" stroke="#111" stroke-width="0.22" textLength="12.50" lengthAdjust="spacingAndGlyphs" >-30</text>
<text x="383.10" y="260.84" font-family='"Liberation Serif", serif' font-weight="bold" font-size="8.6" fill="#111" stroke="#111" stroke-width="0.22" textLength="12.50" lengthAdjust="spacingAndGlyphs" >-40</text>
<text x="397.40" y="268.14" font-family='"Liberation Serif", serif' font-weight="bold" font-size="8.6" fill="#111" stroke="#111" stroke-width="0.22" textLength="4.20" lengthAdjust="spacingAndGlyphs" >0</text>
<text x="420.90" y="268.14" font-family='"Liberation Serif", serif' font-weight="bold" font-size="8.6" fill="#111" stroke="#111" stroke-width="0.22" textLength="4.20" lengthAdjust="spacingAndGlyphs" >5</text>
<text x="442.30" y="268.14" font-family='"Liberation Serif", serif' font-weight="bold" font-size="8.6" fill="#111" stroke="#111" stroke-width="0.22" textLength="8.40" lengthAdjust="spacingAndGlyphs" >10</text>
<text x="465.80" y="268.14" font-family='"Liberation Serif", serif' font-weight="bold" font-size="8.6" fill="#111" stroke="#111" stroke-width="0.22" textLength="8.40" lengthAdjust="spacingAndGlyphs" >15</text>
<text x="489.30" y="268.14" font-family='"Liberation Serif", serif' font-weight="bold" font-size="8.6" fill="#111" stroke="#111" stroke-width="0.22" textLength="8.40" lengthAdjust="spacingAndGlyphs" >20</text>
<text x="512.80" y="268.14" font-family='"Liberation Serif", serif' font-weight="bold" font-size="8.6" fill="#111" stroke="#111" stroke-width="0.22" textLength="8.40" lengthAdjust="spacingAndGlyphs" >25</text>
<text x="536.30" y="268.14" font-family='"Liberation Serif", serif' font-weight="bold" font-size="8.6" fill="#111" stroke="#111" stroke-width="0.22" textLength="8.40" lengthAdjust="spacingAndGlyphs" >30</text>
<text x="452.30" y="276.30" font-family='"Liberation Serif", serif' font-weight="bold" font-size="8.8" fill="#111" stroke="#111" stroke-width="0.22" textLength="28.30" lengthAdjust="spacingAndGlyphs" >Time (h)</text>
<text transform="translate(380.70,254.00) rotate(-90)" x="0" y="0" font-family='"Liberation Serif", serif' font-weight="bold" font-size="10" fill="#111" stroke="#111" stroke-width="0.22" textLength="102.80" lengthAdjust="spacingAndGlyphs">Current Density (mA/cm<tspan font-size="6.5" dy="-3.8">2</tspan><tspan dy="3.8">)</tspan></text>
<text x="476.70" y="189.00" font-family='"Liberation Serif", serif' font-weight="bold" font-size="9.4" fill="#e8182c" stroke="#e8182c" stroke-width="0.22" textLength="57.80" lengthAdjust="spacingAndGlyphs" >-0.07 V vs RHE</text>
<text x="364.30" y="147.70" font-family='"Liberation Serif", serif' font-weight="bold" font-size="19" fill="#111" textLength="18.00" lengthAdjust="spacingAndGlyphs">(f)</text>
<line x1="39.40" y1="305.28" x2="176.60" y2="305.28" stroke="#b0307a" stroke-width="1.2" stroke-dasharray="3.2,2.6"/>
<polyline points="81.73,391.27 82.51,386.60 83.29,382.13 84.07,377.86 84.86,373.77 85.64,369.86 86.42,366.12 87.20,362.54 87.98,359.12 88.77,355.85 89.55,352.71 90.33,349.71 91.11,346.85 91.89,344.11 92.68,341.48 93.46,338.97 94.24,336.57 95.02,334.27 95.80,332.08 96.59,329.97 97.37,327.96 98.15,326.04 98.93,324.20 99.71,322.44 100.50,320.75 101.28,319.14 102.06,317.60 102.84,316.13 103.62,314.72 104.41,313.37 105.19,312.08 105.97,310.84 106.75,309.66 107.53,308.53 108.32,307.45 109.10,306.41 109.88,305.43 110.66,304.48 111.45,303.57 112.23,302.71 113.01,301.88 113.79,301.09 114.57,300.33 115.36,299.60 116.14,298.91 116.92,298.25 117.70,297.61 118.48,297.00 119.27,296.42 120.05,295.87 120.83,295.33 121.61,294.83 122.39,294.34 123.18,293.87 123.96,293.43 124.74,293.00 125.52,292.59 126.30,292.20 127.09,291.83 127.87,291.47 128.65,291.13 129.43,290.81 130.21,290.49 131.00,290.20 131.78,289.91 132.56,289.64 133.34,289.37 134.12,289.12 134.91,288.88 135.69,288.66 136.47,288.44 137.25,288.23 138.03,288.03 138.82,287.83 139.60,287.65 140.38,287.48 141.16,287.31 141.94,287.15 142.73,286.99 143.51,286.85 144.29,286.71 145.07,286.57 145.85,286.44 146.64,286.32 147.42,286.20 148.20,286.09 148.98,285.98 149.77,285.88 150.55,285.78 151.33,285.68 152.11,285.59 152.89,285.51 153.68,285.43 154.46,285.35 155.24,285.27 156.02,285.20 156.80,285.13 157.59,285.06 158.37,285.00 159.15,284.94 159.93,284.88 160.71,284.83 161.50,284.77 162.28,284.72 163.06,284.67 163.84,284.63 164.62,284.58 165.41,284.54 166.19,284.50 166.97,284.46 167.75,284.42 168.53,284.39 169.32,284.35 170.10,284.32 170.88,284.29 171.66,284.26 172.44,284.23 173.23,284.20 174.01,284.18 174.79,284.15 175.57,284.13" fill="none" stroke="#111" stroke-width="1.3" stroke-linejoin="round" stroke-linecap="round" />
<polyline points="94.74,391.27 95.42,387.41 96.09,383.69 96.76,380.10 97.44,376.64 98.11,373.30 98.78,370.08 99.46,366.97 100.13,363.98 100.80,361.09 101.48,358.30 102.15,355.62 102.83,353.03 103.50,350.53 104.17,348.12 104.85,345.79 105.52,343.55 106.19,341.39 106.87,339.30 107.54,337.29 108.21,335.35 108.89,333.48 109.56,331.68 110.23,329.94 110.91,328.26 111.58,326.64 112.26,325.08 112.93,323.58 113.60,322.13 114.28,320.73 114.95,319.38 115.62,318.07 116.30,316.82 116.97,315.61 117.64,314.44 118.32,313.31 118.99,312.23 119.67,311.18 120.34,310.17 121.01,309.19 121.69,308.25 122.36,307.35 123.03,306.47 123.71,305.63 124.38,304.82 125.05,304.03 125.73,303.28 126.40,302.55 127.07,301.84 127.75,301.16 128.42,300.51 129.10,299.88 129.77,299.27 130.44,298.68 131.12,298.12 131.79,297.57 132.46,297.05 133.14,296.54 133.81,296.05 134.48,295.58 135.16,295.12 135.83,294.68 136.50,294.26 137.18,293.85 137.85,293.45 138.53,293.07 139.20,292.71 139.87,292.35 140.55,292.01 141.22,291.68 141.89,291.37 142.57,291.06 143.24,290.77 143.91,290.48 144.59,290.21 145.26,289.94 145.93,289.69 146.61,289.44 147.28,289.20 147.96,288.98 148.63,288.75 149.30,288.54 149.98,288.34 150.65,288.14 151.32,287.95 152.00,287.76 152.67,287.59 153.34,287.41 154.02,287.25 154.69,287.09 155.37,286.94 156.04,286.79 156.71,286.65 157.39,286.51 158.06,286.37 158.73,286.25 159.41,286.12 160.08,286.00 160.75,285.89 161.43,285.78 162.10,285.67 162.77,285.57 163.45,285.47 164.12,285.37 164.80,285.28 165.47,285.19 166.14,285.10 166.82,285.02 167.49,284.94 168.16,284.86 168.84,284.79 169.51,284.72 170.18,284.65 170.86,284.58 171.53,284.52 172.20,284.45 172.88,284.39 173.55,284.34 174.23,284.28 174.90,284.23 175.57,284.18" fill="none" stroke="#4a3ea0" stroke-width="1.3" stroke-linejoin="round" stroke-linecap="round" />
<polyline points="111.52,391.27 112.06,388.47 112.59,385.74 113.13,383.08 113.66,380.49 114.19,377.96 114.73,375.49 115.26,373.09 115.79,370.74 116.33,368.46 116.86,366.23 117.40,364.05 117.93,361.93 118.46,359.87 119.00,357.85 119.53,355.88 120.06,353.97 120.60,352.10 121.13,350.28 121.67,348.50 122.20,346.77 122.73,345.08 123.27,343.43 123.80,341.82 124.33,340.26 124.87,338.73 125.40,337.24 125.94,335.79 126.47,334.37 127.00,332.99 127.54,331.64 128.07,330.33 128.60,329.05 129.14,327.80 129.67,326.58 130.21,325.39 130.74,324.24 131.27,323.11 131.81,322.01 132.34,320.93 132.87,319.89 133.41,318.87 133.94,317.87 134.48,316.90 135.01,315.96 135.54,315.03 136.08,314.13 136.61,313.26 137.14,312.40 137.68,311.57 138.21,310.75 138.75,309.96 139.28,309.19 139.81,308.43 140.35,307.70 140.88,306.98 141.41,306.28 141.95,305.60 142.48,304.94 143.02,304.29 143.55,303.66 144.08,303.04 144.62,302.44 145.15,301.85 145.68,301.28 146.22,300.72 146.75,300.18 147.28,299.65 147.82,299.14 148.35,298.63 148.89,298.14 149.42,297.66 149.95,297.19 150.49,296.74 151.02,296.29 151.55,295.86 152.09,295.44 152.62,295.03 153.16,294.63 153.69,294.24 154.22,293.85 154.76,293.48 155.29,293.12 155.82,292.76 156.36,292.42 156.89,292.08 157.43,291.76 157.96,291.44 158.49,291.12 159.03,290.82 159.56,290.52 160.09,290.23 160.63,289.95 161.16,289.68 161.70,289.41 162.23,289.15 162.76,288.89 163.30,288.64 163.83,288.40 164.36,288.16 164.90,287.93 165.43,287.71 165.97,287.49 166.50,287.28 167.03,287.07 167.57,286.86 168.10,286.67 168.63,286.47 169.17,286.28 169.70,286.10 170.24,285.92 170.77,285.75 171.30,285.58 171.84,285.41 172.37,285.25 172.90,285.09 173.44,284.94 173.97,284.79 174.51,284.64 175.04,284.50 175.57,284.36" fill="none" stroke="#3caa3c" stroke-width="1.3" stroke-linejoin="round" stroke-linecap="round" />
<polyline points="119.23,391.27 119.70,388.95 120.17,386.67 120.64,384.43 121.11,382.24 121.58,380.10 122.05,377.99 122.52,375.93 122.99,373.91 123.46,371.93 123.93,369.99 124.40,368.08 124.87,366.22 125.33,364.39 125.80,362.60 126.27,360.84 126.74,359.12 127.21,357.43 127.68,355.78 128.15,354.15 128.62,352.57 129.09,351.01 129.56,349.48 130.03,347.98 130.50,346.52 130.97,345.08 131.44,343.67 131.91,342.29 132.38,340.93 132.85,339.60 133.32,338.30 133.79,337.03 134.26,335.78 134.73,334.55 135.19,333.35 135.66,332.17 136.13,331.02 136.60,329.89 137.07,328.78 137.54,327.69 138.01,326.63 138.48,325.58 138.95,324.56 139.42,323.56 139.89,322.57 140.36,321.61 140.83,320.66 141.30,319.74 141.77,318.83 142.24,317.94 142.71,317.07 143.18,316.21 143.65,315.38 144.12,314.55 144.58,313.75 145.05,312.96 145.52,312.19 145.99,311.43 146.46,310.69 146.93,309.96 147.40,309.24 147.87,308.54 148.34,307.86 148.81,307.19 149.28,306.53 149.75,305.88 150.22,305.25 150.69,304.63 151.16,304.02 151.63,303.42 152.10,302.84 152.57,302.27 153.04,301.70 153.51,301.15 153.98,300.61 154.44,300.09 154.91,299.57 155.38,299.06 155.85,298.56 156.32,298.07 156.79,297.59 157.26,297.13 157.73,296.67 158.20,296.22 158.67,295.77 159.14,295.34 159.61,294.92 160.08,294.50 160.55,294.09 161.02,293.69 161.49,293.30 161.96,292.92 162.43,292.54 162.90,292.17 163.37,291.81 163.83,291.46 164.30,291.11 164.77,290.77 165.24,290.44 165.71,290.11 166.18,289.79 166.65,289.47 167.12,289.17 167.59,288.86 168.06,288.57 168.53,288.28 169.00,287.99 169.47,287.71 169.94,287.44 170.41,287.17 170.88,286.91 171.35,286.65 171.82,286.40 172.29,286.15 172.76,285.91 173.22,285.67 173.69,285.44 174.16,285.21 174.63,284.99 175.10,284.77 175.57,284.56" fill="none" stroke="#e88a28" stroke-width="1.3" stroke-linejoin="round" stroke-linecap="round" />
<polyline points="144.60,390.50 145.21,388.13 146.03,384.93 147.02,381.12 148.10,376.91 149.23,372.52 150.34,368.18 151.39,364.10 152.30,360.50 153.12,357.24 153.92,354.04 154.68,350.94 155.41,347.96 156.10,345.15 156.75,342.53 157.35,340.13 157.90,338.00 158.38,336.20 158.78,334.73 159.13,333.52 159.44,332.49 159.72,331.56 160.00,330.66 160.29,329.70 160.60,328.60 160.93,327.41 161.26,326.20 161.60,325.00 161.92,323.79 162.25,322.58 162.57,321.38 162.89,320.18 163.20,319.00 163.50,317.84 163.78,316.70 164.06,315.56 164.33,314.44 164.61,313.31 164.89,312.16 165.19,311.00 165.50,309.80 165.83,308.56 166.18,307.26 166.54,305.93 166.91,304.60 167.29,303.28 167.66,301.99 168.03,300.76 168.40,299.60 168.77,298.50 169.14,297.44 169.52,296.42 169.89,295.44 170.26,294.50 170.62,293.61 170.97,292.78 171.30,292.00 171.61,291.29 171.91,290.64 172.19,290.05 172.47,289.51 172.74,289.01 172.99,288.53 173.25,288.06 173.50,287.60 173.76,287.14 174.02,286.68 174.28,286.24 174.54,285.83 174.77,285.44 174.99,285.11 175.16,284.82 175.30,284.60" fill="none" stroke="#d03c3c" stroke-width="1.3" stroke-linejoin="round" stroke-linecap="round" />
<rect x="39.4" y="280.2" width="137.20" height="109.80" fill="none" stroke="#222" stroke-width="1.2"/>
<line x1="39.40" y1="284.10" x2="36.80" y2="284.10" stroke="#222" stroke-width="1" />
<line x1="39.40" y1="294.69" x2="37.80" y2="294.69" stroke="#222" stroke-width="1" />
<line x1="39.40" y1="305.28" x2="36.80" y2="305.28" stroke="#222" stroke-width="1" />
<line x1="39.40" y1="315.87" x2="37.80" y2="315.87" stroke="#222" stroke-width="1" />
<line x1="39.40" y1="326.46" x2="36.80" y2="326.46" stroke="#222" stroke-width="1" />
<line x1="39.40" y1="337.05" x2="37.80" y2="337.05" stroke="#222" stroke-width="1" />
<line x1="39.40" y1="347.64" x2="36.80" y2="347.64" stroke="#222" stroke-width="1" />
<line x1="39.40" y1="358.23" x2="37.80" y2="358.23" stroke="#222" stroke-width="1" />
<line x1="39.40" y1="368.82" x2="36.80" y2="368.82" stroke="#222" stroke-width="1" />
<line x1="39.40" y1="379.41" x2="37.80" y2="379.41" stroke="#222" stroke-width="1" />
<line x1="39.40" y1="390.00" x2="36.80" y2="390.00" stroke="#222" stroke-width="1" />
<line x1="39.60" y1="390.00" x2="39.60" y2="392.60" stroke="#222" stroke-width="1" />
<line x1="56.72" y1="390.00" x2="56.72" y2="391.60" stroke="#222" stroke-width="1" />
<line x1="73.85" y1="390.00" x2="73.85" y2="392.60" stroke="#222" stroke-width="1" />
<line x1="90.97" y1="390.00" x2="90.97" y2="391.60" stroke="#222" stroke-width="1" />
<line x1="108.10" y1="390.00" x2="108.10" y2="392.60" stroke="#222" stroke-width="1" />
<line x1="125.22" y1="390.00" x2="125.22" y2="391.60" stroke="#222" stroke-width="1" />
<line x1="142.35" y1="390.00" x2="142.35" y2="392.60" stroke="#222" stroke-width="1" />
<line x1="159.47" y1="390.00" x2="159.47" y2="391.60" stroke="#222" stroke-width="1" />
<line x1="176.60" y1="390.00" x2="176.60" y2="392.60" stroke="#222" stroke-width="1" />
<text x="30.60" y="287.76" font-family='"Liberation Sans", sans-serif' font-weight="normal" font-size="9.6" fill="#111" textLength="5.20" lengthAdjust="spacingAndGlyphs" >0</text>
<text x="22.40" y="308.94" font-family='"Liberation Sans", sans-serif' font-weight="normal" font-size="9.6" fill="#111" textLength="13.40" lengthAdjust="spacingAndGlyphs" >-10</text>
<text x="22.40" y="330.12" font-family='"Liberation Sans", sans-serif' font-weight="normal" font-size="9.6" fill="#111" textLength="13.40" lengthAdjust="spacingAndGlyphs" >-20</text>
<text x="22.40" y="351.30" font-family='"Liberation Sans", sans-serif' font-weight="normal" font-size="9.6" fill="#111" textLength="13.40" lengthAdjust="spacingAndGlyphs" >-30</text>
<text x="22.40" y="372.48" font-family='"Liberation Sans", sans-serif' font-weight="normal" font-size="9.6" fill="#111" textLength="13.40" lengthAdjust="spacingAndGlyphs" >-40</text>
<text x="22.40" y="393.66" font-family='"Liberation Sans", sans-serif' font-weight="normal" font-size="9.6" fill="#111" textLength="13.40" lengthAdjust="spacingAndGlyphs" >-50</text>
<text x="31.30" y="401.76" font-family='"Liberation Sans", sans-serif' font-weight="normal" font-size="9.6" fill="#111" textLength="16.00" lengthAdjust="spacingAndGlyphs" >-0.4</text>
<text x="65.55" y="401.76" font-family='"Liberation Sans", sans-serif' font-weight="normal" font-size="9.6" fill="#111" textLength="16.00" lengthAdjust="spacingAndGlyphs" >-0.3</text>
<text x="99.80" y="401.76" font-family='"Liberation Sans", sans-serif' font-weight="normal" font-size="9.6" fill="#111" textLength="16.00" lengthAdjust="spacingAndGlyphs" >-0.2</text>
<text x="134.05" y="401.76" font-family='"Liberation Sans", sans-serif' font-weight="normal" font-size="9.6" fill="#111" textLength="16.00" lengthAdjust="spacingAndGlyphs" >-0.1</text>
<text x="170.50" y="401.56" font-family='"Liberation Sans", sans-serif' font-weight="normal" font-size="9.6" fill="#111" textLength="14.00" lengthAdjust="spacingAndGlyphs" >0.0</text>
<text x="63.80" y="411.57" font-family='"Liberation Sans", sans-serif' font-weight="normal" font-size="10.2" fill="#111" textLength="88.80" lengthAdjust="spacingAndGlyphs" >Potential (V vs. RHE)</text>
<text transform="translate(19.67,389.00) rotate(-90)" x="0" y="0" font-family='"Liberation Sans", sans-serif' font-weight="normal" font-size="10.2" fill="#111" textLength="107.60" lengthAdjust="spacingAndGlyphs">Current density (mA cm<tspan font-size="6.5" dy="-3.5">-2</tspan><tspan dy="3.5">)</tspan></text>
<text transform="translate(85.25,352.90) rotate(-68.50)" font-family='"Liberation Sans", sans-serif' font-size="8.2" fill="#111" textLength="33.79" lengthAdjust="spacingAndGlyphs">CoFe LDH</text>
<text transform="translate(96.88,359.42) rotate(-73.72)" font-family='"Liberation Sans", sans-serif' font-size="8.2" fill="#4a3ea0" textLength="45.73" lengthAdjust="spacingAndGlyphs">Ce/CoFe LDH</text>
<text transform="translate(111.70,365.18) rotate(-69.28)" font-family='"Liberation Sans", sans-serif' font-size="8.2" fill="#3caa3c" textLength="42.72" lengthAdjust="spacingAndGlyphs">V-CoFe LDH</text>
<text transform="translate(133.53,378.31) rotate(-71.27)" font-family='"Liberation Sans", sans-serif' font-size="8.2" fill="#e88a28" textLength="55.25" lengthAdjust="spacingAndGlyphs">V-Ce/CoFe LDH</text>
<text transform="translate(162.64,358.55) rotate(-69.93)" font-family='"Liberation Sans", sans-serif' font-size="8.2" fill="#d03c3c" textLength="16.48" lengthAdjust="spacingAndGlyphs">Pt/C</text>
<text x="92.60" y="302.27" font-family='"Liberation Sans", sans-serif' font-weight="bold" font-size="5.2" fill="#111" textLength="16.30" lengthAdjust="spacingAndGlyphs" >194 mV</text>
<text x="131.10" y="302.27" font-family='"Liberation Sans", sans-serif' font-weight="bold" font-size="5.2" fill="#3caa3c" textLength="13.10" lengthAdjust="spacingAndGlyphs" >95 mV</text>
<text x="121.10" y="312.57" font-family='"Liberation Sans", sans-serif' font-weight="bold" font-size="5.2" fill="#4a3ea0" textLength="17.60" lengthAdjust="spacingAndGlyphs" >156 mV</text>
<text x="150.10" y="313.07" font-family='"Liberation Sans", sans-serif' font-weight="bold" font-size="5.2" fill="#e88a28" textLength="13.60" lengthAdjust="spacingAndGlyphs" >73 mV</text>
<rect x="182.3" y="393" width="3.5" height="11" fill="#fff"/>
<text x="6.70" y="272.50" font-family='"Liberation Serif", serif' font-weight="bold" font-size="19" fill="#111" textLength="21.70" lengthAdjust="spacingAndGlyphs">(g)</text>
<polyline points="222.90,384.50 222.99,383.95 223.10,383.24 223.22,382.39 223.36,381.44 223.52,380.42 223.70,379.37 223.90,378.31 224.14,377.30 224.40,376.35 224.70,375.50 225.03,374.72 225.39,373.96 225.78,373.21 226.20,372.49 226.64,371.79 227.11,371.12 227.60,370.49 228.12,369.89 228.65,369.32 229.20,368.80 229.78,368.31 230.40,367.86 231.05,367.44 231.72,367.05 232.41,366.69 233.11,366.38 233.82,366.10 234.52,365.86 235.22,365.66 235.90,365.50 236.58,365.39 237.28,365.32 237.98,365.29 238.69,365.30 239.39,365.35 240.08,365.44 240.75,365.55 241.40,365.71 242.02,365.89 242.60,366.10 243.14,366.35 243.66,366.64 244.15,366.98 244.62,367.35 245.06,367.74 245.49,368.17 245.91,368.61 246.31,369.06 246.71,369.53 247.10,370.00 247.49,370.48 247.87,370.99 248.24,371.52 248.61,372.06 248.96,372.62 249.29,373.19 249.60,373.76 249.89,374.34 250.16,374.92 250.40,375.50 250.61,376.11 250.79,376.76 250.95,377.45 251.09,378.15 251.21,378.84 251.31,379.51 251.39,380.13 251.47,380.68 251.54,381.14 251.60,381.50" fill="none" stroke="#5cb84c" stroke-width="3.8" stroke-linejoin="round" stroke-linecap="round" />
<circle cx="251.6" cy="382" r="1.9" fill="#5cb84c"/>
<circle cx="222.90" cy="383.00" r="2.2" fill="#1c1c1c"/>
<circle cx="222.30" cy="382.40" r="0.6" fill="#d0d0d0"/>
<circle cx="223.58" cy="378.35" r="2.2" fill="#1c1c1c"/>
<circle cx="222.98" cy="377.75" r="0.6" fill="#d0d0d0"/>
<circle cx="224.49" cy="373.74" r="2.2" fill="#1c1c1c"/>
<circle cx="223.89" cy="373.14" r="0.6" fill="#d0d0d0"/>
<circle cx="225.65" cy="369.18" r="2.2" fill="#1c1c1c"/>
<circle cx="225.05" cy="368.58" r="0.6" fill="#d0d0d0"/>
<circle cx="227.13" cy="364.73" r="2.2" fill="#1c1c1c"/>
<circle cx="226.53" cy="364.13" r="0.6" fill="#d0d0d0"/>
<circle cx="228.86" cy="360.36" r="2.2" fill="#1c1c1c"/>
<circle cx="228.26" cy="359.76" r="0.6" fill="#d0d0d0"/>
<circle cx="230.68" cy="356.02" r="2.2" fill="#1c1c1c"/>
<circle cx="230.08" cy="355.42" r="0.6" fill="#d0d0d0"/>
<circle cx="232.62" cy="351.74" r="2.2" fill="#1c1c1c"/>
<circle cx="232.02" cy="351.14" r="0.6" fill="#d0d0d0"/>
<circle cx="234.65" cy="347.51" r="2.2" fill="#1c1c1c"/>
<circle cx="234.05" cy="346.91" r="0.6" fill="#d0d0d0"/>
<circle cx="237.01" cy="343.45" r="2.2" fill="#1c1c1c"/>
<circle cx="236.41" cy="342.85" r="0.6" fill="#d0d0d0"/>
<circle cx="240.04" cy="339.85" r="2.2" fill="#1c1c1c"/>
<circle cx="239.44" cy="339.25" r="0.6" fill="#d0d0d0"/>
<circle cx="243.09" cy="336.29" r="2.2" fill="#1c1c1c"/>
<circle cx="242.49" cy="335.69" r="0.6" fill="#d0d0d0"/>
<circle cx="245.72" cy="332.40" r="2.2" fill="#1c1c1c"/>
<circle cx="245.12" cy="331.80" r="0.6" fill="#d0d0d0"/>
<circle cx="248.51" cy="328.62" r="2.2" fill="#1c1c1c"/>
<circle cx="247.91" cy="328.02" r="0.6" fill="#d0d0d0"/>
<circle cx="251.67" cy="325.13" r="2.2" fill="#1c1c1c"/>
<circle cx="251.07" cy="324.53" r="0.6" fill="#d0d0d0"/>
<circle cx="255.13" cy="321.96" r="2.2" fill="#1c1c1c"/>
<circle cx="254.53" cy="321.36" r="0.6" fill="#d0d0d0"/>
<circle cx="258.53" cy="318.71" r="2.2" fill="#1c1c1c"/>
<circle cx="257.93" cy="318.11" r="0.6" fill="#d0d0d0"/>
<circle cx="261.90" cy="315.44" r="2.2" fill="#1c1c1c"/>
<circle cx="261.30" cy="314.84" r="0.6" fill="#d0d0d0"/>
<circle cx="265.45" cy="312.36" r="2.2" fill="#1c1c1c"/>
<circle cx="264.85" cy="311.76" r="0.6" fill="#d0d0d0"/>
<circle cx="269.44" cy="309.88" r="2.2" fill="#1c1c1c"/>
<circle cx="268.84" cy="309.28" r="0.6" fill="#d0d0d0"/>
<circle cx="273.56" cy="307.63" r="2.2" fill="#1c1c1c"/>
<circle cx="272.96" cy="307.03" r="0.6" fill="#d0d0d0"/>
<circle cx="277.84" cy="305.69" r="2.2" fill="#1c1c1c"/>
<circle cx="277.24" cy="305.09" r="0.6" fill="#d0d0d0"/>
<circle cx="282.26" cy="304.10" r="2.2" fill="#1c1c1c"/>
<circle cx="281.66" cy="303.50" r="0.6" fill="#d0d0d0"/>
<circle cx="286.79" cy="302.82" r="2.2" fill="#1c1c1c"/>
<circle cx="286.19" cy="302.22" r="0.6" fill="#d0d0d0"/>
<circle cx="291.44" cy="302.22" r="2.2" fill="#1c1c1c"/>
<circle cx="290.84" cy="301.62" r="0.6" fill="#d0d0d0"/>
<circle cx="296.12" cy="302.54" r="2.2" fill="#1c1c1c"/>
<circle cx="295.52" cy="301.94" r="0.6" fill="#d0d0d0"/>
<circle cx="300.63" cy="303.85" r="2.2" fill="#1c1c1c"/>
<circle cx="300.03" cy="303.25" r="0.6" fill="#d0d0d0"/>
<circle cx="305.10" cy="305.32" r="2.2" fill="#1c1c1c"/>
<circle cx="304.50" cy="304.72" r="0.6" fill="#d0d0d0"/>
<circle cx="309.41" cy="307.18" r="2.2" fill="#1c1c1c"/>
<circle cx="308.81" cy="306.58" r="0.6" fill="#d0d0d0"/>
<circle cx="313.25" cy="309.87" r="2.2" fill="#1c1c1c"/>
<circle cx="312.65" cy="309.27" r="0.6" fill="#d0d0d0"/>
<circle cx="316.90" cy="312.83" r="2.2" fill="#1c1c1c"/>
<circle cx="316.30" cy="312.23" r="0.6" fill="#d0d0d0"/>
<circle cx="320.33" cy="316.04" r="2.2" fill="#1c1c1c"/>
<circle cx="319.73" cy="315.44" r="0.6" fill="#d0d0d0"/>
<circle cx="323.41" cy="319.59" r="2.2" fill="#1c1c1c"/>
<circle cx="322.81" cy="318.99" r="0.6" fill="#d0d0d0"/>
<circle cx="326.06" cy="323.46" r="2.2" fill="#1c1c1c"/>
<circle cx="325.46" cy="322.86" r="0.6" fill="#d0d0d0"/>
<circle cx="328.73" cy="327.33" r="2.2" fill="#1c1c1c"/>
<circle cx="328.13" cy="326.73" r="0.6" fill="#d0d0d0"/>
<circle cx="331.54" cy="331.10" r="2.2" fill="#1c1c1c"/>
<circle cx="330.94" cy="330.50" r="0.6" fill="#d0d0d0"/>
<circle cx="333.83" cy="335.20" r="2.2" fill="#1c1c1c"/>
<circle cx="333.23" cy="334.60" r="0.6" fill="#d0d0d0"/>
<circle cx="336.01" cy="339.36" r="2.2" fill="#1c1c1c"/>
<circle cx="335.41" cy="338.76" r="0.6" fill="#d0d0d0"/>
<circle cx="338.14" cy="343.55" r="2.2" fill="#1c1c1c"/>
<circle cx="337.54" cy="342.95" r="0.6" fill="#d0d0d0"/>
<circle cx="339.84" cy="347.93" r="2.2" fill="#1c1c1c"/>
<circle cx="339.24" cy="347.33" r="0.6" fill="#d0d0d0"/>
<circle cx="341.31" cy="352.40" r="2.2" fill="#1c1c1c"/>
<circle cx="340.71" cy="351.80" r="0.6" fill="#d0d0d0"/>
<circle cx="342.58" cy="356.92" r="2.2" fill="#1c1c1c"/>
<circle cx="341.98" cy="356.32" r="0.6" fill="#d0d0d0"/>
<circle cx="343.67" cy="361.49" r="2.2" fill="#1c1c1c"/>
<circle cx="343.07" cy="360.89" r="0.6" fill="#d0d0d0"/>
<circle cx="344.83" cy="366.05" r="2.2" fill="#1c1c1c"/>
<circle cx="344.23" cy="365.45" r="0.6" fill="#d0d0d0"/>
<circle cx="345.99" cy="370.60" r="2.2" fill="#1c1c1c"/>
<circle cx="345.39" cy="370.00" r="0.6" fill="#d0d0d0"/>
<circle cx="347.66" cy="374.99" r="2.2" fill="#1c1c1c"/>
<circle cx="347.06" cy="374.39" r="0.6" fill="#d0d0d0"/>
<circle cx="349.30" cy="378.90" r="2.2" fill="#1c1c1c"/>
<circle cx="348.70" cy="378.30" r="0.6" fill="#d0d0d0"/>
<circle cx="222.90" cy="381.10" r="2.05" fill="#6a58b8" stroke="#4c3c9c" stroke-width="0.35"/>
<circle cx="222.40" cy="380.50" r="0.55" fill="#b0a6e6"/>
<circle cx="223.34" cy="377.43" r="2.05" fill="#6a58b8" stroke="#4c3c9c" stroke-width="0.35"/>
<circle cx="222.84" cy="376.83" r="0.55" fill="#b0a6e6"/>
<circle cx="223.84" cy="373.76" r="2.05" fill="#6a58b8" stroke="#4c3c9c" stroke-width="0.35"/>
<circle cx="223.34" cy="373.16" r="0.55" fill="#b0a6e6"/>
<circle cx="224.41" cy="370.11" r="2.05" fill="#6a58b8" stroke="#4c3c9c" stroke-width="0.35"/>
<circle cx="223.91" cy="369.51" r="0.55" fill="#b0a6e6"/>
<circle cx="225.33" cy="366.52" r="2.05" fill="#6a58b8" stroke="#4c3c9c" stroke-width="0.35"/>
<circle cx="224.83" cy="365.92" r="0.55" fill="#b0a6e6"/>
<circle cx="226.54" cy="363.03" r="2.05" fill="#6a58b8" stroke="#4c3c9c" stroke-width="0.35"/>
<circle cx="226.04" cy="362.43" r="0.55" fill="#b0a6e6"/>
<circle cx="228.01" cy="359.63" r="2.05" fill="#6a58b8" stroke="#4c3c9c" stroke-width="0.35"/>
<circle cx="227.51" cy="359.03" r="0.55" fill="#b0a6e6"/>
<circle cx="229.68" cy="356.33" r="2.05" fill="#6a58b8" stroke="#4c3c9c" stroke-width="0.35"/>
<circle cx="229.18" cy="355.73" r="0.55" fill="#b0a6e6"/>
<circle cx="231.38" cy="353.05" r="2.05" fill="#6a58b8" stroke="#4c3c9c" stroke-width="0.35"/>
<circle cx="230.88" cy="352.45" r="0.55" fill="#b0a6e6"/>
<circle cx="233.08" cy="349.76" r="2.05" fill="#6a58b8" stroke="#4c3c9c" stroke-width="0.35"/>
<circle cx="232.58" cy="349.16" r="0.55" fill="#b0a6e6"/>
<circle cx="234.74" cy="346.45" r="2.05" fill="#6a58b8" stroke="#4c3c9c" stroke-width="0.35"/>
<circle cx="234.24" cy="345.85" r="0.55" fill="#b0a6e6"/>
<circle cx="236.72" cy="343.33" r="2.05" fill="#6a58b8" stroke="#4c3c9c" stroke-width="0.35"/>
<circle cx="236.22" cy="342.73" r="0.55" fill="#b0a6e6"/>
<circle cx="239.00" cy="340.42" r="2.05" fill="#6a58b8" stroke="#4c3c9c" stroke-width="0.35"/>
<circle cx="238.50" cy="339.82" r="0.55" fill="#b0a6e6"/>
<circle cx="241.44" cy="337.64" r="2.05" fill="#6a58b8" stroke="#4c3c9c" stroke-width="0.35"/>
<circle cx="240.94" cy="337.04" r="0.55" fill="#b0a6e6"/>
<circle cx="243.97" cy="334.93" r="2.05" fill="#6a58b8" stroke="#4c3c9c" stroke-width="0.35"/>
<circle cx="243.47" cy="334.33" r="0.55" fill="#b0a6e6"/>
<circle cx="246.59" cy="332.33" r="2.05" fill="#6a58b8" stroke="#4c3c9c" stroke-width="0.35"/>
<circle cx="246.09" cy="331.73" r="0.55" fill="#b0a6e6"/>
<circle cx="249.54" cy="330.10" r="2.05" fill="#6a58b8" stroke="#4c3c9c" stroke-width="0.35"/>
<circle cx="249.04" cy="329.50" r="0.55" fill="#b0a6e6"/>
<circle cx="252.67" cy="328.12" r="2.05" fill="#6a58b8" stroke="#4c3c9c" stroke-width="0.35"/>
<circle cx="252.17" cy="327.52" r="0.55" fill="#b0a6e6"/>
<circle cx="255.89" cy="326.31" r="2.05" fill="#6a58b8" stroke="#4c3c9c" stroke-width="0.35"/>
<circle cx="255.39" cy="325.71" r="0.55" fill="#b0a6e6"/>
<circle cx="259.28" cy="324.83" r="2.05" fill="#6a58b8" stroke="#4c3c9c" stroke-width="0.35"/>
<circle cx="258.78" cy="324.23" r="0.55" fill="#b0a6e6"/>
<circle cx="262.84" cy="323.82" r="2.05" fill="#6a58b8" stroke="#4c3c9c" stroke-width="0.35"/>
<circle cx="262.34" cy="323.22" r="0.55" fill="#b0a6e6"/>
<circle cx="266.49" cy="323.20" r="2.05" fill="#6a58b8" stroke="#4c3c9c" stroke-width="0.35"/>
<circle cx="265.99" cy="322.60" r="0.55" fill="#b0a6e6"/>
<circle cx="270.18" cy="323.00" r="2.05" fill="#6a58b8" stroke="#4c3c9c" stroke-width="0.35"/>
<circle cx="269.68" cy="322.40" r="0.55" fill="#b0a6e6"/>
<circle cx="273.87" cy="323.25" r="2.05" fill="#6a58b8" stroke="#4c3c9c" stroke-width="0.35"/>
<circle cx="273.37" cy="322.65" r="0.55" fill="#b0a6e6"/>
<circle cx="277.51" cy="323.86" r="2.05" fill="#6a58b8" stroke="#4c3c9c" stroke-width="0.35"/>
<circle cx="277.01" cy="323.26" r="0.55" fill="#b0a6e6"/>
<circle cx="281.06" cy="324.89" r="2.05" fill="#6a58b8" stroke="#4c3c9c" stroke-width="0.35"/>
<circle cx="280.56" cy="324.29" r="0.55" fill="#b0a6e6"/>
<circle cx="284.31" cy="326.65" r="2.05" fill="#6a58b8" stroke="#4c3c9c" stroke-width="0.35"/>
<circle cx="283.81" cy="326.05" r="0.55" fill="#b0a6e6"/>
<circle cx="287.19" cy="328.97" r="2.05" fill="#6a58b8" stroke="#4c3c9c" stroke-width="0.35"/>
<circle cx="286.69" cy="328.37" r="0.55" fill="#b0a6e6"/>
<circle cx="289.76" cy="331.63" r="2.05" fill="#6a58b8" stroke="#4c3c9c" stroke-width="0.35"/>
<circle cx="289.26" cy="331.03" r="0.55" fill="#b0a6e6"/>
<circle cx="292.15" cy="334.45" r="2.05" fill="#6a58b8" stroke="#4c3c9c" stroke-width="0.35"/>
<circle cx="291.65" cy="333.85" r="0.55" fill="#b0a6e6"/>
<circle cx="294.31" cy="337.45" r="2.05" fill="#6a58b8" stroke="#4c3c9c" stroke-width="0.35"/>
<circle cx="293.81" cy="336.85" r="0.55" fill="#b0a6e6"/>
<circle cx="296.17" cy="340.65" r="2.05" fill="#6a58b8" stroke="#4c3c9c" stroke-width="0.35"/>
<circle cx="295.67" cy="340.05" r="0.55" fill="#b0a6e6"/>
<circle cx="297.83" cy="343.96" r="2.05" fill="#6a58b8" stroke="#4c3c9c" stroke-width="0.35"/>
<circle cx="297.33" cy="343.36" r="0.55" fill="#b0a6e6"/>
<circle cx="299.36" cy="347.32" r="2.05" fill="#6a58b8" stroke="#4c3c9c" stroke-width="0.35"/>
<circle cx="298.86" cy="346.72" r="0.55" fill="#b0a6e6"/>
<circle cx="300.77" cy="350.75" r="2.05" fill="#6a58b8" stroke="#4c3c9c" stroke-width="0.35"/>
<circle cx="300.27" cy="350.15" r="0.55" fill="#b0a6e6"/>
<circle cx="301.87" cy="354.28" r="2.05" fill="#6a58b8" stroke="#4c3c9c" stroke-width="0.35"/>
<circle cx="301.37" cy="353.68" r="0.55" fill="#b0a6e6"/>
<circle cx="302.77" cy="357.87" r="2.05" fill="#6a58b8" stroke="#4c3c9c" stroke-width="0.35"/>
<circle cx="302.27" cy="357.27" r="0.55" fill="#b0a6e6"/>
<circle cx="303.64" cy="361.46" r="2.05" fill="#6a58b8" stroke="#4c3c9c" stroke-width="0.35"/>
<circle cx="303.14" cy="360.86" r="0.55" fill="#b0a6e6"/>
<circle cx="304.46" cy="365.07" r="2.05" fill="#6a58b8" stroke="#4c3c9c" stroke-width="0.35"/>
<circle cx="303.96" cy="364.47" r="0.55" fill="#b0a6e6"/>
<circle cx="305.23" cy="368.69" r="2.05" fill="#6a58b8" stroke="#4c3c9c" stroke-width="0.35"/>
<circle cx="304.73" cy="368.09" r="0.55" fill="#b0a6e6"/>
<circle cx="305.95" cy="372.32" r="2.05" fill="#6a58b8" stroke="#4c3c9c" stroke-width="0.35"/>
<circle cx="305.45" cy="371.72" r="0.55" fill="#b0a6e6"/>
<circle cx="306.84" cy="375.91" r="2.05" fill="#6a58b8" stroke="#4c3c9c" stroke-width="0.35"/>
<circle cx="306.34" cy="375.31" r="0.55" fill="#b0a6e6"/>
<circle cx="308.35" cy="379.28" r="2.05" fill="#6a58b8" stroke="#4c3c9c" stroke-width="0.35"/>
<circle cx="307.85" cy="378.68" r="0.55" fill="#b0a6e6"/>
<circle cx="309.60" cy="382.00" r="2.05" fill="#6a58b8" stroke="#4c3c9c" stroke-width="0.35"/>
<circle cx="309.10" cy="381.40" r="0.55" fill="#b0a6e6"/>
<circle cx="223.5" cy="385.5" r="1.9" fill="#f08a2c"/>
<circle cx="225.5" cy="383.5" r="1.9" fill="#f08a2c"/>
<circle cx="227.5" cy="384.8" r="1.9" fill="#f08a2c"/>
<circle cx="224.5" cy="387" r="1.9" fill="#f08a2c"/>
<circle cx="226.8" cy="386.8" r="1.9" fill="#f08a2c"/>
<circle cx="222.6" cy="383.2" r="1.9" fill="#f08a2c"/>
<rect x="217" y="281.3" width="143.20" height="113.70" fill="none" stroke="#222" stroke-width="1.2"/>
<line x1="217.00" y1="385.40" x2="214.40" y2="385.40" stroke="#222" stroke-width="1" />
<line x1="217.00" y1="373.75" x2="215.40" y2="373.75" stroke="#222" stroke-width="1" />
<line x1="217.00" y1="362.10" x2="214.40" y2="362.10" stroke="#222" stroke-width="1" />
<line x1="217.00" y1="350.45" x2="215.40" y2="350.45" stroke="#222" stroke-width="1" />
<line x1="217.00" y1="338.80" x2="214.40" y2="338.80" stroke="#222" stroke-width="1" />
<line x1="217.00" y1="327.15" x2="215.40" y2="327.15" stroke="#222" stroke-width="1" />
<line x1="217.00" y1="315.50" x2="214.40" y2="315.50" stroke="#222" stroke-width="1" />
<line x1="217.00" y1="303.85" x2="215.40" y2="303.85" stroke="#222" stroke-width="1" />
<line x1="217.00" y1="292.20" x2="214.40" y2="292.20" stroke="#222" stroke-width="1" />
<line x1="221.20" y1="395.00" x2="221.20" y2="397.60" stroke="#222" stroke-width="1" />
<line x1="232.78" y1="395.00" x2="232.78" y2="396.60" stroke="#222" stroke-width="1" />
<line x1="244.37" y1="395.00" x2="244.37" y2="397.60" stroke="#222" stroke-width="1" />
<line x1="255.95" y1="395.00" x2="255.95" y2="396.60" stroke="#222" stroke-width="1" />
<line x1="267.53" y1="395.00" x2="267.53" y2="397.60" stroke="#222" stroke-width="1" />
<line x1="279.12" y1="395.00" x2="279.12" y2="396.60" stroke="#222" stroke-width="1" />
<line x1="290.70" y1="395.00" x2="290.70" y2="397.60" stroke="#222" stroke-width="1" />
<line x1="302.28" y1="395.00" x2="302.28" y2="396.60" stroke="#222" stroke-width="1" />
<line x1="313.87" y1="395.00" x2="313.87" y2="397.60" stroke="#222" stroke-width="1" />
<line x1="325.45" y1="395.00" x2="325.45" y2="396.60" stroke="#222" stroke-width="1" />
<line x1="337.03" y1="395.00" x2="337.03" y2="397.60" stroke="#222" stroke-width="1" />
<line x1="348.62" y1="395.00" x2="348.62" y2="396.60" stroke="#222" stroke-width="1" />
<line x1="360.20" y1="395.00" x2="360.20" y2="397.60" stroke="#222" stroke-width="1" />
<text x="207.40" y="389.20" font-family='"Liberation Sans", sans-serif' font-weight="normal" font-size="10" fill="#111" textLength="5.20" lengthAdjust="spacingAndGlyphs" >0</text>
<text x="202.20" y="365.90" font-family='"Liberation Sans", sans-serif' font-weight="normal" font-size="10" fill="#111" textLength="10.40" lengthAdjust="spacingAndGlyphs" >10</text>
<text x="202.20" y="342.60" font-family='"Liberation Sans", sans-serif' font-weight="normal" font-size="10" fill="#111" textLength="10.40" lengthAdjust="spacingAndGlyphs" >20</text>
<text x="202.20" y="319.30" font-family='"Liberation Sans", sans-serif' font-weight="normal" font-size="10" fill="#111" textLength="10.40" lengthAdjust="spacingAndGlyphs" >30</text>
<text x="202.20" y="296.00" font-family='"Liberation Sans", sans-serif' font-weight="normal" font-size="10" fill="#111" textLength="10.40" lengthAdjust="spacingAndGlyphs" >40</text>
<text x="218.50" y="406.40" font-family='"Liberation Sans", sans-serif' font-weight="normal" font-size="10" fill="#111" textLength="5.40" lengthAdjust="spacingAndGlyphs" >0</text>
<text x="238.97" y="406.40" font-family='"Liberation Sans", sans-serif' font-weight="normal" font-size="10" fill="#111" textLength="10.80" lengthAdjust="spacingAndGlyphs" >20</text>
<text x="262.13" y="406.40" font-family='"Liberation Sans", sans-serif' font-weight="normal" font-size="10" fill="#111" textLength="10.80" lengthAdjust="spacingAndGlyphs" >40</text>
<text x="285.30" y="406.40" font-family='"Liberation Sans", sans-serif' font-weight="normal" font-size="10" fill="#111" textLength="10.80" lengthAdjust="spacingAndGlyphs" >60</text>
<text x="308.47" y="406.40" font-family='"Liberation Sans", sans-serif' font-weight="normal" font-size="10" fill="#111" textLength="10.80" lengthAdjust="spacingAndGlyphs" >80</text>
<text x="328.93" y="406.40" font-family='"Liberation Sans", sans-serif' font-weight="normal" font-size="10" fill="#111" textLength="16.20" lengthAdjust="spacingAndGlyphs" >100</text>
<text x="353.10" y="406.40" font-family='"Liberation Sans", sans-serif' font-weight="normal" font-size="10" fill="#111" textLength="16.90" lengthAdjust="spacingAndGlyphs" >120</text>
<text x="276.30" y="416.97" font-family='"Liberation Sans", sans-serif' font-weight="normal" font-size="10.2" fill="#111" textLength="23.60" lengthAdjust="spacingAndGlyphs" >Z' (Ω)</text>
<text transform="translate(199.06,357.50) rotate(-90)" x="0" y="0" font-family='"Liberation Sans", sans-serif' font-weight="normal" font-size="9.6" fill="#111" textLength="29.20" lengthAdjust="spacingAndGlyphs">-Z'' (Ω)</text>
<text x="279.10" y="296.44" font-family='"Liberation Sans", sans-serif' font-weight="normal" font-size="7.6" fill="#333" textLength="35.40" lengthAdjust="spacingAndGlyphs" >CoFe LDH</text>
<text x="268.20" y="319.94" font-family='"Liberation Sans", sans-serif' font-weight="normal" font-size="7.6" fill="#8478b4" textLength="46.30" lengthAdjust="spacingAndGlyphs" >Ce/CoFe LDH</text>
<text x="247.10" y="366.14" font-family='"Liberation Sans", sans-serif' font-weight="normal" font-size="7.6" fill="#5cb85c" textLength="42.00" lengthAdjust="spacingAndGlyphs" >V-CoFe LDH</text>
<text x="234.60" y="391.34" font-family='"Liberation Sans", sans-serif' font-weight="normal" font-size="7.6" fill="#e0a070" textLength="55.40" lengthAdjust="spacingAndGlyphs" >V-Ce/CoFe LDH</text>
<rect x="366.6" y="396" width="4.5" height="12" fill="#fff"/>
<text x="181.00" y="281.40" font-family='"Liberation Serif", serif' font-weight="bold" font-size="19" fill="#111" textLength="23.10" lengthAdjust="spacingAndGlyphs">(h)</text>
<rect x="401.8" y="306.1" width="64.4" height="43.3" fill="#7c7c7c" filter="url(#sem2f)"/>
<text x="447.50" y="346.46" font-family='"Liberation Sans", sans-serif' font-weight="normal" font-size="6" fill="#fff" textLength="17.30" lengthAdjust="spacingAndGlyphs" >500 nm</text>
<line x1="449.00" y1="347.60" x2="463.50" y2="347.60" stroke="#fff" stroke-width="0.8" />
<rect x="482" y="342.9" width="50.1" height="36.4" fill="#b0b0b0"/>
<rect x="489" y="343" width="34" height="9.5" fill="#bababa"/>
<rect x="490" y="352" width="32.5" height="26.8" fill="#cbcbcb"/>
<rect x="490" y="355" width="32.5" height="2" fill="#e2e2e2" opacity="0.8"/>
<ellipse cx="511" cy="372.5" rx="9" ry="3.2" fill="#e2e2e2" opacity="0.9"/>
<rect x="499.1" y="353.7" width="4.40" height="4.90" fill="#333"/>
<rect x="498.1" y="360.2" width="4.60" height="6.50" fill="#333"/>
<rect x="510" y="353.7" width="3.80" height="4.90" fill="#333"/>
<rect x="511.1" y="360.2" width="4.90" height="6.50" fill="#333"/>
<circle cx="501.4" cy="348.6" r="1.5" fill="#e6e6e6"/><circle cx="510.6" cy="348.2" r="1.5" fill="#e6e6e6"/>
<path d="M404,322 Q420,312 440,318 T466,309" fill="none" stroke="#c2c2c2" stroke-width="1.5" opacity="0.75"/>
<path d="M410,349 Q422,330 432,320 T452,306" fill="none" stroke="#c2c2c2" stroke-width="1.5" opacity="0.75"/>
<path d="M403,337 Q418,338 430,346" fill="none" stroke="#c2c2c2" stroke-width="1.5" opacity="0.75"/>
<path d="M440,330 Q450,340 466,336" fill="none" stroke="#c2c2c2" stroke-width="1.5" opacity="0.75"/>
<path d="M420,306 Q425,318 418,330" fill="none" stroke="#c2c2c2" stroke-width="1.5" opacity="0.75"/>
<path d="M446,306 Q452,322 462,328" fill="none" stroke="#c2c2c2" stroke-width="1.5" opacity="0.75"/>
<path d="M428,349 Q436,336 450,342" fill="none" stroke="#c2c2c2" stroke-width="1.5" opacity="0.75"/>
<path d="M402,312 Q410,318 414,328" fill="none" stroke="#c2c2c2" stroke-width="1.5" opacity="0.75"/>
<polyline points="537.30,287.50 537.25,287.50 537.09,287.51 536.83,287.52 536.48,287.54 536.04,287.57 535.52,287.60 534.92,287.63 534.27,287.67 533.56,287.72 532.80,287.77 532.00,287.83 531.18,287.89 530.33,287.96 529.47,288.03 528.60,288.11 527.72,288.19 526.83,288.28 525.95,288.37 525.07,288.47 524.19,288.58 523.32,288.69 522.46,288.81 521.62,288.93 520.78,289.06 519.95,289.19 519.14,289.32 518.33,289.47 517.54,289.62 516.77,289.77 516.00,289.93 515.25,290.09 514.52,290.26 513.79,290.44 513.08,290.62 512.38,290.81 511.69,291.00 511.01,291.20 510.35,291.40 509.70,291.61 509.05,291.82 508.42,292.04 507.80,292.26 507.19,292.49 506.59,292.73 506.00,292.97 505.42,293.21 504.85,293.46 504.28,293.72 503.73,293.98 503.18,294.25 502.65,294.52 502.12,294.80 501.60,295.08 501.08,295.37 500.58,295.67 500.08,295.97 499.58,296.27 499.10,296.58 498.62,296.90 498.15,297.22 497.68,297.55 497.22,297.88 496.77,298.21 496.32,298.56 495.88,298.91 495.44,299.26 495.01,299.62 494.59,299.98 494.17,300.35 493.75,300.73 493.34,301.11 492.93,301.50 492.53,301.89 492.14,302.28 491.74,302.69 491.36,303.09 490.97,303.51 490.59,303.92 490.22,304.35 489.85,304.78 489.48,305.21 489.12,305.65 488.76,306.10 488.40,306.55 488.05,307.01 487.70,307.47 487.35,307.93 487.01,308.41 486.67,308.88 486.33,309.37 486.00,309.86 485.67,310.35 485.34,310.85 485.02,311.35 484.70,311.86 484.38,312.38 484.06,312.90 483.75,313.43 483.44,313.96 483.13,314.50 482.82,315.04 482.52,315.59 482.22,316.14 481.92,316.70 481.63,317.26 481.33,317.83 481.04,318.41 480.75,318.99 480.47,319.57 480.18,320.17 479.90,320.76 479.62,321.36 479.34,321.97 479.06,322.58 478.79,323.20 478.52,323.83 478.24,324.46 477.98,325.09 477.71,325.73 477.44,326.38 477.18,327.03 476.92,327.68 476.66,328.34 476.40,329.01 476.14,329.68 475.89,330.36 475.63,331.04 475.38,331.73 475.13,332.43 474.88,333.12 474.63,333.83 474.39,334.54 474.14,335.25 473.90,335.98 473.66,336.70 473.42,337.43 473.18,338.17 472.94,338.91 472.70,339.66 472.47,340.41 472.23,341.17 472.00,341.94 471.77,342.71 471.54,343.48 471.31,344.26 471.08,345.05 470.85,345.84 470.63,346.63 470.40,347.44 470.18,348.24 469.96,349.06 469.73,349.87 469.51,350.70 469.29,351.53 469.08,352.36 468.86,353.20 468.64,354.04 468.43,354.89 468.21,355.75 468.00,356.61 467.79,357.48 467.57,358.35 467.36,359.23 467.15,360.11 466.94,361.00 466.74,361.89 466.53,362.79 466.32,363.70 466.12,364.61 465.91,365.52 465.71,366.44 465.50,367.37 465.30,368.30 465.10,369.24 464.90,370.18 464.70,371.12 464.50,372.08 464.30,373.04 464.10,374.00 463.91,374.97 463.71,375.94 463.51,376.92 463.32,377.91 463.12,378.90 462.93,379.90 462.74,380.90 462.54,381.90 462.35,382.92 462.16,383.93 461.97,384.96 461.78,385.99 461.59,387.02 461.40,388.06 461.21,389.10 461.03,390.15 460.84,391.21 460.65,392.27 460.47,393.34 460.28,394.41 460.10,395.49" fill="none" stroke="#6a5aa8" stroke-width="2.0" stroke-linejoin="round" stroke-linecap="round" />
<polyline points="537.30,287.50 537.25,287.50 537.09,287.51 536.83,287.52 536.48,287.54 536.04,287.57 535.52,287.60 534.92,287.63 534.27,287.67 533.56,287.72 532.80,287.77 532.00,287.83 531.18,287.89 530.33,287.96 529.47,288.03 528.60,288.11 527.72,288.19 526.83,288.28 525.95,288.37 525.07,288.47 524.19,288.58 523.32,288.69 522.46,288.81 521.62,288.93 520.78,289.06 519.95,289.19 519.14,289.32 518.33,289.47 517.54,289.62 516.77,289.77 516.00,289.93 515.25,290.09 514.52,290.26 513.79,290.44 513.08,290.62 512.38,290.81 511.69,291.00 511.01,291.20 510.35,291.40 509.70,291.61 509.05,291.82 508.42,292.04 507.80,292.26 507.19,292.49 506.59,292.73 506.00,292.97 505.42,293.21 504.85,293.46 504.28,293.72 503.73,293.98 503.18,294.25 502.65,294.52 502.12,294.80 501.60,295.08 501.08,295.37 500.58,295.67 500.08,295.97 499.58,296.27 499.10,296.58 498.62,296.90 498.15,297.22 497.68,297.55 497.22,297.88 496.77,298.21 496.32,298.56 495.88,298.91 495.44,299.26 495.01,299.62 494.59,299.98 494.17,300.35 493.75,300.73 493.34,301.11 492.93,301.50 492.53,301.89 492.14,302.28 491.74,302.69 491.36,303.09 490.97,303.51 490.59,303.92 490.22,304.35 489.85,304.78 489.48,305.21 489.12,305.65 488.76,306.10 488.40,306.55 488.05,307.01 487.70,307.47 487.35,307.93 487.01,308.41 486.67,308.88 486.33,309.37 486.00,309.86 485.67,310.35 485.34,310.85 485.02,311.35 484.70,311.86 484.38,312.38 484.06,312.90 483.75,313.43 483.44,313.96 483.13,314.50 482.82,315.04 482.52,315.59 482.22,316.14 481.92,316.70 481.63,317.26 481.33,317.83 481.04,318.41 480.75,318.99 480.47,319.57 480.18,320.17 479.90,320.76 479.62,321.36 479.34,321.97 479.06,322.58 478.79,323.20 478.52,323.83 478.24,324.46 477.98,325.09 477.71,325.73 477.44,326.38 477.18,327.03 476.92,327.68 476.66,328.34 476.40,329.01 476.14,329.68 475.89,330.36 475.63,331.04 475.38,331.73 475.13,332.43 474.88,333.12 474.63,333.83 474.39,334.54 474.14,335.25 473.90,335.98 473.66,336.70 473.42,337.43 473.18,338.17 472.94,338.91 472.70,339.66 472.47,340.41 472.23,341.17 472.00,341.94 471.77,342.71 471.54,343.48 471.31,344.26 471.08,345.05 470.85,345.84 470.63,346.63 470.40,347.44 470.18,348.24 469.96,349.06 469.73,349.87 469.51,350.70 469.29,351.53 469.08,352.36 468.86,353.20 468.64,354.04 468.43,354.89 468.21,355.75 468.00,356.61 467.79,357.48 467.57,358.35 467.36,359.23 467.15,360.11 466.94,361.00 466.74,361.89 466.53,362.79 466.32,363.70 466.12,364.61 465.91,365.52 465.71,366.44 465.50,367.37 465.30,368.30 465.10,369.24 464.90,370.18 464.70,371.12 464.50,372.08 464.30,373.04 464.10,374.00 463.91,374.97 463.71,375.94 463.51,376.92 463.32,377.91 463.12,378.90 462.93,379.90 462.74,380.90 462.54,381.90 462.35,382.92 462.16,383.93 461.97,384.96 461.78,385.99 461.59,387.02 461.40,388.06 461.21,389.10 461.03,390.15 460.84,391.21 460.65,392.27 460.47,393.34 460.28,394.41 460.10,395.49" fill="none" stroke="#cc3c52" stroke-width="1.3" stroke-linejoin="round" stroke-linecap="round" />
<rect x="399.6" y="284.8" width="137.70" height="109.40" fill="none" stroke="#222" stroke-width="1.2"/>
<line x1="399.60" y1="287.50" x2="397.00" y2="287.50" stroke="#222" stroke-width="1" />
<line x1="399.60" y1="302.33" x2="398.00" y2="302.33" stroke="#222" stroke-width="1" />
<line x1="399.60" y1="317.17" x2="397.00" y2="317.17" stroke="#222" stroke-width="1" />
<line x1="399.60" y1="332.00" x2="398.00" y2="332.00" stroke="#222" stroke-width="1" />
<line x1="399.60" y1="346.83" x2="397.00" y2="346.83" stroke="#222" stroke-width="1" />
<line x1="399.60" y1="361.67" x2="398.00" y2="361.67" stroke="#222" stroke-width="1" />
<line x1="399.60" y1="376.50" x2="397.00" y2="376.50" stroke="#222" stroke-width="1" />
<line x1="399.60" y1="391.33" x2="398.00" y2="391.33" stroke="#222" stroke-width="1" />
<line x1="399.60" y1="394.20" x2="399.60" y2="396.80" stroke="#222" stroke-width="1" />
<line x1="416.81" y1="394.20" x2="416.81" y2="395.80" stroke="#222" stroke-width="1" />
<line x1="434.02" y1="394.20" x2="434.02" y2="396.80" stroke="#222" stroke-width="1" />
<line x1="451.24" y1="394.20" x2="451.24" y2="395.80" stroke="#222" stroke-width="1" />
<line x1="468.45" y1="394.20" x2="468.45" y2="396.80" stroke="#222" stroke-width="1" />
<line x1="485.66" y1="394.20" x2="485.66" y2="395.80" stroke="#222" stroke-width="1" />
<line x1="502.87" y1="394.20" x2="502.87" y2="396.80" stroke="#222" stroke-width="1" />
<line x1="520.09" y1="394.20" x2="520.09" y2="395.80" stroke="#222" stroke-width="1" />
<line x1="537.30" y1="394.20" x2="537.30" y2="396.80" stroke="#222" stroke-width="1" />
<text x="391.30" y="291.30" font-family='"Liberation Sans", sans-serif' font-weight="normal" font-size="10" fill="#111" textLength="4.90" lengthAdjust="spacingAndGlyphs" >0</text>
<text x="384.00" y="320.97" font-family='"Liberation Sans", sans-serif' font-weight="normal" font-size="10" fill="#111" textLength="12.20" lengthAdjust="spacingAndGlyphs" >-50</text>
<text x="377.80" y="350.63" font-family='"Liberation Sans", sans-serif' font-weight="normal" font-size="10" fill="#111" textLength="18.40" lengthAdjust="spacingAndGlyphs" >-100</text>
<text x="377.80" y="380.30" font-family='"Liberation Sans", sans-serif' font-weight="normal" font-size="10" fill="#111" textLength="18.40" lengthAdjust="spacingAndGlyphs" >-150</text>
<text x="391.30" y="405.63" font-family='"Liberation Sans", sans-serif' font-weight="normal" font-size="9.8" fill="#111" textLength="15.80" lengthAdjust="spacingAndGlyphs" >-0.4</text>
<text x="425.72" y="405.63" font-family='"Liberation Sans", sans-serif' font-weight="normal" font-size="9.8" fill="#111" textLength="15.80" lengthAdjust="spacingAndGlyphs" >-0.3</text>
<text x="460.15" y="405.63" font-family='"Liberation Sans", sans-serif' font-weight="normal" font-size="9.8" fill="#111" textLength="15.80" lengthAdjust="spacingAndGlyphs" >-0.2</text>
<text x="494.57" y="405.63" font-family='"Liberation Sans", sans-serif' font-weight="normal" font-size="9.8" fill="#111" textLength="15.80" lengthAdjust="spacingAndGlyphs" >-0.1</text>
<text x="530.50" y="405.63" font-family='"Liberation Sans", sans-serif' font-weight="normal" font-size="9.8" fill="#111" textLength="13.60" lengthAdjust="spacingAndGlyphs" >0.0</text>
<text x="424.60" y="415.07" font-family='"Liberation Sans", sans-serif' font-weight="normal" font-size="10.2" fill="#111" textLength="87.40" lengthAdjust="spacingAndGlyphs" >Potential (V vs. RHE)</text>
<text transform="translate(377.23,391.80) rotate(-90)" x="0" y="0" font-family='"Liberation Sans", sans-serif' font-weight="normal" font-size="9.8" fill="#111" textLength="106.60" lengthAdjust="spacingAndGlyphs">Current density (mA cm<tspan font-size="6.5" dy="-3.5">-2</tspan><tspan dy="3.5">)</tspan></text>
<line x1="403.10" y1="290.60" x2="419.40" y2="290.60" stroke="#6a5aa8" stroke-width="1.6" />
<line x1="403.10" y1="300.20" x2="419.40" y2="300.20" stroke="#c83a50" stroke-width="1.6" />
<text x="421.80" y="293.72" font-family='"Liberation Sans", sans-serif' font-weight="normal" font-size="8.4" fill="#7a6ab8" textLength="34.50" lengthAdjust="spacingAndGlyphs" >Initial cycle</text>
<text x="421.80" y="302.62" font-family='"Liberation Sans", sans-serif' font-weight="normal" font-size="8.4" fill="#c83a50" textLength="68.20" lengthAdjust="spacingAndGlyphs" >After 4000 CV cycles</text>
<text x="362.10" y="280.70" font-family='"Liberation Serif", serif' font-weight="bold" font-size="19" fill="#111" textLength="17.30" lengthAdjust="spacingAndGlyphs">(i)</text>
</svg>
</body></html>
